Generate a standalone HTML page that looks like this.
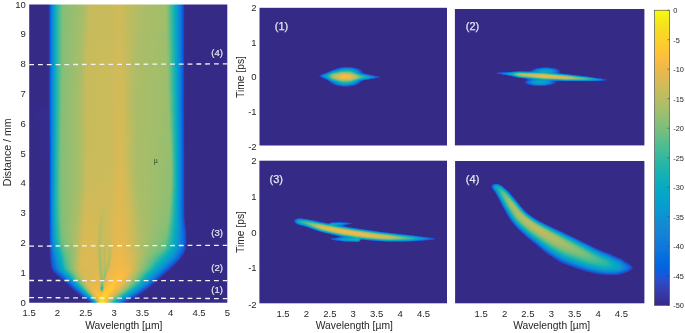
<!DOCTYPE html>
<html><head><meta charset="utf-8"><title>Spectral evolution</title>
<style>html,body{margin:0;padding:0;background:#fff}svg{display:block}text{font-family:"Liberation Sans",sans-serif}</style></head>
<body>
<svg width="685" height="333" viewBox="0 0 685 333">
<defs>
<filter id="pf" x="0" y="0" width="685" height="333" filterUnits="userSpaceOnUse" color-interpolation-filters="sRGB"><feComponentTransfer><feFuncR type="table" tableValues="0.2081 0.2116 0.2123 0.2081 0.1959 0.1707 0.1253 0.0591 0.0117 0.006 0.0165 0.0329 0.0498 0.0629 0.0723 0.0779 0.0793 0.0749 0.0641 0.0488 0.0343 0.0265 0.0239 0.0231 0.0228 0.0267 0.0384 0.059 0.0843 0.1133 0.1453 0.1801 0.2178 0.2586 0.3022 0.3482 0.3953 0.442 0.4871 0.53 0.5709 0.6099 0.6473 0.6834 0.7184 0.7525 0.7858 0.8185 0.8507 0.8824 0.9139 0.945 0.9739 0.9938 0.999 0.9955 0.988 0.9789 0.9697 0.9626 0.9589 0.9598 0.9661 0.9763"/><feFuncG type="table" tableValues="0.1663 0.1898 0.2138 0.2386 0.2645 0.2919 0.3242 0.3598 0.3875 0.4086 0.4266 0.443 0.4586 0.4737 0.4887 0.504 0.52 0.5375 0.557 0.5772 0.5966 0.6137 0.6287 0.6418 0.6535 0.6642 0.6743 0.6838 0.6928 0.7015 0.7098 0.7177 0.725 0.7317 0.7376 0.7424 0.7459 0.7481 0.7491 0.7491 0.7485 0.7473 0.7456 0.7435 0.7411 0.7384 0.7356 0.7327 0.7299 0.7274 0.7258 0.7261 0.7314 0.7455 0.7653 0.7861 0.8066 0.8271 0.8481 0.8705 0.8949 0.9218 0.9514 0.9831"/><feFuncB type="table" tableValues="0.5292 0.5777 0.627 0.6771 0.7279 0.7792 0.8303 0.8683 0.882 0.8828 0.8786 0.872 0.8641 0.8554 0.8467 0.8384 0.8312 0.8263 0.824 0.8228 0.8199 0.8135 0.8038 0.7913 0.7768 0.7607 0.7436 0.7254 0.7062 0.6859 0.6646 0.6424 0.6193 0.5954 0.5712 0.5473 0.5244 0.5033 0.484 0.4661 0.4494 0.4337 0.4188 0.4044 0.3905 0.3768 0.3633 0.3498 0.336 0.3217 0.3063 0.2886 0.2666 0.2403 0.2164 0.1967 0.1794 0.1633 0.1475 0.1309 0.1132 0.0948 0.0755 0.0538"/></feComponentTransfer></filter>
<linearGradient id="a0" gradientUnits="userSpaceOnUse" x1="29" x2="228"><stop offset=".003" stop-color="#000"/><stop offset=".093" stop-color="#000"/><stop offset=".098" stop-color="#020202"/><stop offset=".103" stop-color="#0c0c0c"/><stop offset=".108" stop-color="#232323"/><stop offset=".113" stop-color="#353535"/><stop offset=".133" stop-color="#6d6d6d"/><stop offset=".138" stop-color="#777"/><stop offset=".143" stop-color="#7e7e7e"/><stop offset=".163" stop-color="#959595"/><stop offset=".173" stop-color="#9e9e9e"/><stop offset=".279" stop-color="#acacac"/><stop offset=".309" stop-color="#bababa"/><stop offset=".415" stop-color="#bababa"/><stop offset=".45" stop-color="#bebebe"/><stop offset=".56" stop-color="#aeaeae"/><stop offset=".686" stop-color="#a8a8a8"/><stop offset=".696" stop-color="#9f9f9f"/><stop offset=".731" stop-color="#707070"/><stop offset=".766" stop-color="#2b2b2b"/><stop offset=".771" stop-color="#1f1f1f"/><stop offset=".776" stop-color="#0f0f0f"/><stop offset=".781" stop-color="#030303"/><stop offset=".786" stop-color="#000"/><stop offset=".997" stop-color="#000"/></linearGradient>
<linearGradient id="a1" gradientUnits="userSpaceOnUse" x1="29" x2="228"><stop offset=".003" stop-color="#000"/><stop offset=".093" stop-color="#000"/><stop offset=".098" stop-color="#020202"/><stop offset=".103" stop-color="#0c0c0c"/><stop offset=".108" stop-color="#232323"/><stop offset=".113" stop-color="#353535"/><stop offset=".133" stop-color="#6d6d6d"/><stop offset=".138" stop-color="#777"/><stop offset=".143" stop-color="#7e7e7e"/><stop offset=".163" stop-color="#969696"/><stop offset=".173" stop-color="#9e9e9e"/><stop offset=".274" stop-color="#ababab"/><stop offset=".304" stop-color="#bababa"/><stop offset=".415" stop-color="#bababa"/><stop offset=".45" stop-color="#bebebe"/><stop offset=".56" stop-color="#adadad"/><stop offset=".686" stop-color="#a8a8a8"/><stop offset=".696" stop-color="#9f9f9f"/><stop offset=".731" stop-color="#707070"/><stop offset=".766" stop-color="#2b2b2b"/><stop offset=".771" stop-color="#1f1f1f"/><stop offset=".776" stop-color="#0f0f0f"/><stop offset=".781" stop-color="#030303"/><stop offset=".786" stop-color="#000"/><stop offset=".997" stop-color="#000"/></linearGradient>
<linearGradient id="a2" gradientUnits="userSpaceOnUse" x1="29" x2="228"><stop offset=".003" stop-color="#000"/><stop offset=".093" stop-color="#000"/><stop offset=".098" stop-color="#020202"/><stop offset=".103" stop-color="#0c0c0c"/><stop offset=".108" stop-color="#232323"/><stop offset=".113" stop-color="#353535"/><stop offset=".133" stop-color="#6d6d6d"/><stop offset=".138" stop-color="#777"/><stop offset=".143" stop-color="#7e7e7e"/><stop offset=".163" stop-color="#969696"/><stop offset=".173" stop-color="#9e9e9e"/><stop offset=".274" stop-color="#acacac"/><stop offset=".304" stop-color="#bababa"/><stop offset=".415" stop-color="#bababa"/><stop offset=".45" stop-color="#bebebe"/><stop offset=".555" stop-color="#aeaeae"/><stop offset=".681" stop-color="#a9a9a9"/><stop offset=".691" stop-color="#a5a5a5"/><stop offset=".731" stop-color="#707070"/><stop offset=".766" stop-color="#2c2c2c"/><stop offset=".771" stop-color="#1f1f1f"/><stop offset=".776" stop-color="#0f0f0f"/><stop offset=".781" stop-color="#030303"/><stop offset=".786" stop-color="#000"/><stop offset=".997" stop-color="#000"/></linearGradient>
<linearGradient id="a3" gradientUnits="userSpaceOnUse" x1="29" x2="228"><stop offset=".003" stop-color="#000"/><stop offset=".093" stop-color="#000"/><stop offset=".098" stop-color="#020202"/><stop offset=".103" stop-color="#0c0c0c"/><stop offset=".108" stop-color="#232323"/><stop offset=".113" stop-color="#353535"/><stop offset=".133" stop-color="#6d6d6d"/><stop offset=".138" stop-color="#777"/><stop offset=".143" stop-color="#7e7e7e"/><stop offset=".163" stop-color="#969696"/><stop offset=".173" stop-color="#9e9e9e"/><stop offset=".269" stop-color="#ababab"/><stop offset=".304" stop-color="#bababa"/><stop offset=".415" stop-color="#bababa"/><stop offset=".45" stop-color="#bebebe"/><stop offset=".55" stop-color="#aeaeae"/><stop offset=".681" stop-color="#a9a9a9"/><stop offset=".691" stop-color="#a6a6a6"/><stop offset=".731" stop-color="#717171"/><stop offset=".766" stop-color="#2c2c2c"/><stop offset=".771" stop-color="#1f1f1f"/><stop offset=".776" stop-color="#0f0f0f"/><stop offset=".781" stop-color="#030303"/><stop offset=".786" stop-color="#000"/><stop offset=".997" stop-color="#000"/></linearGradient>
<linearGradient id="a4" gradientUnits="userSpaceOnUse" x1="29" x2="228"><stop offset=".003" stop-color="#000"/><stop offset=".093" stop-color="#000"/><stop offset=".098" stop-color="#020202"/><stop offset=".103" stop-color="#0c0c0c"/><stop offset=".108" stop-color="#232323"/><stop offset=".113" stop-color="#353535"/><stop offset=".133" stop-color="#6d6d6d"/><stop offset=".143" stop-color="#7e7e7e"/><stop offset=".163" stop-color="#979797"/><stop offset=".173" stop-color="#9e9e9e"/><stop offset=".264" stop-color="#ababab"/><stop offset=".299" stop-color="#bababa"/><stop offset=".415" stop-color="#bababa"/><stop offset=".45" stop-color="#bebebe"/><stop offset=".485" stop-color="#bababa"/><stop offset=".55" stop-color="#adadad"/><stop offset=".691" stop-color="#a6a6a6"/><stop offset=".731" stop-color="#717171"/><stop offset=".766" stop-color="#2c2c2c"/><stop offset=".771" stop-color="#1f1f1f"/><stop offset=".776" stop-color="#0f0f0f"/><stop offset=".781" stop-color="#030303"/><stop offset=".786" stop-color="#000"/><stop offset=".997" stop-color="#000"/></linearGradient>
<linearGradient id="a5" gradientUnits="userSpaceOnUse" x1="29" x2="228"><stop offset=".003" stop-color="#000"/><stop offset=".093" stop-color="#000"/><stop offset=".098" stop-color="#020202"/><stop offset=".103" stop-color="#0c0c0c"/><stop offset=".108" stop-color="#232323"/><stop offset=".113" stop-color="#353535"/><stop offset=".133" stop-color="#6d6d6d"/><stop offset=".138" stop-color="#777"/><stop offset=".148" stop-color="#858585"/><stop offset=".163" stop-color="#979797"/><stop offset=".173" stop-color="#9e9e9e"/><stop offset=".264" stop-color="#ababab"/><stop offset=".299" stop-color="#bababa"/><stop offset=".415" stop-color="#bbb"/><stop offset=".45" stop-color="#bebebe"/><stop offset=".485" stop-color="#bababa"/><stop offset=".545" stop-color="#aeaeae"/><stop offset=".691" stop-color="#a7a7a7"/><stop offset=".701" stop-color="#9b9b9b"/><stop offset=".731" stop-color="#727272"/><stop offset=".766" stop-color="#2c2c2c"/><stop offset=".771" stop-color="#202020"/><stop offset=".776" stop-color="#0f0f0f"/><stop offset=".781" stop-color="#030303"/><stop offset=".786" stop-color="#000"/><stop offset=".997" stop-color="#000"/></linearGradient>
<linearGradient id="a6" gradientUnits="userSpaceOnUse" x1="29" x2="228"><stop offset=".003" stop-color="#000"/><stop offset=".093" stop-color="#000"/><stop offset=".098" stop-color="#020202"/><stop offset=".103" stop-color="#0c0c0c"/><stop offset=".108" stop-color="#232323"/><stop offset=".113" stop-color="#353535"/><stop offset=".133" stop-color="#6d6d6d"/><stop offset=".143" stop-color="#7f7f7f"/><stop offset=".168" stop-color="#9d9d9d"/><stop offset=".259" stop-color="#ababab"/><stop offset=".294" stop-color="#bababa"/><stop offset=".415" stop-color="#bbb"/><stop offset=".45" stop-color="#bfbfbf"/><stop offset=".485" stop-color="#bababa"/><stop offset=".545" stop-color="#adadad"/><stop offset=".691" stop-color="#a7a7a7"/><stop offset=".701" stop-color="#9c9c9c"/><stop offset=".726" stop-color="#7a7a7a"/><stop offset=".736" stop-color="#6a6a6a"/><stop offset=".766" stop-color="#2c2c2c"/><stop offset=".771" stop-color="#202020"/><stop offset=".776" stop-color="#0f0f0f"/><stop offset=".781" stop-color="#030303"/><stop offset=".786" stop-color="#000"/><stop offset=".997" stop-color="#000"/></linearGradient>
<linearGradient id="a7" gradientUnits="userSpaceOnUse" x1="29" x2="228"><stop offset=".003" stop-color="#000"/><stop offset=".093" stop-color="#000"/><stop offset=".098" stop-color="#020202"/><stop offset=".103" stop-color="#0c0c0c"/><stop offset=".108" stop-color="#232323"/><stop offset=".113" stop-color="#353535"/><stop offset=".133" stop-color="#6d6d6d"/><stop offset=".143" stop-color="#7f7f7f"/><stop offset=".168" stop-color="#9d9d9d"/><stop offset=".259" stop-color="#ababab"/><stop offset=".294" stop-color="#bababa"/><stop offset=".415" stop-color="#bbb"/><stop offset=".45" stop-color="#bfbfbf"/><stop offset=".485" stop-color="#bababa"/><stop offset=".54" stop-color="#adadad"/><stop offset=".691" stop-color="#a7a7a7"/><stop offset=".701" stop-color="#9e9e9e"/><stop offset=".736" stop-color="#6b6b6b"/><stop offset=".766" stop-color="#2c2c2c"/><stop offset=".771" stop-color="#202020"/><stop offset=".776" stop-color="#0f0f0f"/><stop offset=".781" stop-color="#030303"/><stop offset=".786" stop-color="#000"/><stop offset=".997" stop-color="#000"/></linearGradient>
<linearGradient id="a8" gradientUnits="userSpaceOnUse" x1="29" x2="228"><stop offset=".003" stop-color="#000"/><stop offset=".093" stop-color="#000"/><stop offset=".098" stop-color="#020202"/><stop offset=".103" stop-color="#0c0c0c"/><stop offset=".108" stop-color="#232323"/><stop offset=".113" stop-color="#353535"/><stop offset=".133" stop-color="#6d6d6d"/><stop offset=".143" stop-color="#7f7f7f"/><stop offset=".168" stop-color="#9d9d9d"/><stop offset=".259" stop-color="#ababab"/><stop offset=".289" stop-color="#bababa"/><stop offset=".415" stop-color="#bbb"/><stop offset=".45" stop-color="#bfbfbf"/><stop offset=".485" stop-color="#bababa"/><stop offset=".535" stop-color="#aeaeae"/><stop offset=".686" stop-color="#a8a8a8"/><stop offset=".696" stop-color="#a5a5a5"/><stop offset=".726" stop-color="#7c7c7c"/><stop offset=".736" stop-color="#6c6c6c"/><stop offset=".766" stop-color="#2c2c2c"/><stop offset=".771" stop-color="#202020"/><stop offset=".776" stop-color="#0f0f0f"/><stop offset=".781" stop-color="#030303"/><stop offset=".786" stop-color="#000"/><stop offset=".997" stop-color="#000"/></linearGradient>
<linearGradient id="a9" gradientUnits="userSpaceOnUse" x1="29" x2="228"><stop offset=".003" stop-color="#000"/><stop offset=".093" stop-color="#000"/><stop offset=".098" stop-color="#020202"/><stop offset=".103" stop-color="#0c0c0c"/><stop offset=".108" stop-color="#232323"/><stop offset=".113" stop-color="#353535"/><stop offset=".133" stop-color="#6d6d6d"/><stop offset=".143" stop-color="#7f7f7f"/><stop offset=".163" stop-color="#999"/><stop offset=".168" stop-color="#9d9d9d"/><stop offset=".254" stop-color="#aaa"/><stop offset=".289" stop-color="#bababa"/><stop offset=".415" stop-color="#bbb"/><stop offset=".45" stop-color="#c0c0c0"/><stop offset=".485" stop-color="#bbb"/><stop offset=".535" stop-color="#aeaeae"/><stop offset=".696" stop-color="#a6a6a6"/><stop offset=".706" stop-color="#999"/><stop offset=".736" stop-color="#6d6d6d"/><stop offset=".766" stop-color="#2d2d2d"/><stop offset=".771" stop-color="#202020"/><stop offset=".776" stop-color="#0f0f0f"/><stop offset=".781" stop-color="#030303"/><stop offset=".786" stop-color="#000"/><stop offset=".997" stop-color="#000"/></linearGradient>
<linearGradient id="a10" gradientUnits="userSpaceOnUse" x1="29" x2="228"><stop offset=".003" stop-color="#000"/><stop offset=".093" stop-color="#000"/><stop offset=".098" stop-color="#020202"/><stop offset=".103" stop-color="#0c0c0c"/><stop offset=".108" stop-color="#232323"/><stop offset=".113" stop-color="#353535"/><stop offset=".133" stop-color="#6d6d6d"/><stop offset=".143" stop-color="#7f7f7f"/><stop offset=".163" stop-color="#999"/><stop offset=".168" stop-color="#9e9e9e"/><stop offset=".254" stop-color="#ababab"/><stop offset=".289" stop-color="#bababa"/><stop offset=".415" stop-color="#bbb"/><stop offset=".45" stop-color="#c0c0c0"/><stop offset=".485" stop-color="#bbb"/><stop offset=".535" stop-color="#adadad"/><stop offset=".696" stop-color="#a6a6a6"/><stop offset=".706" stop-color="#9a9a9a"/><stop offset=".736" stop-color="#6e6e6e"/><stop offset=".766" stop-color="#2d2d2d"/><stop offset=".771" stop-color="#202020"/><stop offset=".776" stop-color="#0f0f0f"/><stop offset=".781" stop-color="#030303"/><stop offset=".786" stop-color="#000"/><stop offset=".997" stop-color="#000"/></linearGradient>
<linearGradient id="a11" gradientUnits="userSpaceOnUse" x1="29" x2="228"><stop offset=".003" stop-color="#000"/><stop offset=".093" stop-color="#000"/><stop offset=".098" stop-color="#020202"/><stop offset=".103" stop-color="#0c0c0c"/><stop offset=".108" stop-color="#232323"/><stop offset=".113" stop-color="#353535"/><stop offset=".133" stop-color="#6d6d6d"/><stop offset=".143" stop-color="#7f7f7f"/><stop offset=".163" stop-color="#9a9a9a"/><stop offset=".168" stop-color="#9e9e9e"/><stop offset=".254" stop-color="#ababab"/><stop offset=".289" stop-color="#bababa"/><stop offset=".415" stop-color="#bbb"/><stop offset=".45" stop-color="#c0c0c0"/><stop offset=".485" stop-color="#bbb"/><stop offset=".535" stop-color="#adadad"/><stop offset=".696" stop-color="#a6a6a6"/><stop offset=".706" stop-color="#9c9c9c"/><stop offset=".736" stop-color="#6f6f6f"/><stop offset=".766" stop-color="#2d2d2d"/><stop offset=".771" stop-color="#202020"/><stop offset=".776" stop-color="#0f0f0f"/><stop offset=".781" stop-color="#030303"/><stop offset=".786" stop-color="#000"/><stop offset=".997" stop-color="#000"/></linearGradient>
<linearGradient id="a12" gradientUnits="userSpaceOnUse" x1="29" x2="228"><stop offset=".003" stop-color="#000"/><stop offset=".093" stop-color="#000"/><stop offset=".098" stop-color="#020202"/><stop offset=".103" stop-color="#0c0c0c"/><stop offset=".108" stop-color="#232323"/><stop offset=".113" stop-color="#353535"/><stop offset=".133" stop-color="#6d6d6d"/><stop offset=".143" stop-color="#808080"/><stop offset=".163" stop-color="#9a9a9a"/><stop offset=".168" stop-color="#9e9e9e"/><stop offset=".254" stop-color="#ababab"/><stop offset=".289" stop-color="#bababa"/><stop offset=".415" stop-color="#bbb"/><stop offset=".455" stop-color="#c0c0c0"/><stop offset=".485" stop-color="#bbb"/><stop offset=".535" stop-color="#adadad"/><stop offset=".696" stop-color="#a6a6a6"/><stop offset=".701" stop-color="#a3a3a3"/><stop offset=".706" stop-color="#9d9d9d"/><stop offset=".736" stop-color="#707070"/><stop offset=".766" stop-color="#2d2d2d"/><stop offset=".771" stop-color="#202020"/><stop offset=".776" stop-color="#0f0f0f"/><stop offset=".781" stop-color="#030303"/><stop offset=".786" stop-color="#000"/><stop offset=".997" stop-color="#000"/></linearGradient>
<linearGradient id="a13" gradientUnits="userSpaceOnUse" x1="29" x2="228"><stop offset=".003" stop-color="#000"/><stop offset=".098" stop-color="#020202"/><stop offset=".103" stop-color="#0c0c0c"/><stop offset=".108" stop-color="#232323"/><stop offset=".113" stop-color="#353535"/><stop offset=".133" stop-color="#6d6d6d"/><stop offset=".138" stop-color="#787878"/><stop offset=".153" stop-color="#8e8e8e"/><stop offset=".163" stop-color="#9b9b9b"/><stop offset=".168" stop-color="#9e9e9e"/><stop offset=".254" stop-color="#ababab"/><stop offset=".289" stop-color="#bababa"/><stop offset=".415" stop-color="#bbb"/><stop offset=".455" stop-color="#c1c1c1"/><stop offset=".485" stop-color="#bbb"/><stop offset=".535" stop-color="#adadad"/><stop offset=".691" stop-color="#a7a7a7"/><stop offset=".701" stop-color="#a4a4a4"/><stop offset=".736" stop-color="#707070"/><stop offset=".766" stop-color="#2e2e2e"/><stop offset=".771" stop-color="#202020"/><stop offset=".776" stop-color="#0f0f0f"/><stop offset=".781" stop-color="#030303"/><stop offset=".786" stop-color="#000"/><stop offset=".997" stop-color="#000"/></linearGradient>
<linearGradient id="a14" gradientUnits="userSpaceOnUse" x1="29" x2="228"><stop offset=".003" stop-color="#000"/><stop offset=".098" stop-color="#020202"/><stop offset=".103" stop-color="#0c0c0c"/><stop offset=".108" stop-color="#232323"/><stop offset=".113" stop-color="#353535"/><stop offset=".133" stop-color="#6e6e6e"/><stop offset=".138" stop-color="#787878"/><stop offset=".158" stop-color="#959595"/><stop offset=".168" stop-color="#9e9e9e"/><stop offset=".254" stop-color="#ababab"/><stop offset=".289" stop-color="#bababa"/><stop offset=".415" stop-color="#bbb"/><stop offset=".455" stop-color="#c1c1c1"/><stop offset=".485" stop-color="#bbb"/><stop offset=".535" stop-color="#adadad"/><stop offset=".701" stop-color="#a5a5a5"/><stop offset=".706" stop-color="#9f9f9f"/><stop offset=".736" stop-color="#717171"/><stop offset=".766" stop-color="#2e2e2e"/><stop offset=".771" stop-color="#212121"/><stop offset=".776" stop-color="#101010"/><stop offset=".781" stop-color="#030303"/><stop offset=".786" stop-color="#000"/><stop offset=".997" stop-color="#000"/></linearGradient>
<linearGradient id="a15" gradientUnits="userSpaceOnUse" x1="29" x2="228"><stop offset=".003" stop-color="#000"/><stop offset=".098" stop-color="#020202"/><stop offset=".103" stop-color="#0c0c0c"/><stop offset=".108" stop-color="#222"/><stop offset=".113" stop-color="#343434"/><stop offset=".133" stop-color="#6e6e6e"/><stop offset=".138" stop-color="#787878"/><stop offset=".158" stop-color="#969696"/><stop offset=".168" stop-color="#9e9e9e"/><stop offset=".254" stop-color="#ababab"/><stop offset=".289" stop-color="#bababa"/><stop offset=".415" stop-color="#bcbcbc"/><stop offset=".455" stop-color="#c1c1c1"/><stop offset=".485" stop-color="#bcbcbc"/><stop offset=".535" stop-color="#adadad"/><stop offset=".701" stop-color="#a5a5a5"/><stop offset=".711" stop-color="#999"/><stop offset=".736" stop-color="#717171"/><stop offset=".766" stop-color="#2e2e2e"/><stop offset=".781" stop-color="#030303"/><stop offset=".786" stop-color="#000"/><stop offset=".997" stop-color="#000"/></linearGradient>
<linearGradient id="a16" gradientUnits="userSpaceOnUse" x1="29" x2="228"><stop offset=".003" stop-color="#000"/><stop offset=".098" stop-color="#010101"/><stop offset=".103" stop-color="#0b0b0b"/><stop offset=".108" stop-color="#222"/><stop offset=".113" stop-color="#343434"/><stop offset=".133" stop-color="#6e6e6e"/><stop offset=".138" stop-color="#797979"/><stop offset=".158" stop-color="#969696"/><stop offset=".163" stop-color="#9c9c9c"/><stop offset=".168" stop-color="#9e9e9e"/><stop offset=".254" stop-color="#ababab"/><stop offset=".289" stop-color="#bababa"/><stop offset=".415" stop-color="#bcbcbc"/><stop offset=".455" stop-color="#c2c2c2"/><stop offset=".485" stop-color="#bcbcbc"/><stop offset=".535" stop-color="#adadad"/><stop offset=".701" stop-color="#a5a5a5"/><stop offset=".706" stop-color="#a1a1a1"/><stop offset=".711" stop-color="#9a9a9a"/><stop offset=".741" stop-color="#686868"/><stop offset=".766" stop-color="#2f2f2f"/><stop offset=".781" stop-color="#040404"/><stop offset=".786" stop-color="#000"/><stop offset=".997" stop-color="#000"/></linearGradient>
<linearGradient id="a17" gradientUnits="userSpaceOnUse" x1="29" x2="228"><stop offset=".003" stop-color="#000"/><stop offset=".098" stop-color="#010101"/><stop offset=".103" stop-color="#0b0b0b"/><stop offset=".108" stop-color="#222"/><stop offset=".113" stop-color="#343434"/><stop offset=".133" stop-color="#6e6e6e"/><stop offset=".138" stop-color="#797979"/><stop offset=".158" stop-color="#969696"/><stop offset=".163" stop-color="#9c9c9c"/><stop offset=".168" stop-color="#9f9f9f"/><stop offset=".254" stop-color="#ababab"/><stop offset=".289" stop-color="#bababa"/><stop offset=".415" stop-color="#bcbcbc"/><stop offset=".455" stop-color="#c2c2c2"/><stop offset=".485" stop-color="#bcbcbc"/><stop offset=".535" stop-color="#adadad"/><stop offset=".696" stop-color="#a6a6a6"/><stop offset=".706" stop-color="#a3a3a3"/><stop offset=".741" stop-color="#686868"/><stop offset=".766" stop-color="#2f2f2f"/><stop offset=".781" stop-color="#040404"/><stop offset=".786" stop-color="#000"/><stop offset=".997" stop-color="#000"/></linearGradient>
<linearGradient id="a18" gradientUnits="userSpaceOnUse" x1="29" x2="228"><stop offset=".003" stop-color="#000"/><stop offset=".098" stop-color="#010101"/><stop offset=".103" stop-color="#0b0b0b"/><stop offset=".108" stop-color="#222"/><stop offset=".113" stop-color="#343434"/><stop offset=".133" stop-color="#6f6f6f"/><stop offset=".143" stop-color="#818181"/><stop offset=".163" stop-color="#9d9d9d"/><stop offset=".254" stop-color="#ababab"/><stop offset=".289" stop-color="#bababa"/><stop offset=".415" stop-color="#bcbcbc"/><stop offset=".455" stop-color="#c2c2c2"/><stop offset=".485" stop-color="#bcbcbc"/><stop offset=".535" stop-color="#adadad"/><stop offset=".696" stop-color="#a6a6a6"/><stop offset=".706" stop-color="#a4a4a4"/><stop offset=".716" stop-color="#959595"/><stop offset=".741" stop-color="#696969"/><stop offset=".766" stop-color="#303030"/><stop offset=".781" stop-color="#040404"/><stop offset=".786" stop-color="#000"/><stop offset=".997" stop-color="#000"/></linearGradient>
<linearGradient id="a19" gradientUnits="userSpaceOnUse" x1="29" x2="228"><stop offset=".003" stop-color="#000"/><stop offset=".098" stop-color="#010101"/><stop offset=".103" stop-color="#0a0a0a"/><stop offset=".108" stop-color="#212121"/><stop offset=".113" stop-color="#343434"/><stop offset=".133" stop-color="#6f6f6f"/><stop offset=".143" stop-color="#818181"/><stop offset=".163" stop-color="#9d9d9d"/><stop offset=".254" stop-color="#ababab"/><stop offset=".289" stop-color="#bababa"/><stop offset=".415" stop-color="#bcbcbc"/><stop offset=".455" stop-color="#c2c2c2"/><stop offset=".485" stop-color="#bcbcbc"/><stop offset=".535" stop-color="#adadad"/><stop offset=".706" stop-color="#a4a4a4"/><stop offset=".716" stop-color="#969696"/><stop offset=".741" stop-color="#696969"/><stop offset=".766" stop-color="#303030"/><stop offset=".771" stop-color="#232323"/><stop offset=".781" stop-color="#040404"/><stop offset=".786" stop-color="#000"/><stop offset=".997" stop-color="#000"/></linearGradient>
<linearGradient id="a20" gradientUnits="userSpaceOnUse" x1="29" x2="228"><stop offset=".003" stop-color="#000"/><stop offset=".098" stop-color="#010101"/><stop offset=".103" stop-color="#0a0a0a"/><stop offset=".108" stop-color="#212121"/><stop offset=".113" stop-color="#343434"/><stop offset=".133" stop-color="#6f6f6f"/><stop offset=".143" stop-color="#828282"/><stop offset=".163" stop-color="#9d9d9d"/><stop offset=".254" stop-color="#ababab"/><stop offset=".289" stop-color="#bababa"/><stop offset=".415" stop-color="#bcbcbc"/><stop offset=".455" stop-color="#c2c2c2"/><stop offset=".485" stop-color="#bdbdbd"/><stop offset=".535" stop-color="#adadad"/><stop offset=".706" stop-color="#a4a4a4"/><stop offset=".711" stop-color="#9f9f9f"/><stop offset=".716" stop-color="#979797"/><stop offset=".741" stop-color="#6a6a6a"/><stop offset=".766" stop-color="#303030"/><stop offset=".771" stop-color="#232323"/><stop offset=".781" stop-color="#040404"/><stop offset=".786" stop-color="#000"/><stop offset=".997" stop-color="#000"/></linearGradient>
<linearGradient id="a21" gradientUnits="userSpaceOnUse" x1="29" x2="228"><stop offset=".003" stop-color="#000"/><stop offset=".098" stop-color="#010101"/><stop offset=".103" stop-color="#090909"/><stop offset=".108" stop-color="#212121"/><stop offset=".113" stop-color="#343434"/><stop offset=".133" stop-color="#707070"/><stop offset=".143" stop-color="#828282"/><stop offset=".158" stop-color="#989898"/><stop offset=".163" stop-color="#9d9d9d"/><stop offset=".254" stop-color="#ababab"/><stop offset=".289" stop-color="#bababa"/><stop offset=".415" stop-color="#bcbcbc"/><stop offset=".455" stop-color="#c3c3c3"/><stop offset=".485" stop-color="#bdbdbd"/><stop offset=".535" stop-color="#adadad"/><stop offset=".706" stop-color="#a4a4a4"/><stop offset=".711" stop-color="#a0a0a0"/><stop offset=".716" stop-color="#999"/><stop offset=".741" stop-color="#6a6a6a"/><stop offset=".766" stop-color="#313131"/><stop offset=".771" stop-color="#242424"/><stop offset=".781" stop-color="#040404"/><stop offset=".786" stop-color="#000"/><stop offset=".997" stop-color="#000"/></linearGradient>
<linearGradient id="a22" gradientUnits="userSpaceOnUse" x1="29" x2="228"><stop offset=".003" stop-color="#000"/><stop offset=".098" stop-color="#010101"/><stop offset=".103" stop-color="#090909"/><stop offset=".108" stop-color="#202020"/><stop offset=".113" stop-color="#343434"/><stop offset=".133" stop-color="#707070"/><stop offset=".143" stop-color="#828282"/><stop offset=".158" stop-color="#989898"/><stop offset=".163" stop-color="#9d9d9d"/><stop offset=".254" stop-color="#ababab"/><stop offset=".289" stop-color="#bababa"/><stop offset=".415" stop-color="#bcbcbc"/><stop offset=".46" stop-color="#c3c3c3"/><stop offset=".535" stop-color="#adadad"/><stop offset=".701" stop-color="#a5a5a5"/><stop offset=".711" stop-color="#a2a2a2"/><stop offset=".741" stop-color="#6a6a6a"/><stop offset=".766" stop-color="#313131"/><stop offset=".771" stop-color="#242424"/><stop offset=".781" stop-color="#050505"/><stop offset=".786" stop-color="#000"/><stop offset=".997" stop-color="#000"/></linearGradient>
<linearGradient id="a23" gradientUnits="userSpaceOnUse" x1="29" x2="228"><stop offset=".003" stop-color="#000"/><stop offset=".098" stop-color="#010101"/><stop offset=".103" stop-color="#090909"/><stop offset=".108" stop-color="#202020"/><stop offset=".113" stop-color="#343434"/><stop offset=".133" stop-color="#717171"/><stop offset=".138" stop-color="#7b7b7b"/><stop offset=".153" stop-color="#929292"/><stop offset=".163" stop-color="#9d9d9d"/><stop offset=".254" stop-color="#ababab"/><stop offset=".289" stop-color="#bababa"/><stop offset=".415" stop-color="#bcbcbc"/><stop offset=".46" stop-color="#c3c3c3"/><stop offset=".535" stop-color="#adadad"/><stop offset=".701" stop-color="#a5a5a5"/><stop offset=".711" stop-color="#a2a2a2"/><stop offset=".716" stop-color="#9b9b9b"/><stop offset=".741" stop-color="#6a6a6a"/><stop offset=".771" stop-color="#252525"/><stop offset=".781" stop-color="#050505"/><stop offset=".786" stop-color="#000"/><stop offset=".997" stop-color="#000"/></linearGradient>
<linearGradient id="a24" gradientUnits="userSpaceOnUse" x1="29" x2="228"><stop offset=".003" stop-color="#000"/><stop offset=".098" stop-color="#000"/><stop offset=".103" stop-color="#080808"/><stop offset=".108" stop-color="#202020"/><stop offset=".113" stop-color="#343434"/><stop offset=".133" stop-color="#727272"/><stop offset=".138" stop-color="#7c7c7c"/><stop offset=".153" stop-color="#929292"/><stop offset=".163" stop-color="#9e9e9e"/><stop offset=".254" stop-color="#ababab"/><stop offset=".289" stop-color="#bbb"/><stop offset=".415" stop-color="#bcbcbc"/><stop offset=".46" stop-color="#c4c4c4"/><stop offset=".535" stop-color="#adadad"/><stop offset=".711" stop-color="#a3a3a3"/><stop offset=".716" stop-color="#9c9c9c"/><stop offset=".721" stop-color="#939393"/><stop offset=".741" stop-color="#6b6b6b"/><stop offset=".771" stop-color="#252525"/><stop offset=".781" stop-color="#050505"/><stop offset=".786" stop-color="#000"/><stop offset=".997" stop-color="#000"/></linearGradient>
<linearGradient id="a25" gradientUnits="userSpaceOnUse" x1="29" x2="228"><stop offset=".003" stop-color="#000"/><stop offset=".098" stop-color="#000"/><stop offset=".103" stop-color="#080808"/><stop offset=".108" stop-color="#202020"/><stop offset=".113" stop-color="#343434"/><stop offset=".133" stop-color="#737373"/><stop offset=".153" stop-color="#939393"/><stop offset=".163" stop-color="#9e9e9e"/><stop offset=".254" stop-color="#ababab"/><stop offset=".289" stop-color="#bbb"/><stop offset=".415" stop-color="#bdbdbd"/><stop offset=".46" stop-color="#c5c5c5"/><stop offset=".49" stop-color="#bdbdbd"/><stop offset=".535" stop-color="#adadad"/><stop offset=".711" stop-color="#a2a2a2"/><stop offset=".716" stop-color="#9d9d9d"/><stop offset=".721" stop-color="#949494"/><stop offset=".741" stop-color="#6b6b6b"/><stop offset=".771" stop-color="#262626"/><stop offset=".781" stop-color="#050505"/><stop offset=".786" stop-color="#000"/><stop offset=".997" stop-color="#000"/></linearGradient>
<linearGradient id="a26" gradientUnits="userSpaceOnUse" x1="29" x2="228"><stop offset=".003" stop-color="#000"/><stop offset=".098" stop-color="#000"/><stop offset=".103" stop-color="#080808"/><stop offset=".108" stop-color="#202020"/><stop offset=".113" stop-color="#343434"/><stop offset=".128" stop-color="#656565"/><stop offset=".133" stop-color="#747474"/><stop offset=".153" stop-color="#939393"/><stop offset=".163" stop-color="#9e9e9e"/><stop offset=".254" stop-color="#ababab"/><stop offset=".289" stop-color="#bbb"/><stop offset=".415" stop-color="#bdbdbd"/><stop offset=".46" stop-color="#c5c5c5"/><stop offset=".495" stop-color="#bcbcbc"/><stop offset=".535" stop-color="#aeaeae"/><stop offset=".711" stop-color="#a2a2a2"/><stop offset=".716" stop-color="#9c9c9c"/><stop offset=".721" stop-color="#939393"/><stop offset=".741" stop-color="#6b6b6b"/><stop offset=".771" stop-color="#262626"/><stop offset=".781" stop-color="#050505"/><stop offset=".786" stop-color="#000"/><stop offset=".997" stop-color="#000"/></linearGradient>
<linearGradient id="a27" gradientUnits="userSpaceOnUse" x1="29" x2="228"><stop offset=".003" stop-color="#000"/><stop offset=".098" stop-color="#000"/><stop offset=".103" stop-color="#080808"/><stop offset=".108" stop-color="#202020"/><stop offset=".113" stop-color="#343434"/><stop offset=".128" stop-color="#666"/><stop offset=".133" stop-color="#747474"/><stop offset=".153" stop-color="#939393"/><stop offset=".163" stop-color="#9d9d9d"/><stop offset=".254" stop-color="#ababab"/><stop offset=".289" stop-color="#bcbcbc"/><stop offset=".41" stop-color="#bdbdbd"/><stop offset=".46" stop-color="#c5c5c5"/><stop offset=".495" stop-color="#bdbdbd"/><stop offset=".54" stop-color="#adadad"/><stop offset=".711" stop-color="#a1a1a1"/><stop offset=".721" stop-color="#929292"/><stop offset=".746" stop-color="#606060"/><stop offset=".771" stop-color="#262626"/><stop offset=".781" stop-color="#050505"/><stop offset=".786" stop-color="#000"/><stop offset=".997" stop-color="#000"/></linearGradient>
<linearGradient id="a28" gradientUnits="userSpaceOnUse" x1="29" x2="228"><stop offset=".003" stop-color="#000"/><stop offset=".098" stop-color="#000"/><stop offset=".103" stop-color="#080808"/><stop offset=".108" stop-color="#202020"/><stop offset=".113" stop-color="#343434"/><stop offset=".128" stop-color="#666"/><stop offset=".133" stop-color="#747474"/><stop offset=".153" stop-color="#939393"/><stop offset=".163" stop-color="#9d9d9d"/><stop offset=".254" stop-color="#acacac"/><stop offset=".289" stop-color="#bcbcbc"/><stop offset=".41" stop-color="#bebebe"/><stop offset=".46" stop-color="#c6c6c6"/><stop offset=".495" stop-color="#bebebe"/><stop offset=".54" stop-color="#adadad"/><stop offset=".701" stop-color="#a3a3a3"/><stop offset=".711" stop-color="#a1a1a1"/><stop offset=".721" stop-color="#909090"/><stop offset=".746" stop-color="#5f5f5f"/><stop offset=".771" stop-color="#262626"/><stop offset=".781" stop-color="#050505"/><stop offset=".786" stop-color="#000"/><stop offset=".997" stop-color="#000"/></linearGradient>
<linearGradient id="a29" gradientUnits="userSpaceOnUse" x1="29" x2="228"><stop offset=".003" stop-color="#000"/><stop offset=".098" stop-color="#000"/><stop offset=".103" stop-color="#080808"/><stop offset=".108" stop-color="#202020"/><stop offset=".113" stop-color="#343434"/><stop offset=".128" stop-color="#676767"/><stop offset=".133" stop-color="#747474"/><stop offset=".153" stop-color="#929292"/><stop offset=".163" stop-color="#9d9d9d"/><stop offset=".249" stop-color="#ababab"/><stop offset=".289" stop-color="#bdbdbd"/><stop offset=".405" stop-color="#bebebe"/><stop offset=".46" stop-color="#c6c6c6"/><stop offset=".495" stop-color="#bebebe"/><stop offset=".54" stop-color="#aeaeae"/><stop offset=".701" stop-color="#a3a3a3"/><stop offset=".711" stop-color="#a0a0a0"/><stop offset=".721" stop-color="#8f8f8f"/><stop offset=".746" stop-color="#5f5f5f"/><stop offset=".771" stop-color="#262626"/><stop offset=".781" stop-color="#050505"/><stop offset=".786" stop-color="#000"/><stop offset=".997" stop-color="#000"/></linearGradient>
<linearGradient id="a30" gradientUnits="userSpaceOnUse" x1="29" x2="228"><stop offset=".003" stop-color="#000"/><stop offset=".098" stop-color="#000"/><stop offset=".103" stop-color="#080808"/><stop offset=".108" stop-color="#202020"/><stop offset=".113" stop-color="#343434"/><stop offset=".128" stop-color="#676767"/><stop offset=".133" stop-color="#747474"/><stop offset=".153" stop-color="#929292"/><stop offset=".163" stop-color="#9d9d9d"/><stop offset=".249" stop-color="#acacac"/><stop offset=".289" stop-color="#bdbdbd"/><stop offset=".405" stop-color="#bebebe"/><stop offset=".46" stop-color="#c6c6c6"/><stop offset=".5" stop-color="#bdbdbd"/><stop offset=".545" stop-color="#adadad"/><stop offset=".706" stop-color="#a2a2a2"/><stop offset=".711" stop-color="#9e9e9e"/><stop offset=".716" stop-color="#979797"/><stop offset=".741" stop-color="#696969"/><stop offset=".771" stop-color="#262626"/><stop offset=".781" stop-color="#050505"/><stop offset=".786" stop-color="#000"/><stop offset=".997" stop-color="#000"/></linearGradient>
<linearGradient id="a31" gradientUnits="userSpaceOnUse" x1="29" x2="228"><stop offset=".003" stop-color="#000"/><stop offset=".098" stop-color="#000"/><stop offset=".103" stop-color="#080808"/><stop offset=".108" stop-color="#202020"/><stop offset=".113" stop-color="#353535"/><stop offset=".128" stop-color="#676767"/><stop offset=".133" stop-color="#747474"/><stop offset=".153" stop-color="#929292"/><stop offset=".163" stop-color="#9c9c9c"/><stop offset=".249" stop-color="#acacac"/><stop offset=".284" stop-color="#bdbdbd"/><stop offset=".399" stop-color="#bebebe"/><stop offset=".46" stop-color="#c6c6c6"/><stop offset=".5" stop-color="#bebebe"/><stop offset=".545" stop-color="#aeaeae"/><stop offset=".706" stop-color="#a1a1a1"/><stop offset=".711" stop-color="#9d9d9d"/><stop offset=".716" stop-color="#959595"/><stop offset=".741" stop-color="#686868"/><stop offset=".771" stop-color="#252525"/><stop offset=".781" stop-color="#050505"/><stop offset=".786" stop-color="#000"/><stop offset=".997" stop-color="#000"/></linearGradient>
<linearGradient id="a32" gradientUnits="userSpaceOnUse" x1="29" x2="228"><stop offset=".003" stop-color="#000"/><stop offset=".098" stop-color="#000"/><stop offset=".103" stop-color="#080808"/><stop offset=".108" stop-color="#202020"/><stop offset=".113" stop-color="#353535"/><stop offset=".128" stop-color="#676767"/><stop offset=".133" stop-color="#747474"/><stop offset=".153" stop-color="#929292"/><stop offset=".163" stop-color="#9c9c9c"/><stop offset=".249" stop-color="#adadad"/><stop offset=".284" stop-color="#bebebe"/><stop offset=".394" stop-color="#bdbdbd"/><stop offset=".455" stop-color="#c6c6c6"/><stop offset=".5" stop-color="#bebebe"/><stop offset=".55" stop-color="#adadad"/><stop offset=".706" stop-color="#a0a0a0"/><stop offset=".716" stop-color="#939393"/><stop offset=".741" stop-color="#676767"/><stop offset=".771" stop-color="#252525"/><stop offset=".781" stop-color="#050505"/><stop offset=".786" stop-color="#000"/><stop offset=".997" stop-color="#000"/></linearGradient>
<linearGradient id="a33" gradientUnits="userSpaceOnUse" x1="29" x2="228"><stop offset=".003" stop-color="#000"/><stop offset=".098" stop-color="#000"/><stop offset=".103" stop-color="#080808"/><stop offset=".108" stop-color="#202020"/><stop offset=".113" stop-color="#353535"/><stop offset=".128" stop-color="#676767"/><stop offset=".133" stop-color="#747474"/><stop offset=".153" stop-color="#919191"/><stop offset=".163" stop-color="#9c9c9c"/><stop offset=".249" stop-color="#adadad"/><stop offset=".284" stop-color="#bfbfbf"/><stop offset=".389" stop-color="#bdbdbd"/><stop offset=".455" stop-color="#c7c7c7"/><stop offset=".5" stop-color="#bfbfbf"/><stop offset=".55" stop-color="#adadad"/><stop offset=".706" stop-color="#a0a0a0"/><stop offset=".711" stop-color="#9a9a9a"/><stop offset=".741" stop-color="#676767"/><stop offset=".771" stop-color="#252525"/><stop offset=".781" stop-color="#050505"/><stop offset=".786" stop-color="#000"/><stop offset=".997" stop-color="#000"/></linearGradient>
<linearGradient id="a34" gradientUnits="userSpaceOnUse" x1="29" x2="228"><stop offset=".003" stop-color="#000"/><stop offset=".098" stop-color="#000"/><stop offset=".103" stop-color="#080808"/><stop offset=".108" stop-color="#202020"/><stop offset=".113" stop-color="#353535"/><stop offset=".128" stop-color="#676767"/><stop offset=".133" stop-color="#737373"/><stop offset=".153" stop-color="#919191"/><stop offset=".163" stop-color="#9c9c9c"/><stop offset=".244" stop-color="#acacac"/><stop offset=".284" stop-color="#bfbfbf"/><stop offset=".389" stop-color="#bdbdbd"/><stop offset=".455" stop-color="#c7c7c7"/><stop offset=".5" stop-color="#bfbfbf"/><stop offset=".55" stop-color="#aeaeae"/><stop offset=".696" stop-color="#a2a2a2"/><stop offset=".706" stop-color="#9f9f9f"/><stop offset=".741" stop-color="#666"/><stop offset=".771" stop-color="#252525"/><stop offset=".781" stop-color="#050505"/><stop offset=".786" stop-color="#000"/><stop offset=".997" stop-color="#000"/></linearGradient>
<linearGradient id="a35" gradientUnits="userSpaceOnUse" x1="29" x2="228"><stop offset=".003" stop-color="#000"/><stop offset=".098" stop-color="#000"/><stop offset=".103" stop-color="#080808"/><stop offset=".108" stop-color="#202020"/><stop offset=".113" stop-color="#353535"/><stop offset=".128" stop-color="#676767"/><stop offset=".133" stop-color="#737373"/><stop offset=".153" stop-color="#919191"/><stop offset=".163" stop-color="#9c9c9c"/><stop offset=".244" stop-color="#adadad"/><stop offset=".284" stop-color="#bfbfbf"/><stop offset=".344" stop-color="#bfbfbf"/><stop offset=".364" stop-color="#bcbcbc"/><stop offset=".389" stop-color="#bcbcbc"/><stop offset=".455" stop-color="#c7c7c7"/><stop offset=".5" stop-color="#bfbfbf"/><stop offset=".555" stop-color="#adadad"/><stop offset=".701" stop-color="#a1a1a1"/><stop offset=".706" stop-color="#9e9e9e"/><stop offset=".711" stop-color="#979797"/><stop offset=".741" stop-color="#666"/><stop offset=".771" stop-color="#252525"/><stop offset=".781" stop-color="#050505"/><stop offset=".786" stop-color="#000"/><stop offset=".997" stop-color="#000"/></linearGradient>
<linearGradient id="a36" gradientUnits="userSpaceOnUse" x1="29" x2="228"><stop offset=".003" stop-color="#000"/><stop offset=".098" stop-color="#000"/><stop offset=".103" stop-color="#080808"/><stop offset=".108" stop-color="#202020"/><stop offset=".113" stop-color="#353535"/><stop offset=".128" stop-color="#676767"/><stop offset=".133" stop-color="#737373"/><stop offset=".153" stop-color="#919191"/><stop offset=".163" stop-color="#9b9b9b"/><stop offset=".244" stop-color="#adadad"/><stop offset=".284" stop-color="#c0c0c0"/><stop offset=".349" stop-color="#bfbfbf"/><stop offset=".364" stop-color="#bababa"/><stop offset=".394" stop-color="#bdbdbd"/><stop offset=".455" stop-color="#c7c7c7"/><stop offset=".5" stop-color="#c0c0c0"/><stop offset=".555" stop-color="#adadad"/><stop offset=".701" stop-color="#a0a0a0"/><stop offset=".711" stop-color="#969696"/><stop offset=".741" stop-color="#666"/><stop offset=".771" stop-color="#252525"/><stop offset=".781" stop-color="#050505"/><stop offset=".786" stop-color="#000"/><stop offset=".997" stop-color="#000"/></linearGradient>
<linearGradient id="a37" gradientUnits="userSpaceOnUse" x1="29" x2="228"><stop offset=".003" stop-color="#000"/><stop offset=".098" stop-color="#000"/><stop offset=".103" stop-color="#080808"/><stop offset=".108" stop-color="#202020"/><stop offset=".113" stop-color="#343434"/><stop offset=".128" stop-color="#666"/><stop offset=".133" stop-color="#727272"/><stop offset=".153" stop-color="#919191"/><stop offset=".163" stop-color="#9b9b9b"/><stop offset=".244" stop-color="#adadad"/><stop offset=".284" stop-color="#c0c0c0"/><stop offset=".349" stop-color="#bfbfbf"/><stop offset=".364" stop-color="#b9b9b9"/><stop offset=".455" stop-color="#c7c7c7"/><stop offset=".5" stop-color="#c0c0c0"/><stop offset=".555" stop-color="#adadad"/><stop offset=".701" stop-color="#a0a0a0"/><stop offset=".711" stop-color="#949494"/><stop offset=".741" stop-color="#656565"/><stop offset=".771" stop-color="#252525"/><stop offset=".781" stop-color="#050505"/><stop offset=".786" stop-color="#000"/><stop offset=".997" stop-color="#000"/></linearGradient>
<linearGradient id="a38" gradientUnits="userSpaceOnUse" x1="29" x2="228"><stop offset=".003" stop-color="#000"/><stop offset=".098" stop-color="#000"/><stop offset=".103" stop-color="#080808"/><stop offset=".108" stop-color="#202020"/><stop offset=".113" stop-color="#343434"/><stop offset=".128" stop-color="#666"/><stop offset=".133" stop-color="#727272"/><stop offset=".153" stop-color="#909090"/><stop offset=".163" stop-color="#9b9b9b"/><stop offset=".244" stop-color="#aeaeae"/><stop offset=".284" stop-color="#c0c0c0"/><stop offset=".349" stop-color="#bfbfbf"/><stop offset=".364" stop-color="#b8b8b8"/><stop offset=".374" stop-color="#bcbcbc"/><stop offset=".394" stop-color="#bdbdbd"/><stop offset=".455" stop-color="#c8c8c8"/><stop offset=".5" stop-color="#c0c0c0"/><stop offset=".555" stop-color="#aeaeae"/><stop offset=".701" stop-color="#9f9f9f"/><stop offset=".711" stop-color="#939393"/><stop offset=".741" stop-color="#656565"/><stop offset=".771" stop-color="#262626"/><stop offset=".781" stop-color="#060606"/><stop offset=".786" stop-color="#000"/><stop offset=".997" stop-color="#000"/></linearGradient>
<linearGradient id="a39" gradientUnits="userSpaceOnUse" x1="29" x2="228"><stop offset=".003" stop-color="#000"/><stop offset=".098" stop-color="#000"/><stop offset=".103" stop-color="#080808"/><stop offset=".108" stop-color="#202020"/><stop offset=".113" stop-color="#343434"/><stop offset=".128" stop-color="#666"/><stop offset=".133" stop-color="#727272"/><stop offset=".153" stop-color="#909090"/><stop offset=".163" stop-color="#9b9b9b"/><stop offset=".244" stop-color="#aeaeae"/><stop offset=".284" stop-color="#c1c1c1"/><stop offset=".344" stop-color="#c0c0c0"/><stop offset=".349" stop-color="#bfbfbf"/><stop offset=".364" stop-color="#b7b7b7"/><stop offset=".374" stop-color="#bbb"/><stop offset=".389" stop-color="#bcbcbc"/><stop offset=".455" stop-color="#c8c8c8"/><stop offset=".5" stop-color="#c0c0c0"/><stop offset=".555" stop-color="#aeaeae"/><stop offset=".701" stop-color="#9f9f9f"/><stop offset=".711" stop-color="#929292"/><stop offset=".741" stop-color="#656565"/><stop offset=".771" stop-color="#272727"/><stop offset=".781" stop-color="#070707"/><stop offset=".786" stop-color="#010101"/><stop offset=".997" stop-color="#000"/></linearGradient>
<linearGradient id="a40" gradientUnits="userSpaceOnUse" x1="29" x2="228"><stop offset=".003" stop-color="#000"/><stop offset=".098" stop-color="#000"/><stop offset=".103" stop-color="#080808"/><stop offset=".108" stop-color="#202020"/><stop offset=".113" stop-color="#343434"/><stop offset=".128" stop-color="#656565"/><stop offset=".133" stop-color="#727272"/><stop offset=".153" stop-color="#909090"/><stop offset=".163" stop-color="#9b9b9b"/><stop offset=".244" stop-color="#aeaeae"/><stop offset=".284" stop-color="#c1c1c1"/><stop offset=".344" stop-color="#c0c0c0"/><stop offset=".349" stop-color="#bfbfbf"/><stop offset=".359" stop-color="#b8b8b8"/><stop offset=".364" stop-color="#b6b6b6"/><stop offset=".374" stop-color="#bbb"/><stop offset=".389" stop-color="#bcbcbc"/><stop offset=".455" stop-color="#c8c8c8"/><stop offset=".5" stop-color="#c0c0c0"/><stop offset=".555" stop-color="#aeaeae"/><stop offset=".701" stop-color="#9e9e9e"/><stop offset=".741" stop-color="#646464"/><stop offset=".771" stop-color="#282828"/><stop offset=".776" stop-color="#1a1a1a"/><stop offset=".781" stop-color="#080808"/><stop offset=".786" stop-color="#010101"/><stop offset=".997" stop-color="#000"/></linearGradient>
<linearGradient id="a41" gradientUnits="userSpaceOnUse" x1="29" x2="228"><stop offset=".003" stop-color="#000"/><stop offset=".098" stop-color="#000"/><stop offset=".103" stop-color="#080808"/><stop offset=".108" stop-color="#202020"/><stop offset=".113" stop-color="#343434"/><stop offset=".128" stop-color="#656565"/><stop offset=".133" stop-color="#717171"/><stop offset=".153" stop-color="#909090"/><stop offset=".163" stop-color="#9b9b9b"/><stop offset=".244" stop-color="#aeaeae"/><stop offset=".274" stop-color="#bebebe"/><stop offset=".284" stop-color="#c1c1c1"/><stop offset=".344" stop-color="#c0c0c0"/><stop offset=".349" stop-color="#bfbfbf"/><stop offset=".359" stop-color="#b7b7b7"/><stop offset=".364" stop-color="#b6b6b6"/><stop offset=".374" stop-color="#bbb"/><stop offset=".389" stop-color="#bcbcbc"/><stop offset=".42" stop-color="#c3c3c3"/><stop offset=".455" stop-color="#c8c8c8"/><stop offset=".5" stop-color="#c0c0c0"/><stop offset=".555" stop-color="#aeaeae"/><stop offset=".691" stop-color="#a0a0a0"/><stop offset=".701" stop-color="#9d9d9d"/><stop offset=".741" stop-color="#646464"/><stop offset=".771" stop-color="#282828"/><stop offset=".776" stop-color="#1b1b1b"/><stop offset=".781" stop-color="#0a0a0a"/><stop offset=".786" stop-color="#010101"/><stop offset=".997" stop-color="#000"/></linearGradient>
<linearGradient id="a42" gradientUnits="userSpaceOnUse" x1="29" x2="228"><stop offset=".003" stop-color="#000"/><stop offset=".098" stop-color="#000"/><stop offset=".103" stop-color="#080808"/><stop offset=".108" stop-color="#202020"/><stop offset=".113" stop-color="#343434"/><stop offset=".128" stop-color="#656565"/><stop offset=".133" stop-color="#717171"/><stop offset=".153" stop-color="#8f8f8f"/><stop offset=".163" stop-color="#9b9b9b"/><stop offset=".244" stop-color="#aeaeae"/><stop offset=".279" stop-color="#c0c0c0"/><stop offset=".344" stop-color="#c0c0c0"/><stop offset=".349" stop-color="#bfbfbf"/><stop offset=".359" stop-color="#b6b6b6"/><stop offset=".364" stop-color="#b6b6b6"/><stop offset=".374" stop-color="#bbb"/><stop offset=".389" stop-color="#bcbcbc"/><stop offset=".415" stop-color="#c2c2c2"/><stop offset=".455" stop-color="#c8c8c8"/><stop offset=".5" stop-color="#c0c0c0"/><stop offset=".56" stop-color="#adadad"/><stop offset=".691" stop-color="#a0a0a0"/><stop offset=".701" stop-color="#9d9d9d"/><stop offset=".741" stop-color="#646464"/><stop offset=".771" stop-color="#292929"/><stop offset=".776" stop-color="#1c1c1c"/><stop offset=".781" stop-color="#0b0b0b"/><stop offset=".786" stop-color="#020202"/><stop offset=".796" stop-color="#000"/><stop offset=".997" stop-color="#000"/></linearGradient>
<linearGradient id="a43" gradientUnits="userSpaceOnUse" x1="29" x2="228"><stop offset=".003" stop-color="#000"/><stop offset=".098" stop-color="#000"/><stop offset=".103" stop-color="#080808"/><stop offset=".108" stop-color="#1f1f1f"/><stop offset=".113" stop-color="#343434"/><stop offset=".128" stop-color="#656565"/><stop offset=".133" stop-color="#717171"/><stop offset=".153" stop-color="#8f8f8f"/><stop offset=".163" stop-color="#9a9a9a"/><stop offset=".244" stop-color="#aeaeae"/><stop offset=".279" stop-color="#c1c1c1"/><stop offset=".344" stop-color="#c0c0c0"/><stop offset=".349" stop-color="#bfbfbf"/><stop offset=".359" stop-color="#b5b5b5"/><stop offset=".364" stop-color="#b5b5b5"/><stop offset=".374" stop-color="#bbb"/><stop offset=".389" stop-color="#bcbcbc"/><stop offset=".415" stop-color="#c2c2c2"/><stop offset=".455" stop-color="#c8c8c8"/><stop offset=".5" stop-color="#c0c0c0"/><stop offset=".56" stop-color="#aeaeae"/><stop offset=".696" stop-color="#9f9f9f"/><stop offset=".706" stop-color="#969696"/><stop offset=".741" stop-color="#646464"/><stop offset=".771" stop-color="#2a2a2a"/><stop offset=".776" stop-color="#1d1d1d"/><stop offset=".781" stop-color="#0d0d0d"/><stop offset=".786" stop-color="#020202"/><stop offset=".791" stop-color="#000"/><stop offset=".997" stop-color="#000"/></linearGradient>
<linearGradient id="a44" gradientUnits="userSpaceOnUse" x1="29" x2="228"><stop offset=".003" stop-color="#000"/><stop offset=".098" stop-color="#000"/><stop offset=".103" stop-color="#080808"/><stop offset=".108" stop-color="#1f1f1f"/><stop offset=".113" stop-color="#343434"/><stop offset=".128" stop-color="#646464"/><stop offset=".133" stop-color="#717171"/><stop offset=".153" stop-color="#8f8f8f"/><stop offset=".163" stop-color="#9a9a9a"/><stop offset=".244" stop-color="#afafaf"/><stop offset=".279" stop-color="#c1c1c1"/><stop offset=".344" stop-color="#c0c0c0"/><stop offset=".349" stop-color="#bfbfbf"/><stop offset=".359" stop-color="#b4b4b4"/><stop offset=".374" stop-color="#bbb"/><stop offset=".389" stop-color="#bcbcbc"/><stop offset=".415" stop-color="#c2c2c2"/><stop offset=".455" stop-color="#c8c8c8"/><stop offset=".5" stop-color="#c1c1c1"/><stop offset=".56" stop-color="#aeaeae"/><stop offset=".696" stop-color="#9e9e9e"/><stop offset=".706" stop-color="#959595"/><stop offset=".741" stop-color="#636363"/><stop offset=".771" stop-color="#2a2a2a"/><stop offset=".776" stop-color="#1f1f1f"/><stop offset=".781" stop-color="#0e0e0e"/><stop offset=".786" stop-color="#030303"/><stop offset=".791" stop-color="#000"/><stop offset=".997" stop-color="#000"/></linearGradient>
<linearGradient id="a45" gradientUnits="userSpaceOnUse" x1="29" x2="228"><stop offset=".003" stop-color="#000"/><stop offset=".098" stop-color="#000"/><stop offset=".103" stop-color="#080808"/><stop offset=".108" stop-color="#1f1f1f"/><stop offset=".113" stop-color="#343434"/><stop offset=".128" stop-color="#646464"/><stop offset=".133" stop-color="#707070"/><stop offset=".153" stop-color="#8e8e8e"/><stop offset=".163" stop-color="#9a9a9a"/><stop offset=".244" stop-color="#afafaf"/><stop offset=".279" stop-color="#c1c1c1"/><stop offset=".344" stop-color="#c1c1c1"/><stop offset=".349" stop-color="#bfbfbf"/><stop offset=".359" stop-color="#b4b4b4"/><stop offset=".374" stop-color="#bbb"/><stop offset=".389" stop-color="#bcbcbc"/><stop offset=".415" stop-color="#c2c2c2"/><stop offset=".455" stop-color="#c8c8c8"/><stop offset=".5" stop-color="#c1c1c1"/><stop offset=".56" stop-color="#aeaeae"/><stop offset=".696" stop-color="#9e9e9e"/><stop offset=".706" stop-color="#949494"/><stop offset=".741" stop-color="#636363"/><stop offset=".771" stop-color="#2b2b2b"/><stop offset=".776" stop-color="#202020"/><stop offset=".781" stop-color="#101010"/><stop offset=".786" stop-color="#030303"/><stop offset=".791" stop-color="#000"/><stop offset=".997" stop-color="#000"/></linearGradient>
<linearGradient id="a46" gradientUnits="userSpaceOnUse" x1="29" x2="228"><stop offset=".003" stop-color="#000"/><stop offset=".098" stop-color="#000"/><stop offset=".103" stop-color="#080808"/><stop offset=".108" stop-color="#1f1f1f"/><stop offset=".113" stop-color="#333"/><stop offset=".128" stop-color="#646464"/><stop offset=".133" stop-color="#707070"/><stop offset=".153" stop-color="#8e8e8e"/><stop offset=".163" stop-color="#9a9a9a"/><stop offset=".244" stop-color="#afafaf"/><stop offset=".279" stop-color="#c1c1c1"/><stop offset=".344" stop-color="#c1c1c1"/><stop offset=".349" stop-color="#bebebe"/><stop offset=".359" stop-color="#b3b3b3"/><stop offset=".374" stop-color="#bbb"/><stop offset=".389" stop-color="#bcbcbc"/><stop offset=".415" stop-color="#c3c3c3"/><stop offset=".455" stop-color="#c8c8c8"/><stop offset=".5" stop-color="#c1c1c1"/><stop offset=".56" stop-color="#aeaeae"/><stop offset=".696" stop-color="#9d9d9d"/><stop offset=".706" stop-color="#939393"/><stop offset=".741" stop-color="#636363"/><stop offset=".771" stop-color="#2c2c2c"/><stop offset=".776" stop-color="#212121"/><stop offset=".786" stop-color="#040404"/><stop offset=".791" stop-color="#000"/><stop offset=".997" stop-color="#000"/></linearGradient>
<linearGradient id="a47" gradientUnits="userSpaceOnUse" x1="29" x2="228"><stop offset=".003" stop-color="#000"/><stop offset=".098" stop-color="#000"/><stop offset=".103" stop-color="#080808"/><stop offset=".108" stop-color="#1f1f1f"/><stop offset=".113" stop-color="#333"/><stop offset=".128" stop-color="#636363"/><stop offset=".133" stop-color="#707070"/><stop offset=".158" stop-color="#959595"/><stop offset=".168" stop-color="#9c9c9c"/><stop offset=".244" stop-color="#afafaf"/><stop offset=".279" stop-color="#c1c1c1"/><stop offset=".344" stop-color="#c1c1c1"/><stop offset=".349" stop-color="#bebebe"/><stop offset=".359" stop-color="#b2b2b2"/><stop offset=".374" stop-color="#bbb"/><stop offset=".389" stop-color="#bcbcbc"/><stop offset=".415" stop-color="#c3c3c3"/><stop offset=".455" stop-color="#c8c8c8"/><stop offset=".5" stop-color="#c1c1c1"/><stop offset=".56" stop-color="#aeaeae"/><stop offset=".696" stop-color="#9d9d9d"/><stop offset=".706" stop-color="#929292"/><stop offset=".741" stop-color="#626262"/><stop offset=".771" stop-color="#2d2d2d"/><stop offset=".776" stop-color="#222"/><stop offset=".786" stop-color="#040404"/><stop offset=".791" stop-color="#000"/><stop offset=".997" stop-color="#000"/></linearGradient>
<linearGradient id="a48" gradientUnits="userSpaceOnUse" x1="29" x2="228"><stop offset=".003" stop-color="#000"/><stop offset=".098" stop-color="#000"/><stop offset=".103" stop-color="#080808"/><stop offset=".108" stop-color="#1f1f1f"/><stop offset=".113" stop-color="#333"/><stop offset=".128" stop-color="#636363"/><stop offset=".133" stop-color="#6f6f6f"/><stop offset=".158" stop-color="#949494"/><stop offset=".168" stop-color="#9c9c9c"/><stop offset=".244" stop-color="#afafaf"/><stop offset=".279" stop-color="#c1c1c1"/><stop offset=".344" stop-color="#c1c1c1"/><stop offset=".349" stop-color="#bebebe"/><stop offset=".359" stop-color="#b2b2b2"/><stop offset=".369" stop-color="#bababa"/><stop offset=".389" stop-color="#bcbcbc"/><stop offset=".415" stop-color="#c3c3c3"/><stop offset=".455" stop-color="#c9c9c9"/><stop offset=".5" stop-color="#c1c1c1"/><stop offset=".56" stop-color="#aeaeae"/><stop offset=".696" stop-color="#9c9c9c"/><stop offset=".741" stop-color="#626262"/><stop offset=".771" stop-color="#2d2d2d"/><stop offset=".776" stop-color="#232323"/><stop offset=".786" stop-color="#050505"/><stop offset=".791" stop-color="#000"/><stop offset=".997" stop-color="#000"/></linearGradient>
<linearGradient id="a49" gradientUnits="userSpaceOnUse" x1="29" x2="228"><stop offset=".003" stop-color="#000"/><stop offset=".098" stop-color="#000"/><stop offset=".103" stop-color="#080808"/><stop offset=".108" stop-color="#1f1f1f"/><stop offset=".113" stop-color="#333"/><stop offset=".128" stop-color="#636363"/><stop offset=".133" stop-color="#6f6f6f"/><stop offset=".158" stop-color="#949494"/><stop offset=".168" stop-color="#9c9c9c"/><stop offset=".244" stop-color="#afafaf"/><stop offset=".279" stop-color="#c1c1c1"/><stop offset=".344" stop-color="#c1c1c1"/><stop offset=".349" stop-color="#bebebe"/><stop offset=".359" stop-color="#b2b2b2"/><stop offset=".369" stop-color="#bababa"/><stop offset=".389" stop-color="#bcbcbc"/><stop offset=".415" stop-color="#c3c3c3"/><stop offset=".455" stop-color="#c9c9c9"/><stop offset=".5" stop-color="#c1c1c1"/><stop offset=".56" stop-color="#aeaeae"/><stop offset=".696" stop-color="#9c9c9c"/><stop offset=".741" stop-color="#626262"/><stop offset=".776" stop-color="#242424"/><stop offset=".786" stop-color="#060606"/><stop offset=".791" stop-color="#010101"/><stop offset=".997" stop-color="#000"/></linearGradient>
<linearGradient id="a50" gradientUnits="userSpaceOnUse" x1="29" x2="228"><stop offset=".003" stop-color="#000"/><stop offset=".098" stop-color="#000"/><stop offset=".103" stop-color="#080808"/><stop offset=".108" stop-color="#1f1f1f"/><stop offset=".113" stop-color="#333"/><stop offset=".128" stop-color="#626262"/><stop offset=".133" stop-color="#6f6f6f"/><stop offset=".158" stop-color="#949494"/><stop offset=".168" stop-color="#9c9c9c"/><stop offset=".244" stop-color="#b0b0b0"/><stop offset=".279" stop-color="#c2c2c2"/><stop offset=".344" stop-color="#c1c1c1"/><stop offset=".359" stop-color="#b1b1b1"/><stop offset=".369" stop-color="#bbb"/><stop offset=".389" stop-color="#bcbcbc"/><stop offset=".415" stop-color="#c3c3c3"/><stop offset=".455" stop-color="#c9c9c9"/><stop offset=".5" stop-color="#c1c1c1"/><stop offset=".56" stop-color="#afafaf"/><stop offset=".686" stop-color="#9e9e9e"/><stop offset=".696" stop-color="#9b9b9b"/><stop offset=".741" stop-color="#616161"/><stop offset=".776" stop-color="#252525"/><stop offset=".781" stop-color="#181818"/><stop offset=".786" stop-color="#080808"/><stop offset=".791" stop-color="#010101"/><stop offset=".997" stop-color="#000"/></linearGradient>
<linearGradient id="a51" gradientUnits="userSpaceOnUse" x1="29" x2="228"><stop offset=".003" stop-color="#000"/><stop offset=".098" stop-color="#000"/><stop offset=".103" stop-color="#080808"/><stop offset=".113" stop-color="#333"/><stop offset=".128" stop-color="#626262"/><stop offset=".133" stop-color="#6e6e6e"/><stop offset=".158" stop-color="#939393"/><stop offset=".163" stop-color="#999"/><stop offset=".168" stop-color="#9c9c9c"/><stop offset=".244" stop-color="#b0b0b0"/><stop offset=".279" stop-color="#c2c2c2"/><stop offset=".344" stop-color="#c1c1c1"/><stop offset=".359" stop-color="#b1b1b1"/><stop offset=".369" stop-color="#bbb"/><stop offset=".389" stop-color="#bcbcbc"/><stop offset=".415" stop-color="#c3c3c3"/><stop offset=".455" stop-color="#c9c9c9"/><stop offset=".5" stop-color="#c1c1c1"/><stop offset=".56" stop-color="#afafaf"/><stop offset=".686" stop-color="#9e9e9e"/><stop offset=".696" stop-color="#9a9a9a"/><stop offset=".741" stop-color="#616161"/><stop offset=".776" stop-color="#262626"/><stop offset=".781" stop-color="#1a1a1a"/><stop offset=".786" stop-color="#0a0a0a"/><stop offset=".791" stop-color="#010101"/><stop offset=".997" stop-color="#000"/></linearGradient>
<linearGradient id="a52" gradientUnits="userSpaceOnUse" x1="29" x2="228"><stop offset=".003" stop-color="#000"/><stop offset=".098" stop-color="#000"/><stop offset=".103" stop-color="#070707"/><stop offset=".113" stop-color="#323232"/><stop offset=".128" stop-color="#616161"/><stop offset=".133" stop-color="#6e6e6e"/><stop offset=".158" stop-color="#939393"/><stop offset=".163" stop-color="#999"/><stop offset=".168" stop-color="#9b9b9b"/><stop offset=".239" stop-color="#aeaeae"/><stop offset=".279" stop-color="#c2c2c2"/><stop offset=".344" stop-color="#c1c1c1"/><stop offset=".349" stop-color="#bcbcbc"/><stop offset=".354" stop-color="#b4b4b4"/><stop offset=".359" stop-color="#b1b1b1"/><stop offset=".369" stop-color="#bbb"/><stop offset=".384" stop-color="#bbb"/><stop offset=".415" stop-color="#c3c3c3"/><stop offset=".455" stop-color="#c9c9c9"/><stop offset=".5" stop-color="#c1c1c1"/><stop offset=".565" stop-color="#aeaeae"/><stop offset=".691" stop-color="#9c9c9c"/><stop offset=".701" stop-color="#939393"/><stop offset=".741" stop-color="#616161"/><stop offset=".776" stop-color="#272727"/><stop offset=".781" stop-color="#1c1c1c"/><stop offset=".786" stop-color="#0b0b0b"/><stop offset=".791" stop-color="#020202"/><stop offset=".802" stop-color="#000"/><stop offset=".997" stop-color="#000"/></linearGradient>
<linearGradient id="a53" gradientUnits="userSpaceOnUse" x1="29" x2="228"><stop offset=".003" stop-color="#000"/><stop offset=".098" stop-color="#000"/><stop offset=".103" stop-color="#070707"/><stop offset=".113" stop-color="#323232"/><stop offset=".128" stop-color="#616161"/><stop offset=".133" stop-color="#6d6d6d"/><stop offset=".158" stop-color="#929292"/><stop offset=".168" stop-color="#9b9b9b"/><stop offset=".239" stop-color="#aeaeae"/><stop offset=".279" stop-color="#c2c2c2"/><stop offset=".339" stop-color="#c2c2c2"/><stop offset=".344" stop-color="#c1c1c1"/><stop offset=".349" stop-color="#bcbcbc"/><stop offset=".354" stop-color="#b3b3b3"/><stop offset=".359" stop-color="#b1b1b1"/><stop offset=".369" stop-color="#bbb"/><stop offset=".384" stop-color="#bbb"/><stop offset=".415" stop-color="#c3c3c3"/><stop offset=".455" stop-color="#c9c9c9"/><stop offset=".5" stop-color="#c1c1c1"/><stop offset=".565" stop-color="#aeaeae"/><stop offset=".691" stop-color="#9b9b9b"/><stop offset=".701" stop-color="#929292"/><stop offset=".741" stop-color="#606060"/><stop offset=".776" stop-color="#282828"/><stop offset=".781" stop-color="#1d1d1d"/><stop offset=".786" stop-color="#0d0d0d"/><stop offset=".791" stop-color="#020202"/><stop offset=".796" stop-color="#000"/><stop offset=".997" stop-color="#000"/></linearGradient>
<linearGradient id="a54" gradientUnits="userSpaceOnUse" x1="29" x2="228"><stop offset=".003" stop-color="#000"/><stop offset=".098" stop-color="#000"/><stop offset=".103" stop-color="#070707"/><stop offset=".113" stop-color="#323232"/><stop offset=".128" stop-color="#606060"/><stop offset=".133" stop-color="#6d6d6d"/><stop offset=".158" stop-color="#929292"/><stop offset=".168" stop-color="#9b9b9b"/><stop offset=".239" stop-color="#afafaf"/><stop offset=".274" stop-color="#c1c1c1"/><stop offset=".339" stop-color="#c2c2c2"/><stop offset=".344" stop-color="#c0c0c0"/><stop offset=".354" stop-color="#b2b2b2"/><stop offset=".359" stop-color="#b1b1b1"/><stop offset=".369" stop-color="#bbb"/><stop offset=".384" stop-color="#bbb"/><stop offset=".415" stop-color="#c4c4c4"/><stop offset=".455" stop-color="#c9c9c9"/><stop offset=".5" stop-color="#c2c2c2"/><stop offset=".565" stop-color="#aeaeae"/><stop offset=".691" stop-color="#9b9b9b"/><stop offset=".701" stop-color="#919191"/><stop offset=".741" stop-color="#606060"/><stop offset=".776" stop-color="#282828"/><stop offset=".781" stop-color="#1e1e1e"/><stop offset=".786" stop-color="#0f0f0f"/><stop offset=".791" stop-color="#030303"/><stop offset=".796" stop-color="#000"/><stop offset=".997" stop-color="#000"/></linearGradient>
<linearGradient id="a55" gradientUnits="userSpaceOnUse" x1="29" x2="228"><stop offset=".003" stop-color="#000"/><stop offset=".098" stop-color="#000"/><stop offset=".103" stop-color="#070707"/><stop offset=".113" stop-color="#313131"/><stop offset=".128" stop-color="#5f5f5f"/><stop offset=".133" stop-color="#6c6c6c"/><stop offset=".158" stop-color="#919191"/><stop offset=".168" stop-color="#9a9a9a"/><stop offset=".239" stop-color="#afafaf"/><stop offset=".274" stop-color="#c2c2c2"/><stop offset=".339" stop-color="#c2c2c2"/><stop offset=".344" stop-color="#c0c0c0"/><stop offset=".354" stop-color="#b1b1b1"/><stop offset=".359" stop-color="#b1b1b1"/><stop offset=".364" stop-color="#b8b8b8"/><stop offset=".369" stop-color="#bcbcbc"/><stop offset=".384" stop-color="#bbb"/><stop offset=".42" stop-color="#c5c5c5"/><stop offset=".455" stop-color="#c9c9c9"/><stop offset=".5" stop-color="#c2c2c2"/><stop offset=".565" stop-color="#aeaeae"/><stop offset=".691" stop-color="#999"/><stop offset=".741" stop-color="#5f5f5f"/><stop offset=".776" stop-color="#292929"/><stop offset=".781" stop-color="#1f1f1f"/><stop offset=".791" stop-color="#040404"/><stop offset=".796" stop-color="#000"/><stop offset=".997" stop-color="#000"/></linearGradient>
<linearGradient id="a56" gradientUnits="userSpaceOnUse" x1="29" x2="228"><stop offset=".003" stop-color="#000"/><stop offset=".098" stop-color="#000"/><stop offset=".103" stop-color="#070707"/><stop offset=".113" stop-color="#313131"/><stop offset=".133" stop-color="#6b6b6b"/><stop offset=".158" stop-color="#909090"/><stop offset=".168" stop-color="#9a9a9a"/><stop offset=".239" stop-color="#afafaf"/><stop offset=".274" stop-color="#c2c2c2"/><stop offset=".339" stop-color="#c2c2c2"/><stop offset=".344" stop-color="#c0c0c0"/><stop offset=".354" stop-color="#b0b0b0"/><stop offset=".359" stop-color="#b1b1b1"/><stop offset=".364" stop-color="#b9b9b9"/><stop offset=".369" stop-color="#bcbcbc"/><stop offset=".405" stop-color="#bebebe"/><stop offset=".42" stop-color="#c5c5c5"/><stop offset=".455" stop-color="#cacaca"/><stop offset=".5" stop-color="#c2c2c2"/><stop offset=".565" stop-color="#afafaf"/><stop offset=".681" stop-color="#9b9b9b"/><stop offset=".691" stop-color="#989898"/><stop offset=".741" stop-color="#5e5e5e"/><stop offset=".776" stop-color="#2a2a2a"/><stop offset=".781" stop-color="#202020"/><stop offset=".791" stop-color="#040404"/><stop offset=".796" stop-color="#000"/><stop offset=".997" stop-color="#000"/></linearGradient>
<linearGradient id="a57" gradientUnits="userSpaceOnUse" x1="29" x2="228"><stop offset=".003" stop-color="#000"/><stop offset=".098" stop-color="#000"/><stop offset=".103" stop-color="#070707"/><stop offset=".113" stop-color="#303030"/><stop offset=".133" stop-color="#696969"/><stop offset=".158" stop-color="#8e8e8e"/><stop offset=".168" stop-color="#999"/><stop offset=".239" stop-color="#afafaf"/><stop offset=".274" stop-color="#c2c2c2"/><stop offset=".339" stop-color="#c2c2c2"/><stop offset=".344" stop-color="#c0c0c0"/><stop offset=".354" stop-color="#afafaf"/><stop offset=".359" stop-color="#b1b1b1"/><stop offset=".364" stop-color="#b9b9b9"/><stop offset=".369" stop-color="#bcbcbc"/><stop offset=".394" stop-color="#bebebe"/><stop offset=".405" stop-color="#bcbcbc"/><stop offset=".42" stop-color="#c5c5c5"/><stop offset=".455" stop-color="#cacaca"/><stop offset=".5" stop-color="#c2c2c2"/><stop offset=".565" stop-color="#afafaf"/><stop offset=".686" stop-color="#999"/><stop offset=".696" stop-color="#919191"/><stop offset=".741" stop-color="#5d5d5d"/><stop offset=".776" stop-color="#2a2a2a"/><stop offset=".781" stop-color="#202020"/><stop offset=".791" stop-color="#040404"/><stop offset=".796" stop-color="#000"/><stop offset=".997" stop-color="#000"/></linearGradient>
<linearGradient id="a58" gradientUnits="userSpaceOnUse" x1="29" x2="228"><stop offset=".003" stop-color="#000"/><stop offset=".098" stop-color="#000"/><stop offset=".103" stop-color="#070707"/><stop offset=".113" stop-color="#2f2f2f"/><stop offset=".133" stop-color="#686868"/><stop offset=".138" stop-color="#717171"/><stop offset=".163" stop-color="#949494"/><stop offset=".173" stop-color="#9b9b9b"/><stop offset=".239" stop-color="#afafaf"/><stop offset=".274" stop-color="#c3c3c3"/><stop offset=".339" stop-color="#c2c2c2"/><stop offset=".344" stop-color="#c0c0c0"/><stop offset=".354" stop-color="#aeaeae"/><stop offset=".359" stop-color="#b1b1b1"/><stop offset=".364" stop-color="#b9b9b9"/><stop offset=".369" stop-color="#bcbcbc"/><stop offset=".379" stop-color="#bbb"/><stop offset=".394" stop-color="#bebebe"/><stop offset=".405" stop-color="#bbb"/><stop offset=".42" stop-color="#c5c5c5"/><stop offset=".455" stop-color="#cacaca"/><stop offset=".5" stop-color="#c2c2c2"/><stop offset=".565" stop-color="#aeaeae"/><stop offset=".686" stop-color="#989898"/><stop offset=".696" stop-color="#8f8f8f"/><stop offset=".741" stop-color="#5c5c5c"/><stop offset=".776" stop-color="#292929"/><stop offset=".781" stop-color="#202020"/><stop offset=".791" stop-color="#040404"/><stop offset=".796" stop-color="#000"/><stop offset=".997" stop-color="#000"/></linearGradient>
<linearGradient id="a59" gradientUnits="userSpaceOnUse" x1="29" x2="228"><stop offset=".003" stop-color="#000"/><stop offset=".098" stop-color="#000"/><stop offset=".103" stop-color="#070707"/><stop offset=".113" stop-color="#2f2f2f"/><stop offset=".133" stop-color="#666"/><stop offset=".138" stop-color="#6f6f6f"/><stop offset=".163" stop-color="#939393"/><stop offset=".173" stop-color="#9a9a9a"/><stop offset=".239" stop-color="#afafaf"/><stop offset=".264" stop-color="#bfbfbf"/><stop offset=".274" stop-color="#c3c3c3"/><stop offset=".339" stop-color="#c3c3c3"/><stop offset=".344" stop-color="#bfbfbf"/><stop offset=".354" stop-color="#aeaeae"/><stop offset=".359" stop-color="#b1b1b1"/><stop offset=".364" stop-color="#b9b9b9"/><stop offset=".369" stop-color="#bcbcbc"/><stop offset=".379" stop-color="#bbb"/><stop offset=".394" stop-color="#bebebe"/><stop offset=".405" stop-color="#bababa"/><stop offset=".41" stop-color="#bcbcbc"/><stop offset=".42" stop-color="#c6c6c6"/><stop offset=".455" stop-color="#cacaca"/><stop offset=".5" stop-color="#c2c2c2"/><stop offset=".565" stop-color="#aeaeae"/><stop offset=".686" stop-color="#979797"/><stop offset=".696" stop-color="#8e8e8e"/><stop offset=".741" stop-color="#5b5b5b"/><stop offset=".776" stop-color="#292929"/><stop offset=".781" stop-color="#202020"/><stop offset=".791" stop-color="#040404"/><stop offset=".796" stop-color="#000"/><stop offset=".997" stop-color="#000"/></linearGradient>
<linearGradient id="a60" gradientUnits="userSpaceOnUse" x1="29" x2="228"><stop offset=".003" stop-color="#000"/><stop offset=".098" stop-color="#000"/><stop offset=".103" stop-color="#060606"/><stop offset=".113" stop-color="#2e2e2e"/><stop offset=".133" stop-color="#656565"/><stop offset=".143" stop-color="#767676"/><stop offset=".163" stop-color="#929292"/><stop offset=".173" stop-color="#999"/><stop offset=".239" stop-color="#afafaf"/><stop offset=".264" stop-color="#bfbfbf"/><stop offset=".274" stop-color="#c3c3c3"/><stop offset=".339" stop-color="#c3c3c3"/><stop offset=".344" stop-color="#bfbfbf"/><stop offset=".354" stop-color="#adadad"/><stop offset=".359" stop-color="#b1b1b1"/><stop offset=".364" stop-color="#b9b9b9"/><stop offset=".369" stop-color="#bcbcbc"/><stop offset=".379" stop-color="#bababa"/><stop offset=".394" stop-color="#bfbfbf"/><stop offset=".405" stop-color="#b9b9b9"/><stop offset=".41" stop-color="#bbb"/><stop offset=".42" stop-color="#c6c6c6"/><stop offset=".455" stop-color="#cbcbcb"/><stop offset=".5" stop-color="#c2c2c2"/><stop offset=".565" stop-color="#aeaeae"/><stop offset=".686" stop-color="#979797"/><stop offset=".741" stop-color="#5a5a5a"/><stop offset=".776" stop-color="#292929"/><stop offset=".781" stop-color="#202020"/><stop offset=".791" stop-color="#040404"/><stop offset=".796" stop-color="#000"/><stop offset=".997" stop-color="#000"/></linearGradient>
<linearGradient id="a61" gradientUnits="userSpaceOnUse" x1="29" x2="228"><stop offset=".003" stop-color="#000"/><stop offset=".098" stop-color="#000"/><stop offset=".103" stop-color="#060606"/><stop offset=".113" stop-color="#2d2d2d"/><stop offset=".133" stop-color="#636363"/><stop offset=".143" stop-color="#747474"/><stop offset=".163" stop-color="#909090"/><stop offset=".173" stop-color="#999"/><stop offset=".239" stop-color="#afafaf"/><stop offset=".269" stop-color="#c2c2c2"/><stop offset=".339" stop-color="#c3c3c3"/><stop offset=".344" stop-color="#bfbfbf"/><stop offset=".354" stop-color="#adadad"/><stop offset=".359" stop-color="#b1b1b1"/><stop offset=".364" stop-color="#bababa"/><stop offset=".369" stop-color="#bcbcbc"/><stop offset=".379" stop-color="#b9b9b9"/><stop offset=".394" stop-color="#bfbfbf"/><stop offset=".405" stop-color="#b9b9b9"/><stop offset=".41" stop-color="#bbb"/><stop offset=".42" stop-color="#c6c6c6"/><stop offset=".455" stop-color="#cbcbcb"/><stop offset=".5" stop-color="#c2c2c2"/><stop offset=".565" stop-color="#aeaeae"/><stop offset=".686" stop-color="#969696"/><stop offset=".741" stop-color="#595959"/><stop offset=".776" stop-color="#282828"/><stop offset=".781" stop-color="#1f1f1f"/><stop offset=".791" stop-color="#040404"/><stop offset=".796" stop-color="#000"/><stop offset=".997" stop-color="#000"/></linearGradient>
<linearGradient id="a62" gradientUnits="userSpaceOnUse" x1="29" x2="228"><stop offset=".003" stop-color="#000"/><stop offset=".098" stop-color="#000"/><stop offset=".103" stop-color="#060606"/><stop offset=".113" stop-color="#2c2c2c"/><stop offset=".133" stop-color="#616161"/><stop offset=".143" stop-color="#737373"/><stop offset=".168" stop-color="#959595"/><stop offset=".239" stop-color="#afafaf"/><stop offset=".269" stop-color="#c2c2c2"/><stop offset=".339" stop-color="#c3c3c3"/><stop offset=".344" stop-color="#bfbfbf"/><stop offset=".354" stop-color="#adadad"/><stop offset=".359" stop-color="#b1b1b1"/><stop offset=".364" stop-color="#bababa"/><stop offset=".369" stop-color="#bcbcbc"/><stop offset=".379" stop-color="#b8b8b8"/><stop offset=".394" stop-color="#bfbfbf"/><stop offset=".405" stop-color="#b8b8b8"/><stop offset=".41" stop-color="#bababa"/><stop offset=".42" stop-color="#c6c6c6"/><stop offset=".46" stop-color="#cbcbcb"/><stop offset=".5" stop-color="#c2c2c2"/><stop offset=".565" stop-color="#aeaeae"/><stop offset=".686" stop-color="#959595"/><stop offset=".741" stop-color="#585858"/><stop offset=".776" stop-color="#282828"/><stop offset=".781" stop-color="#1f1f1f"/><stop offset=".791" stop-color="#040404"/><stop offset=".796" stop-color="#000"/><stop offset=".997" stop-color="#000"/></linearGradient>
<linearGradient id="a63" gradientUnits="userSpaceOnUse" x1="29" x2="228"><stop offset=".003" stop-color="#000"/><stop offset=".098" stop-color="#000"/><stop offset=".103" stop-color="#060606"/><stop offset=".113" stop-color="#2b2b2b"/><stop offset=".133" stop-color="#5f5f5f"/><stop offset=".143" stop-color="#717171"/><stop offset=".168" stop-color="#939393"/><stop offset=".234" stop-color="#adadad"/><stop offset=".269" stop-color="#c3c3c3"/><stop offset=".339" stop-color="#c3c3c3"/><stop offset=".344" stop-color="#bfbfbf"/><stop offset=".354" stop-color="#acacac"/><stop offset=".359" stop-color="#b1b1b1"/><stop offset=".364" stop-color="#bababa"/><stop offset=".369" stop-color="#bcbcbc"/><stop offset=".379" stop-color="#b8b8b8"/><stop offset=".394" stop-color="#bfbfbf"/><stop offset=".405" stop-color="#b8b8b8"/><stop offset=".41" stop-color="#b9b9b9"/><stop offset=".415" stop-color="#c1c1c1"/><stop offset=".42" stop-color="#c6c6c6"/><stop offset=".46" stop-color="#cbcbcb"/><stop offset=".5" stop-color="#c3c3c3"/><stop offset=".565" stop-color="#adadad"/><stop offset=".686" stop-color="#949494"/><stop offset=".741" stop-color="#575757"/><stop offset=".776" stop-color="#272727"/><stop offset=".781" stop-color="#1e1e1e"/><stop offset=".791" stop-color="#030303"/><stop offset=".796" stop-color="#000"/><stop offset=".997" stop-color="#000"/></linearGradient>
<linearGradient id="a64" gradientUnits="userSpaceOnUse" x1="29" x2="228"><stop offset=".003" stop-color="#000"/><stop offset=".098" stop-color="#000"/><stop offset=".103" stop-color="#050505"/><stop offset=".113" stop-color="#2a2a2a"/><stop offset=".118" stop-color="#383838"/><stop offset=".138" stop-color="#686868"/><stop offset=".168" stop-color="#929292"/><stop offset=".178" stop-color="#989898"/><stop offset=".234" stop-color="#adadad"/><stop offset=".264" stop-color="#c1c1c1"/><stop offset=".274" stop-color="#c3c3c3"/><stop offset=".339" stop-color="#c3c3c3"/><stop offset=".344" stop-color="#bfbfbf"/><stop offset=".354" stop-color="#acacac"/><stop offset=".364" stop-color="#bababa"/><stop offset=".369" stop-color="#bcbcbc"/><stop offset=".379" stop-color="#b7b7b7"/><stop offset=".394" stop-color="#bfbfbf"/><stop offset=".399" stop-color="#bdbdbd"/><stop offset=".405" stop-color="#b7b7b7"/><stop offset=".41" stop-color="#b8b8b8"/><stop offset=".415" stop-color="#c1c1c1"/><stop offset=".42" stop-color="#c6c6c6"/><stop offset=".46" stop-color="#ccc"/><stop offset=".5" stop-color="#c3c3c3"/><stop offset=".565" stop-color="#adadad"/><stop offset=".676" stop-color="#979797"/><stop offset=".686" stop-color="#939393"/><stop offset=".741" stop-color="#565656"/><stop offset=".776" stop-color="#272727"/><stop offset=".781" stop-color="#1d1d1d"/><stop offset=".786" stop-color="#0e0e0e"/><stop offset=".791" stop-color="#030303"/><stop offset=".796" stop-color="#000"/><stop offset=".997" stop-color="#000"/></linearGradient>
<linearGradient id="a65" gradientUnits="userSpaceOnUse" x1="29" x2="228"><stop offset=".003" stop-color="#000"/><stop offset=".098" stop-color="#000"/><stop offset=".103" stop-color="#050505"/><stop offset=".113" stop-color="#292929"/><stop offset=".118" stop-color="#373737"/><stop offset=".138" stop-color="#666"/><stop offset=".168" stop-color="#909090"/><stop offset=".178" stop-color="#979797"/><stop offset=".234" stop-color="#adadad"/><stop offset=".264" stop-color="#c1c1c1"/><stop offset=".274" stop-color="#c3c3c3"/><stop offset=".339" stop-color="#c3c3c3"/><stop offset=".344" stop-color="#bfbfbf"/><stop offset=".354" stop-color="#acacac"/><stop offset=".364" stop-color="#bababa"/><stop offset=".369" stop-color="#bcbcbc"/><stop offset=".379" stop-color="#b6b6b6"/><stop offset=".389" stop-color="#bebebe"/><stop offset=".394" stop-color="#c0c0c0"/><stop offset=".399" stop-color="#bdbdbd"/><stop offset=".405" stop-color="#b6b6b6"/><stop offset=".41" stop-color="#b8b8b8"/><stop offset=".415" stop-color="#c1c1c1"/><stop offset=".42" stop-color="#c6c6c6"/><stop offset=".46" stop-color="#ccc"/><stop offset=".5" stop-color="#c3c3c3"/><stop offset=".565" stop-color="#adadad"/><stop offset=".681" stop-color="#949494"/><stop offset=".691" stop-color="#8c8c8c"/><stop offset=".741" stop-color="#555"/><stop offset=".776" stop-color="#262626"/><stop offset=".781" stop-color="#1c1c1c"/><stop offset=".786" stop-color="#0d0d0d"/><stop offset=".791" stop-color="#030303"/><stop offset=".796" stop-color="#000"/><stop offset=".997" stop-color="#000"/></linearGradient>
<linearGradient id="a66" gradientUnits="userSpaceOnUse" x1="29" x2="228"><stop offset=".003" stop-color="#000"/><stop offset=".098" stop-color="#000"/><stop offset=".103" stop-color="#050505"/><stop offset=".113" stop-color="#282828"/><stop offset=".118" stop-color="#363636"/><stop offset=".138" stop-color="#646464"/><stop offset=".168" stop-color="#8f8f8f"/><stop offset=".178" stop-color="#969696"/><stop offset=".234" stop-color="#acacac"/><stop offset=".264" stop-color="#c1c1c1"/><stop offset=".274" stop-color="#c3c3c3"/><stop offset=".339" stop-color="#c3c3c3"/><stop offset=".344" stop-color="#bfbfbf"/><stop offset=".354" stop-color="#ababab"/><stop offset=".364" stop-color="#bababa"/><stop offset=".369" stop-color="#bcbcbc"/><stop offset=".379" stop-color="#b5b5b5"/><stop offset=".389" stop-color="#bebebe"/><stop offset=".394" stop-color="#c0c0c0"/><stop offset=".399" stop-color="#bdbdbd"/><stop offset=".405" stop-color="#b6b6b6"/><stop offset=".41" stop-color="#b7b7b7"/><stop offset=".415" stop-color="#c1c1c1"/><stop offset=".42" stop-color="#c7c7c7"/><stop offset=".46" stop-color="#ccc"/><stop offset=".5" stop-color="#c3c3c3"/><stop offset=".565" stop-color="#adadad"/><stop offset=".681" stop-color="#939393"/><stop offset=".691" stop-color="#8a8a8a"/><stop offset=".736" stop-color="#5a5a5a"/><stop offset=".776" stop-color="#252525"/><stop offset=".781" stop-color="#1b1b1b"/><stop offset=".786" stop-color="#0b0b0b"/><stop offset=".791" stop-color="#020202"/><stop offset=".796" stop-color="#000"/><stop offset=".997" stop-color="#000"/></linearGradient>
<linearGradient id="a67" gradientUnits="userSpaceOnUse" x1="29" x2="228"><stop offset=".003" stop-color="#000"/><stop offset=".098" stop-color="#000"/><stop offset=".103" stop-color="#040404"/><stop offset=".113" stop-color="#272727"/><stop offset=".118" stop-color="#353535"/><stop offset=".138" stop-color="#616161"/><stop offset=".168" stop-color="#8d8d8d"/><stop offset=".178" stop-color="#959595"/><stop offset=".234" stop-color="#acacac"/><stop offset=".264" stop-color="#c1c1c1"/><stop offset=".274" stop-color="#c3c3c3"/><stop offset=".339" stop-color="#c3c3c3"/><stop offset=".344" stop-color="#bfbfbf"/><stop offset=".354" stop-color="#ababab"/><stop offset=".364" stop-color="#bababa"/><stop offset=".369" stop-color="#bcbcbc"/><stop offset=".379" stop-color="#b4b4b4"/><stop offset=".389" stop-color="#bebebe"/><stop offset=".394" stop-color="#c0c0c0"/><stop offset=".399" stop-color="#bdbdbd"/><stop offset=".405" stop-color="#b6b6b6"/><stop offset=".41" stop-color="#b7b7b7"/><stop offset=".415" stop-color="#c1c1c1"/><stop offset=".42" stop-color="#c7c7c7"/><stop offset=".46" stop-color="#ccc"/><stop offset=".5" stop-color="#c3c3c3"/><stop offset=".565" stop-color="#adadad"/><stop offset=".671" stop-color="#959595"/><stop offset=".681" stop-color="#909090"/><stop offset=".726" stop-color="#646464"/><stop offset=".741" stop-color="#525252"/><stop offset=".776" stop-color="#232323"/><stop offset=".781" stop-color="#181818"/><stop offset=".786" stop-color="#090909"/><stop offset=".791" stop-color="#010101"/><stop offset=".997" stop-color="#000"/></linearGradient>
<linearGradient id="a68" gradientUnits="userSpaceOnUse" x1="29" x2="228"><stop offset=".003" stop-color="#000"/><stop offset=".098" stop-color="#000"/><stop offset=".103" stop-color="#040404"/><stop offset=".108" stop-color="#131313"/><stop offset=".113" stop-color="#262626"/><stop offset=".118" stop-color="#333"/><stop offset=".138" stop-color="#5f5f5f"/><stop offset=".168" stop-color="#8b8b8b"/><stop offset=".178" stop-color="#949494"/><stop offset=".234" stop-color="#acacac"/><stop offset=".264" stop-color="#c2c2c2"/><stop offset=".339" stop-color="#c4c4c4"/><stop offset=".344" stop-color="#bfbfbf"/><stop offset=".354" stop-color="#ababab"/><stop offset=".359" stop-color="#b1b1b1"/><stop offset=".364" stop-color="#bababa"/><stop offset=".369" stop-color="#bcbcbc"/><stop offset=".379" stop-color="#b4b4b4"/><stop offset=".389" stop-color="#bfbfbf"/><stop offset=".394" stop-color="#c0c0c0"/><stop offset=".399" stop-color="#bdbdbd"/><stop offset=".405" stop-color="#b6b6b6"/><stop offset=".41" stop-color="#b7b7b7"/><stop offset=".415" stop-color="#c1c1c1"/><stop offset=".42" stop-color="#c7c7c7"/><stop offset=".46" stop-color="#cdcdcd"/><stop offset=".5" stop-color="#c3c3c3"/><stop offset=".565" stop-color="#adadad"/><stop offset=".676" stop-color="#919191"/><stop offset=".691" stop-color="#848484"/><stop offset=".736" stop-color="#565656"/><stop offset=".771" stop-color="#282828"/><stop offset=".776" stop-color="#202020"/><stop offset=".786" stop-color="#060606"/><stop offset=".791" stop-color="#010101"/><stop offset=".997" stop-color="#000"/></linearGradient>
<linearGradient id="a69" gradientUnits="userSpaceOnUse" x1="29" x2="228"><stop offset=".003" stop-color="#000"/><stop offset=".098" stop-color="#000"/><stop offset=".103" stop-color="#040404"/><stop offset=".108" stop-color="#121212"/><stop offset=".113" stop-color="#252525"/><stop offset=".118" stop-color="#323232"/><stop offset=".138" stop-color="#5c5c5c"/><stop offset=".148" stop-color="#6d6d6d"/><stop offset=".173" stop-color="#8f8f8f"/><stop offset=".183" stop-color="#969696"/><stop offset=".234" stop-color="#ababab"/><stop offset=".264" stop-color="#c2c2c2"/><stop offset=".339" stop-color="#c4c4c4"/><stop offset=".344" stop-color="#bfbfbf"/><stop offset=".354" stop-color="#ababab"/><stop offset=".359" stop-color="#b0b0b0"/><stop offset=".364" stop-color="#bababa"/><stop offset=".369" stop-color="#bcbcbc"/><stop offset=".379" stop-color="#b3b3b3"/><stop offset=".389" stop-color="#bfbfbf"/><stop offset=".394" stop-color="#c0c0c0"/><stop offset=".399" stop-color="#bdbdbd"/><stop offset=".405" stop-color="#b5b5b5"/><stop offset=".41" stop-color="#b7b7b7"/><stop offset=".415" stop-color="#c1c1c1"/><stop offset=".42" stop-color="#c7c7c7"/><stop offset=".46" stop-color="#cdcdcd"/><stop offset=".5" stop-color="#c4c4c4"/><stop offset=".56" stop-color="#afafaf"/><stop offset=".671" stop-color="#909090"/><stop offset=".686" stop-color="#848484"/><stop offset=".731" stop-color="#595959"/><stop offset=".771" stop-color="#252525"/><stop offset=".786" stop-color="#030303"/><stop offset=".791" stop-color="#000"/><stop offset=".997" stop-color="#000"/></linearGradient>
<linearGradient id="a70" gradientUnits="userSpaceOnUse" x1="29" x2="228"><stop offset=".003" stop-color="#000"/><stop offset=".098" stop-color="#000"/><stop offset=".103" stop-color="#040404"/><stop offset=".108" stop-color="#111"/><stop offset=".113" stop-color="#242424"/><stop offset=".118" stop-color="#313131"/><stop offset=".138" stop-color="#595959"/><stop offset=".148" stop-color="#6a6a6a"/><stop offset=".173" stop-color="#8d8d8d"/><stop offset=".183" stop-color="#959595"/><stop offset=".234" stop-color="#ababab"/><stop offset=".264" stop-color="#c2c2c2"/><stop offset=".339" stop-color="#c4c4c4"/><stop offset=".344" stop-color="#c0c0c0"/><stop offset=".354" stop-color="#ababab"/><stop offset=".359" stop-color="#b0b0b0"/><stop offset=".364" stop-color="#b9b9b9"/><stop offset=".369" stop-color="#bcbcbc"/><stop offset=".379" stop-color="#b2b2b2"/><stop offset=".389" stop-color="#bfbfbf"/><stop offset=".394" stop-color="#c0c0c0"/><stop offset=".399" stop-color="#bcbcbc"/><stop offset=".405" stop-color="#b5b5b5"/><stop offset=".41" stop-color="#b7b7b7"/><stop offset=".415" stop-color="#c2c2c2"/><stop offset=".42" stop-color="#c8c8c8"/><stop offset=".46" stop-color="#cdcdcd"/><stop offset=".505" stop-color="#c3c3c3"/><stop offset=".56" stop-color="#afafaf"/><stop offset=".656" stop-color="#949494"/><stop offset=".671" stop-color="#8c8c8c"/><stop offset=".716" stop-color="#656565"/><stop offset=".731" stop-color="#555"/><stop offset=".766" stop-color="#292929"/><stop offset=".771" stop-color="#212121"/><stop offset=".781" stop-color="#090909"/><stop offset=".786" stop-color="#020202"/><stop offset=".997" stop-color="#000"/></linearGradient>
<linearGradient id="a71" gradientUnits="userSpaceOnUse" x1="29" x2="228"><stop offset=".003" stop-color="#000"/><stop offset=".098" stop-color="#000"/><stop offset=".103" stop-color="#030303"/><stop offset=".108" stop-color="#101010"/><stop offset=".113" stop-color="#222"/><stop offset=".118" stop-color="#2f2f2f"/><stop offset=".138" stop-color="#575757"/><stop offset=".148" stop-color="#686868"/><stop offset=".173" stop-color="#8b8b8b"/><stop offset=".183" stop-color="#949494"/><stop offset=".234" stop-color="#ababab"/><stop offset=".264" stop-color="#c2c2c2"/><stop offset=".339" stop-color="#c4c4c4"/><stop offset=".344" stop-color="#c0c0c0"/><stop offset=".354" stop-color="#aaa"/><stop offset=".359" stop-color="#afafaf"/><stop offset=".364" stop-color="#b9b9b9"/><stop offset=".369" stop-color="#bcbcbc"/><stop offset=".379" stop-color="#b1b1b1"/><stop offset=".389" stop-color="#bfbfbf"/><stop offset=".394" stop-color="#c1c1c1"/><stop offset=".399" stop-color="#bcbcbc"/><stop offset=".405" stop-color="#b4b4b4"/><stop offset=".41" stop-color="#b7b7b7"/><stop offset=".415" stop-color="#c2c2c2"/><stop offset=".42" stop-color="#c8c8c8"/><stop offset=".46" stop-color="#cdcdcd"/><stop offset=".505" stop-color="#c3c3c3"/><stop offset=".56" stop-color="#afafaf"/><stop offset=".651" stop-color="#939393"/><stop offset=".666" stop-color="#8c8c8c"/><stop offset=".726" stop-color="#575757"/><stop offset=".766" stop-color="#252525"/><stop offset=".781" stop-color="#050505"/><stop offset=".786" stop-color="#010101"/><stop offset=".997" stop-color="#000"/></linearGradient>
<linearGradient id="a72" gradientUnits="userSpaceOnUse" x1="29" x2="228"><stop offset=".003" stop-color="#000"/><stop offset=".098" stop-color="#000"/><stop offset=".103" stop-color="#030303"/><stop offset=".108" stop-color="#0f0f0f"/><stop offset=".113" stop-color="#212121"/><stop offset=".118" stop-color="#2e2e2e"/><stop offset=".138" stop-color="#545454"/><stop offset=".148" stop-color="#656565"/><stop offset=".173" stop-color="#898989"/><stop offset=".183" stop-color="#929292"/><stop offset=".234" stop-color="#ababab"/><stop offset=".264" stop-color="#c2c2c2"/><stop offset=".339" stop-color="#c4c4c4"/><stop offset=".344" stop-color="#c0c0c0"/><stop offset=".354" stop-color="#aaa"/><stop offset=".359" stop-color="#afafaf"/><stop offset=".364" stop-color="#b9b9b9"/><stop offset=".369" stop-color="#bcbcbc"/><stop offset=".374" stop-color="#b8b8b8"/><stop offset=".379" stop-color="#b1b1b1"/><stop offset=".389" stop-color="#bfbfbf"/><stop offset=".394" stop-color="#c1c1c1"/><stop offset=".399" stop-color="#bcbcbc"/><stop offset=".405" stop-color="#b4b4b4"/><stop offset=".41" stop-color="#b7b7b7"/><stop offset=".415" stop-color="#c2c2c2"/><stop offset=".42" stop-color="#c8c8c8"/><stop offset=".46" stop-color="#cecece"/><stop offset=".505" stop-color="#c4c4c4"/><stop offset=".646" stop-color="#939393"/><stop offset=".661" stop-color="#8b8b8b"/><stop offset=".711" stop-color="#626262"/><stop offset=".726" stop-color="#525252"/><stop offset=".761" stop-color="#282828"/><stop offset=".766" stop-color="#202020"/><stop offset=".776" stop-color="#090909"/><stop offset=".781" stop-color="#020202"/><stop offset=".791" stop-color="#000"/><stop offset=".997" stop-color="#000"/></linearGradient>
<linearGradient id="a73" gradientUnits="userSpaceOnUse" x1="29" x2="228"><stop offset=".003" stop-color="#000"/><stop offset=".098" stop-color="#000"/><stop offset=".103" stop-color="#030303"/><stop offset=".108" stop-color="#0e0e0e"/><stop offset=".113" stop-color="#202020"/><stop offset=".118" stop-color="#2c2c2c"/><stop offset=".138" stop-color="#525252"/><stop offset=".148" stop-color="#636363"/><stop offset=".178" stop-color="#8d8d8d"/><stop offset=".229" stop-color="#a7a7a7"/><stop offset=".264" stop-color="#c2c2c2"/><stop offset=".339" stop-color="#c4c4c4"/><stop offset=".344" stop-color="#c1c1c1"/><stop offset=".354" stop-color="#aaa"/><stop offset=".359" stop-color="#aeaeae"/><stop offset=".364" stop-color="#b8b8b8"/><stop offset=".369" stop-color="#bcbcbc"/><stop offset=".374" stop-color="#b8b8b8"/><stop offset=".379" stop-color="#b0b0b0"/><stop offset=".389" stop-color="#c0c0c0"/><stop offset=".394" stop-color="#c1c1c1"/><stop offset=".405" stop-color="#b4b4b4"/><stop offset=".41" stop-color="#b7b7b7"/><stop offset=".415" stop-color="#c3c3c3"/><stop offset=".42" stop-color="#c8c8c8"/><stop offset=".46" stop-color="#cecece"/><stop offset=".51" stop-color="#c3c3c3"/><stop offset=".641" stop-color="#929292"/><stop offset=".656" stop-color="#8b8b8b"/><stop offset=".706" stop-color="#636363"/><stop offset=".721" stop-color="#545454"/><stop offset=".761" stop-color="#242424"/><stop offset=".776" stop-color="#040404"/><stop offset=".781" stop-color="#010101"/><stop offset=".997" stop-color="#000"/></linearGradient>
<linearGradient id="a74" gradientUnits="userSpaceOnUse" x1="29" x2="228"><stop offset=".003" stop-color="#000"/><stop offset=".098" stop-color="#000"/><stop offset=".103" stop-color="#020202"/><stop offset=".108" stop-color="#0d0d0d"/><stop offset=".113" stop-color="#1f1f1f"/><stop offset=".123" stop-color="#343434"/><stop offset=".148" stop-color="#606060"/><stop offset=".178" stop-color="#8b8b8b"/><stop offset=".188" stop-color="#939393"/><stop offset=".229" stop-color="#a7a7a7"/><stop offset=".264" stop-color="#c2c2c2"/><stop offset=".339" stop-color="#c4c4c4"/><stop offset=".344" stop-color="#c1c1c1"/><stop offset=".354" stop-color="#aaa"/><stop offset=".359" stop-color="#adadad"/><stop offset=".364" stop-color="#b8b8b8"/><stop offset=".369" stop-color="#bcbcbc"/><stop offset=".374" stop-color="#b8b8b8"/><stop offset=".379" stop-color="#b0b0b0"/><stop offset=".389" stop-color="#c0c0c0"/><stop offset=".394" stop-color="#c1c1c1"/><stop offset=".405" stop-color="#b3b3b3"/><stop offset=".41" stop-color="#b7b7b7"/><stop offset=".415" stop-color="#c3c3c3"/><stop offset=".42" stop-color="#c9c9c9"/><stop offset=".46" stop-color="#cecece"/><stop offset=".51" stop-color="#c3c3c3"/><stop offset=".636" stop-color="#939393"/><stop offset=".651" stop-color="#8b8b8b"/><stop offset=".701" stop-color="#636363"/><stop offset=".716" stop-color="#555"/><stop offset=".756" stop-color="#262626"/><stop offset=".761" stop-color="#1e1e1e"/><stop offset=".771" stop-color="#070707"/><stop offset=".776" stop-color="#020202"/><stop offset=".997" stop-color="#000"/></linearGradient>
<linearGradient id="a75" gradientUnits="userSpaceOnUse" x1="29" x2="228"><stop offset=".003" stop-color="#000"/><stop offset=".098" stop-color="#000"/><stop offset=".103" stop-color="#020202"/><stop offset=".108" stop-color="#0c0c0c"/><stop offset=".113" stop-color="#1d1d1d"/><stop offset=".123" stop-color="#333"/><stop offset=".148" stop-color="#5e5e5e"/><stop offset=".178" stop-color="#8a8a8a"/><stop offset=".188" stop-color="#929292"/><stop offset=".229" stop-color="#a7a7a7"/><stop offset=".259" stop-color="#c0c0c0"/><stop offset=".269" stop-color="#c3c3c3"/><stop offset=".339" stop-color="#c5c5c5"/><stop offset=".344" stop-color="#c1c1c1"/><stop offset=".354" stop-color="#aaa"/><stop offset=".359" stop-color="#adadad"/><stop offset=".364" stop-color="#b8b8b8"/><stop offset=".369" stop-color="#bcbcbc"/><stop offset=".374" stop-color="#b8b8b8"/><stop offset=".379" stop-color="#b0b0b0"/><stop offset=".389" stop-color="#c0c0c0"/><stop offset=".394" stop-color="#c1c1c1"/><stop offset=".405" stop-color="#b3b3b3"/><stop offset=".41" stop-color="#b7b7b7"/><stop offset=".415" stop-color="#c3c3c3"/><stop offset=".42" stop-color="#c9c9c9"/><stop offset=".46" stop-color="#cecece"/><stop offset=".51" stop-color="#c3c3c3"/><stop offset=".646" stop-color="#8b8b8b"/><stop offset=".711" stop-color="#565656"/><stop offset=".751" stop-color="#282828"/><stop offset=".756" stop-color="#212121"/><stop offset=".766" stop-color="#0b0b0b"/><stop offset=".771" stop-color="#030303"/><stop offset=".776" stop-color="#000"/><stop offset=".997" stop-color="#000"/></linearGradient>
<linearGradient id="a76" gradientUnits="userSpaceOnUse" x1="29" x2="228"><stop offset=".003" stop-color="#000"/><stop offset=".103" stop-color="#020202"/><stop offset=".108" stop-color="#0a0a0a"/><stop offset=".113" stop-color="#1c1c1c"/><stop offset=".118" stop-color="#282828"/><stop offset=".148" stop-color="#5c5c5c"/><stop offset=".178" stop-color="#898989"/><stop offset=".188" stop-color="#919191"/><stop offset=".229" stop-color="#a8a8a8"/><stop offset=".259" stop-color="#c1c1c1"/><stop offset=".269" stop-color="#c3c3c3"/><stop offset=".339" stop-color="#c5c5c5"/><stop offset=".344" stop-color="#c2c2c2"/><stop offset=".354" stop-color="#aaa"/><stop offset=".359" stop-color="#acacac"/><stop offset=".364" stop-color="#b7b7b7"/><stop offset=".369" stop-color="#bcbcbc"/><stop offset=".374" stop-color="#b8b8b8"/><stop offset=".379" stop-color="#b0b0b0"/><stop offset=".389" stop-color="#c0c0c0"/><stop offset=".394" stop-color="#c1c1c1"/><stop offset=".405" stop-color="#b2b2b2"/><stop offset=".41" stop-color="#b8b8b8"/><stop offset=".415" stop-color="#c4c4c4"/><stop offset=".42" stop-color="#c9c9c9"/><stop offset=".46" stop-color="#cecece"/><stop offset=".51" stop-color="#c4c4c4"/><stop offset=".641" stop-color="#8c8c8c"/><stop offset=".706" stop-color="#575757"/><stop offset=".746" stop-color="#2a2a2a"/><stop offset=".751" stop-color="#232323"/><stop offset=".766" stop-color="#050505"/><stop offset=".771" stop-color="#010101"/><stop offset=".997" stop-color="#000"/></linearGradient>
<linearGradient id="a77" gradientUnits="userSpaceOnUse" x1="29" x2="228"><stop offset=".003" stop-color="#000"/><stop offset=".103" stop-color="#010101"/><stop offset=".108" stop-color="#090909"/><stop offset=".113" stop-color="#1b1b1b"/><stop offset=".118" stop-color="#272727"/><stop offset=".148" stop-color="#5a5a5a"/><stop offset=".178" stop-color="#878787"/><stop offset=".188" stop-color="#919191"/><stop offset=".229" stop-color="#a8a8a8"/><stop offset=".259" stop-color="#c1c1c1"/><stop offset=".269" stop-color="#c3c3c3"/><stop offset=".339" stop-color="#c5c5c5"/><stop offset=".344" stop-color="#c2c2c2"/><stop offset=".354" stop-color="#ababab"/><stop offset=".359" stop-color="#ababab"/><stop offset=".364" stop-color="#b6b6b6"/><stop offset=".369" stop-color="#bcbcbc"/><stop offset=".374" stop-color="#b9b9b9"/><stop offset=".379" stop-color="#b0b0b0"/><stop offset=".389" stop-color="#c0c0c0"/><stop offset=".394" stop-color="#c0c0c0"/><stop offset=".405" stop-color="#b1b1b1"/><stop offset=".41" stop-color="#b9b9b9"/><stop offset=".415" stop-color="#c5c5c5"/><stop offset=".42" stop-color="#cacaca"/><stop offset=".46" stop-color="#cfcfcf"/><stop offset=".51" stop-color="#c4c4c4"/><stop offset=".636" stop-color="#8c8c8c"/><stop offset=".691" stop-color="#616161"/><stop offset=".706" stop-color="#535353"/><stop offset=".741" stop-color="#2b2b2b"/><stop offset=".751" stop-color="#1c1c1c"/><stop offset=".761" stop-color="#070707"/><stop offset=".766" stop-color="#020202"/><stop offset=".776" stop-color="#000"/><stop offset=".997" stop-color="#000"/></linearGradient>
<linearGradient id="a78" gradientUnits="userSpaceOnUse" x1="29" x2="228"><stop offset=".003" stop-color="#000"/><stop offset=".103" stop-color="#010101"/><stop offset=".108" stop-color="#080808"/><stop offset=".113" stop-color="#191919"/><stop offset=".118" stop-color="#262626"/><stop offset=".148" stop-color="#595959"/><stop offset=".178" stop-color="#868686"/><stop offset=".188" stop-color="#909090"/><stop offset=".229" stop-color="#a8a8a8"/><stop offset=".259" stop-color="#c1c1c1"/><stop offset=".339" stop-color="#c5c5c5"/><stop offset=".344" stop-color="#c2c2c2"/><stop offset=".349" stop-color="#b9b9b9"/><stop offset=".354" stop-color="#ababab"/><stop offset=".359" stop-color="#ababab"/><stop offset=".364" stop-color="#b6b6b6"/><stop offset=".369" stop-color="#bcbcbc"/><stop offset=".374" stop-color="#b9b9b9"/><stop offset=".379" stop-color="#b0b0b0"/><stop offset=".389" stop-color="#c0c0c0"/><stop offset=".394" stop-color="#bfbfbf"/><stop offset=".399" stop-color="#b6b6b6"/><stop offset=".405" stop-color="#b1b1b1"/><stop offset=".415" stop-color="#c6c6c6"/><stop offset=".42" stop-color="#cacaca"/><stop offset=".46" stop-color="#cfcfcf"/><stop offset=".51" stop-color="#c4c4c4"/><stop offset=".631" stop-color="#8d8d8d"/><stop offset=".696" stop-color="#595959"/><stop offset=".736" stop-color="#2c2c2c"/><stop offset=".746" stop-color="#1c1c1c"/><stop offset=".756" stop-color="#090909"/><stop offset=".761" stop-color="#030303"/><stop offset=".766" stop-color="#000"/><stop offset=".997" stop-color="#000"/></linearGradient>
<linearGradient id="a79" gradientUnits="userSpaceOnUse" x1="29" x2="228"><stop offset=".003" stop-color="#000"/><stop offset=".103" stop-color="#000"/><stop offset=".108" stop-color="#060606"/><stop offset=".113" stop-color="#181818"/><stop offset=".118" stop-color="#242424"/><stop offset=".123" stop-color="#2d2d2d"/><stop offset=".148" stop-color="#575757"/><stop offset=".183" stop-color="#8b8b8b"/><stop offset=".229" stop-color="#a9a9a9"/><stop offset=".259" stop-color="#c1c1c1"/><stop offset=".339" stop-color="#c5c5c5"/><stop offset=".344" stop-color="#c3c3c3"/><stop offset=".349" stop-color="#b9b9b9"/><stop offset=".354" stop-color="#ababab"/><stop offset=".359" stop-color="#aaa"/><stop offset=".364" stop-color="#b5b5b5"/><stop offset=".369" stop-color="#bcbcbc"/><stop offset=".374" stop-color="#b9b9b9"/><stop offset=".379" stop-color="#b1b1b1"/><stop offset=".389" stop-color="#c0c0c0"/><stop offset=".394" stop-color="#bebebe"/><stop offset=".399" stop-color="#b4b4b4"/><stop offset=".405" stop-color="#b1b1b1"/><stop offset=".415" stop-color="#c7c7c7"/><stop offset=".42" stop-color="#cacaca"/><stop offset=".46" stop-color="#cfcfcf"/><stop offset=".51" stop-color="#c4c4c4"/><stop offset=".626" stop-color="#8e8e8e"/><stop offset=".681" stop-color="#626262"/><stop offset=".696" stop-color="#545454"/><stop offset=".731" stop-color="#2c2c2c"/><stop offset=".741" stop-color="#1d1d1d"/><stop offset=".751" stop-color="#090909"/><stop offset=".756" stop-color="#030303"/><stop offset=".761" stop-color="#010101"/><stop offset=".997" stop-color="#000"/></linearGradient>
<linearGradient id="a80" gradientUnits="userSpaceOnUse" x1="29" x2="228"><stop offset=".003" stop-color="#000"/><stop offset=".103" stop-color="#000"/><stop offset=".108" stop-color="#050505"/><stop offset=".118" stop-color="#232323"/><stop offset=".123" stop-color="#2c2c2c"/><stop offset=".148" stop-color="#555"/><stop offset=".183" stop-color="#8a8a8a"/><stop offset=".229" stop-color="#a9a9a9"/><stop offset=".259" stop-color="#c2c2c2"/><stop offset=".339" stop-color="#c5c5c5"/><stop offset=".344" stop-color="#c3c3c3"/><stop offset=".349" stop-color="#bababa"/><stop offset=".354" stop-color="#acacac"/><stop offset=".359" stop-color="#a9a9a9"/><stop offset=".364" stop-color="#b4b4b4"/><stop offset=".369" stop-color="#bcbcbc"/><stop offset=".374" stop-color="#b9b9b9"/><stop offset=".379" stop-color="#b1b1b1"/><stop offset=".389" stop-color="#c0c0c0"/><stop offset=".394" stop-color="#bcbcbc"/><stop offset=".399" stop-color="#b1b1b1"/><stop offset=".405" stop-color="#b2b2b2"/><stop offset=".41" stop-color="#c0c0c0"/><stop offset=".415" stop-color="#c8c8c8"/><stop offset=".46" stop-color="#cfcfcf"/><stop offset=".51" stop-color="#c5c5c5"/><stop offset=".626" stop-color="#8b8b8b"/><stop offset=".676" stop-color="#626262"/><stop offset=".691" stop-color="#545454"/><stop offset=".726" stop-color="#2c2c2c"/><stop offset=".736" stop-color="#1c1c1c"/><stop offset=".746" stop-color="#0a0a0a"/><stop offset=".751" stop-color="#030303"/><stop offset=".756" stop-color="#010101"/><stop offset=".997" stop-color="#000"/></linearGradient>
<linearGradient id="a81" gradientUnits="userSpaceOnUse" x1="29" x2="228"><stop offset=".003" stop-color="#000"/><stop offset=".103" stop-color="#000"/><stop offset=".108" stop-color="#050505"/><stop offset=".118" stop-color="#212121"/><stop offset=".123" stop-color="#2a2a2a"/><stop offset=".183" stop-color="#898989"/><stop offset=".229" stop-color="#a9a9a9"/><stop offset=".259" stop-color="#c2c2c2"/><stop offset=".339" stop-color="#c5c5c5"/><stop offset=".344" stop-color="#c4c4c4"/><stop offset=".349" stop-color="#bbb"/><stop offset=".354" stop-color="#adadad"/><stop offset=".359" stop-color="#a8a8a8"/><stop offset=".369" stop-color="#bbb"/><stop offset=".374" stop-color="#b9b9b9"/><stop offset=".379" stop-color="#b1b1b1"/><stop offset=".389" stop-color="#bfbfbf"/><stop offset=".394" stop-color="#b9b9b9"/><stop offset=".399" stop-color="#afafaf"/><stop offset=".405" stop-color="#b4b4b4"/><stop offset=".41" stop-color="#c2c2c2"/><stop offset=".415" stop-color="#c9c9c9"/><stop offset=".46" stop-color="#cfcfcf"/><stop offset=".51" stop-color="#c5c5c5"/><stop offset=".621" stop-color="#8c8c8c"/><stop offset=".671" stop-color="#626262"/><stop offset=".686" stop-color="#545454"/><stop offset=".721" stop-color="#2b2b2b"/><stop offset=".731" stop-color="#1c1c1c"/><stop offset=".741" stop-color="#090909"/><stop offset=".746" stop-color="#030303"/><stop offset=".751" stop-color="#010101"/><stop offset=".997" stop-color="#000"/></linearGradient>
<linearGradient id="a82" gradientUnits="userSpaceOnUse" x1="29" x2="228"><stop offset=".003" stop-color="#000"/><stop offset=".103" stop-color="#000"/><stop offset=".108" stop-color="#040404"/><stop offset=".118" stop-color="#1f1f1f"/><stop offset=".123" stop-color="#292929"/><stop offset=".183" stop-color="#888"/><stop offset=".259" stop-color="#c2c2c2"/><stop offset=".339" stop-color="#c6c6c6"/><stop offset=".344" stop-color="#c4c4c4"/><stop offset=".349" stop-color="#bcbcbc"/><stop offset=".354" stop-color="#adadad"/><stop offset=".359" stop-color="#a8a8a8"/><stop offset=".369" stop-color="#bbb"/><stop offset=".374" stop-color="#b9b9b9"/><stop offset=".379" stop-color="#b1b1b1"/><stop offset=".389" stop-color="#bebebe"/><stop offset=".399" stop-color="#aeaeae"/><stop offset=".405" stop-color="#b7b7b7"/><stop offset=".41" stop-color="#c4c4c4"/><stop offset=".415" stop-color="#cacaca"/><stop offset=".46" stop-color="#d0d0d0"/><stop offset=".51" stop-color="#c5c5c5"/><stop offset=".616" stop-color="#8d8d8d"/><stop offset=".666" stop-color="#626262"/><stop offset=".681" stop-color="#535353"/><stop offset=".716" stop-color="#2b2b2b"/><stop offset=".736" stop-color="#090909"/><stop offset=".746" stop-color="#010101"/><stop offset=".997" stop-color="#000"/></linearGradient>
<linearGradient id="a83" gradientUnits="userSpaceOnUse" x1="29" x2="228"><stop offset=".003" stop-color="#000"/><stop offset=".103" stop-color="#000"/><stop offset=".108" stop-color="#030303"/><stop offset=".113" stop-color="#0e0e0e"/><stop offset=".118" stop-color="#1d1d1d"/><stop offset=".123" stop-color="#272727"/><stop offset=".183" stop-color="#868686"/><stop offset=".259" stop-color="#c2c2c2"/><stop offset=".339" stop-color="#c6c6c6"/><stop offset=".344" stop-color="#c4c4c4"/><stop offset=".349" stop-color="#bdbdbd"/><stop offset=".354" stop-color="#aeaeae"/><stop offset=".359" stop-color="#a7a7a7"/><stop offset=".369" stop-color="#bbb"/><stop offset=".374" stop-color="#bababa"/><stop offset=".379" stop-color="#b1b1b1"/><stop offset=".389" stop-color="#bcbcbc"/><stop offset=".394" stop-color="#b3b3b3"/><stop offset=".399" stop-color="#aeaeae"/><stop offset=".41" stop-color="#c6c6c6"/><stop offset=".415" stop-color="#cbcbcb"/><stop offset=".455" stop-color="#d0d0d0"/><stop offset=".51" stop-color="#c6c6c6"/><stop offset=".611" stop-color="#8e8e8e"/><stop offset=".676" stop-color="#535353"/><stop offset=".711" stop-color="#2a2a2a"/><stop offset=".731" stop-color="#080808"/><stop offset=".741" stop-color="#010101"/><stop offset=".997" stop-color="#000"/></linearGradient>
<linearGradient id="a84" gradientUnits="userSpaceOnUse" x1="29" x2="228"><stop offset=".003" stop-color="#000"/><stop offset=".103" stop-color="#000"/><stop offset=".108" stop-color="#020202"/><stop offset=".113" stop-color="#0b0b0b"/><stop offset=".118" stop-color="#1a1a1a"/><stop offset=".123" stop-color="#252525"/><stop offset=".183" stop-color="#858585"/><stop offset=".249" stop-color="#bbb"/><stop offset=".259" stop-color="#c2c2c2"/><stop offset=".329" stop-color="#c6c6c6"/><stop offset=".344" stop-color="#c5c5c5"/><stop offset=".349" stop-color="#bebebe"/><stop offset=".354" stop-color="#afafaf"/><stop offset=".359" stop-color="#a7a7a7"/><stop offset=".369" stop-color="#bababa"/><stop offset=".374" stop-color="#bababa"/><stop offset=".379" stop-color="#b1b1b1"/><stop offset=".389" stop-color="#bababa"/><stop offset=".394" stop-color="#b0b0b0"/><stop offset=".399" stop-color="#afafaf"/><stop offset=".405" stop-color="#bdbdbd"/><stop offset=".41" stop-color="#c8c8c8"/><stop offset=".415" stop-color="#cbcbcb"/><stop offset=".455" stop-color="#d0d0d0"/><stop offset=".51" stop-color="#c7c7c7"/><stop offset=".606" stop-color="#8f8f8f"/><stop offset=".651" stop-color="#676767"/><stop offset=".671" stop-color="#535353"/><stop offset=".706" stop-color="#2a2a2a"/><stop offset=".726" stop-color="#080808"/><stop offset=".736" stop-color="#010101"/><stop offset=".997" stop-color="#000"/></linearGradient>
<linearGradient id="a85" gradientUnits="userSpaceOnUse" x1="29" x2="228"><stop offset=".003" stop-color="#000"/><stop offset=".108" stop-color="#010101"/><stop offset=".113" stop-color="#080808"/><stop offset=".118" stop-color="#171717"/><stop offset=".123" stop-color="#232323"/><stop offset=".183" stop-color="#838383"/><stop offset=".249" stop-color="#bbb"/><stop offset=".259" stop-color="#c2c2c2"/><stop offset=".344" stop-color="#c5c5c5"/><stop offset=".349" stop-color="#bfbfbf"/><stop offset=".354" stop-color="#b0b0b0"/><stop offset=".359" stop-color="#a6a6a6"/><stop offset=".369" stop-color="#bababa"/><stop offset=".374" stop-color="#bababa"/><stop offset=".379" stop-color="#b1b1b1"/><stop offset=".384" stop-color="#b6b6b6"/><stop offset=".389" stop-color="#b6b6b6"/><stop offset=".394" stop-color="#adadad"/><stop offset=".399" stop-color="#b2b2b2"/><stop offset=".405" stop-color="#c1c1c1"/><stop offset=".41" stop-color="#c9c9c9"/><stop offset=".455" stop-color="#d0d0d0"/><stop offset=".51" stop-color="#c8c8c8"/><stop offset=".601" stop-color="#909090"/><stop offset=".646" stop-color="#676767"/><stop offset=".666" stop-color="#535353"/><stop offset=".701" stop-color="#292929"/><stop offset=".721" stop-color="#070707"/><stop offset=".726" stop-color="#030303"/><stop offset=".741" stop-color="#000"/><stop offset=".997" stop-color="#000"/></linearGradient>
<linearGradient id="a86" gradientUnits="userSpaceOnUse" x1="29" x2="228"><stop offset=".003" stop-color="#000"/><stop offset=".108" stop-color="#010101"/><stop offset=".113" stop-color="#060606"/><stop offset=".123" stop-color="#202020"/><stop offset=".128" stop-color="#292929"/><stop offset=".183" stop-color="#818181"/><stop offset=".193" stop-color="#8c8c8c"/><stop offset=".229" stop-color="#aaa"/><stop offset=".259" stop-color="#c1c1c1"/><stop offset=".344" stop-color="#c5c5c5"/><stop offset=".349" stop-color="#bfbfbf"/><stop offset=".354" stop-color="#b1b1b1"/><stop offset=".359" stop-color="#a6a6a6"/><stop offset=".364" stop-color="#aeaeae"/><stop offset=".369" stop-color="#b9b9b9"/><stop offset=".374" stop-color="#bababa"/><stop offset=".379" stop-color="#b1b1b1"/><stop offset=".384" stop-color="#b4b4b4"/><stop offset=".389" stop-color="#b2b2b2"/><stop offset=".394" stop-color="#acacac"/><stop offset=".399" stop-color="#b6b6b6"/><stop offset=".405" stop-color="#c4c4c4"/><stop offset=".41" stop-color="#cbcbcb"/><stop offset=".455" stop-color="#d1d1d1"/><stop offset=".51" stop-color="#c9c9c9"/><stop offset=".601" stop-color="#8d8d8d"/><stop offset=".661" stop-color="#535353"/><stop offset=".696" stop-color="#292929"/><stop offset=".711" stop-color="#0e0e0e"/><stop offset=".716" stop-color="#070707"/><stop offset=".721" stop-color="#020202"/><stop offset=".736" stop-color="#000"/><stop offset=".997" stop-color="#000"/></linearGradient>
<linearGradient id="a87" gradientUnits="userSpaceOnUse" x1="29" x2="228"><stop offset=".003" stop-color="#000"/><stop offset=".103" stop-color="#000"/><stop offset=".113" stop-color="#040404"/><stop offset=".128" stop-color="#252525"/><stop offset=".188" stop-color="#858585"/><stop offset=".234" stop-color="#aeaeae"/><stop offset=".259" stop-color="#c1c1c1"/><stop offset=".344" stop-color="#c5c5c5"/><stop offset=".349" stop-color="#c0c0c0"/><stop offset=".359" stop-color="#a6a6a6"/><stop offset=".364" stop-color="#acacac"/><stop offset=".369" stop-color="#b9b9b9"/><stop offset=".374" stop-color="#bababa"/><stop offset=".379" stop-color="#b0b0b0"/><stop offset=".384" stop-color="#b2b2b2"/><stop offset=".394" stop-color="#adadad"/><stop offset=".405" stop-color="#c7c7c7"/><stop offset=".41" stop-color="#cbcbcb"/><stop offset=".455" stop-color="#d1d1d1"/><stop offset=".51" stop-color="#cacaca"/><stop offset=".595" stop-color="#8e8e8e"/><stop offset=".656" stop-color="#535353"/><stop offset=".686" stop-color="#2f2f2f"/><stop offset=".696" stop-color="#202020"/><stop offset=".706" stop-color="#0e0e0e"/><stop offset=".711" stop-color="#060606"/><stop offset=".716" stop-color="#020202"/><stop offset=".731" stop-color="#000"/><stop offset=".997" stop-color="#000"/></linearGradient>
<linearGradient id="a88" gradientUnits="userSpaceOnUse" x1="29" x2="228"><stop offset=".003" stop-color="#000"/><stop offset=".103" stop-color="#000"/><stop offset=".113" stop-color="#020202"/><stop offset=".118" stop-color="#090909"/><stop offset=".128" stop-color="#202020"/><stop offset=".133" stop-color="#292929"/><stop offset=".188" stop-color="#818181"/><stop offset=".229" stop-color="#a8a8a8"/><stop offset=".259" stop-color="#c1c1c1"/><stop offset=".344" stop-color="#c6c6c6"/><stop offset=".349" stop-color="#c1c1c1"/><stop offset=".359" stop-color="#a5a5a5"/><stop offset=".364" stop-color="#ababab"/><stop offset=".369" stop-color="#b8b8b8"/><stop offset=".374" stop-color="#bababa"/><stop offset=".379" stop-color="#b0b0b0"/><stop offset=".389" stop-color="#ababab"/><stop offset=".394" stop-color="#afafaf"/><stop offset=".399" stop-color="#bfbfbf"/><stop offset=".405" stop-color="#c9c9c9"/><stop offset=".41" stop-color="#ccc"/><stop offset=".45" stop-color="#d1d1d1"/><stop offset=".505" stop-color="#ccc"/><stop offset=".59" stop-color="#8f8f8f"/><stop offset=".636" stop-color="#626262"/><stop offset=".656" stop-color="#4c4c4c"/><stop offset=".681" stop-color="#2e2e2e"/><stop offset=".691" stop-color="#1f1f1f"/><stop offset=".701" stop-color="#0d0d0d"/><stop offset=".711" stop-color="#020202"/><stop offset=".726" stop-color="#000"/><stop offset=".997" stop-color="#000"/></linearGradient>
<linearGradient id="a89" gradientUnits="userSpaceOnUse" x1="29" x2="228"><stop offset=".003" stop-color="#000"/><stop offset=".113" stop-color="#010101"/><stop offset=".118" stop-color="#050505"/><stop offset=".138" stop-color="#2b2b2b"/><stop offset=".193" stop-color="#838383"/><stop offset=".229" stop-color="#a7a7a7"/><stop offset=".259" stop-color="#c0c0c0"/><stop offset=".344" stop-color="#c6c6c6"/><stop offset=".349" stop-color="#c1c1c1"/><stop offset=".359" stop-color="#a6a6a6"/><stop offset=".364" stop-color="#aaa"/><stop offset=".369" stop-color="#b8b8b8"/><stop offset=".374" stop-color="#bababa"/><stop offset=".379" stop-color="#afafaf"/><stop offset=".389" stop-color="#aaa"/><stop offset=".394" stop-color="#b4b4b4"/><stop offset=".399" stop-color="#c4c4c4"/><stop offset=".405" stop-color="#cbcbcb"/><stop offset=".45" stop-color="#d2d2d2"/><stop offset=".49" stop-color="#d0d0d0"/><stop offset=".505" stop-color="#ccc"/><stop offset=".585" stop-color="#909090"/><stop offset=".651" stop-color="#4c4c4c"/><stop offset=".676" stop-color="#2d2d2d"/><stop offset=".696" stop-color="#0c0c0c"/><stop offset=".706" stop-color="#020202"/><stop offset=".721" stop-color="#000"/><stop offset=".997" stop-color="#000"/></linearGradient>
<linearGradient id="a90" gradientUnits="userSpaceOnUse" x1="29" x2="228"><stop offset=".003" stop-color="#000"/><stop offset=".118" stop-color="#020202"/><stop offset=".123" stop-color="#070707"/><stop offset=".143" stop-color="#2b2b2b"/><stop offset=".193" stop-color="#7d7d7d"/><stop offset=".229" stop-color="#a4a4a4"/><stop offset=".259" stop-color="#bfbfbf"/><stop offset=".344" stop-color="#c6c6c6"/><stop offset=".349" stop-color="#c2c2c2"/><stop offset=".359" stop-color="#a6a6a6"/><stop offset=".364" stop-color="#aaa"/><stop offset=".369" stop-color="#b8b8b8"/><stop offset=".374" stop-color="#bababa"/><stop offset=".379" stop-color="#adadad"/><stop offset=".384" stop-color="#a9a9a9"/><stop offset=".389" stop-color="#ababab"/><stop offset=".399" stop-color="#c7c7c7"/><stop offset=".405" stop-color="#ccc"/><stop offset=".45" stop-color="#d2d2d2"/><stop offset=".485" stop-color="#d1d1d1"/><stop offset=".5" stop-color="#cdcdcd"/><stop offset=".58" stop-color="#909090"/><stop offset=".626" stop-color="#616161"/><stop offset=".651" stop-color="#454545"/><stop offset=".676" stop-color="#252525"/><stop offset=".691" stop-color="#0b0b0b"/><stop offset=".701" stop-color="#010101"/><stop offset=".997" stop-color="#000"/></linearGradient>
<linearGradient id="a91" gradientUnits="userSpaceOnUse" x1="29" x2="228"><stop offset=".003" stop-color="#000"/><stop offset=".113" stop-color="#000"/><stop offset=".123" stop-color="#020202"/><stop offset=".128" stop-color="#070707"/><stop offset=".148" stop-color="#2b2b2b"/><stop offset=".198" stop-color="#7e7e7e"/><stop offset=".234" stop-color="#a6a6a6"/><stop offset=".254" stop-color="#bababa"/><stop offset=".264" stop-color="#c0c0c0"/><stop offset=".344" stop-color="#c7c7c7"/><stop offset=".349" stop-color="#c3c3c3"/><stop offset=".359" stop-color="#a7a7a7"/><stop offset=".364" stop-color="#a9a9a9"/><stop offset=".369" stop-color="#b8b8b8"/><stop offset=".374" stop-color="#b9b9b9"/><stop offset=".379" stop-color="#aaa"/><stop offset=".384" stop-color="#a6a6a6"/><stop offset=".389" stop-color="#aeaeae"/><stop offset=".394" stop-color="#bebebe"/><stop offset=".399" stop-color="#cacaca"/><stop offset=".405" stop-color="#cdcdcd"/><stop offset=".44" stop-color="#d2d2d2"/><stop offset=".475" stop-color="#d3d3d3"/><stop offset=".49" stop-color="#d1d1d1"/><stop offset=".5" stop-color="#ccc"/><stop offset=".58" stop-color="#8c8c8c"/><stop offset=".626" stop-color="#5b5b5b"/><stop offset=".661" stop-color="#323232"/><stop offset=".671" stop-color="#242424"/><stop offset=".686" stop-color="#090909"/><stop offset=".696" stop-color="#010101"/><stop offset=".997" stop-color="#000"/></linearGradient>
<linearGradient id="a92" gradientUnits="userSpaceOnUse" x1="29" x2="228"><stop offset=".003" stop-color="#000"/><stop offset=".118" stop-color="#000"/><stop offset=".128" stop-color="#030303"/><stop offset=".138" stop-color="#0f0f0f"/><stop offset=".204" stop-color="#7e7e7e"/><stop offset=".234" stop-color="#a3a3a3"/><stop offset=".254" stop-color="#b7b7b7"/><stop offset=".264" stop-color="#bfbfbf"/><stop offset=".344" stop-color="#c7c7c7"/><stop offset=".349" stop-color="#c4c4c4"/><stop offset=".354" stop-color="#b8b8b8"/><stop offset=".359" stop-color="#a8a8a8"/><stop offset=".364" stop-color="#a9a9a9"/><stop offset=".369" stop-color="#b8b8b8"/><stop offset=".374" stop-color="#b8b8b8"/><stop offset=".379" stop-color="#a7a7a7"/><stop offset=".384" stop-color="#a5a5a5"/><stop offset=".389" stop-color="#b2b2b2"/><stop offset=".394" stop-color="#c3c3c3"/><stop offset=".399" stop-color="#ccc"/><stop offset=".435" stop-color="#d2d2d2"/><stop offset=".47" stop-color="#d4d4d4"/><stop offset=".485" stop-color="#d2d2d2"/><stop offset=".5" stop-color="#cacaca"/><stop offset=".575" stop-color="#8c8c8c"/><stop offset=".656" stop-color="#313131"/><stop offset=".666" stop-color="#232323"/><stop offset=".681" stop-color="#080808"/><stop offset=".691" stop-color="#010101"/><stop offset=".997" stop-color="#000"/></linearGradient>
<linearGradient id="a93" gradientUnits="userSpaceOnUse" x1="29" x2="228"><stop offset=".003" stop-color="#000"/><stop offset=".123" stop-color="#000"/><stop offset=".133" stop-color="#030303"/><stop offset=".143" stop-color="#0f0f0f"/><stop offset=".178" stop-color="#494949"/><stop offset=".209" stop-color="#7f7f7f"/><stop offset=".234" stop-color="#9f9f9f"/><stop offset=".264" stop-color="#bebebe"/><stop offset=".344" stop-color="#c8c8c8"/><stop offset=".349" stop-color="#c5c5c5"/><stop offset=".354" stop-color="#b9b9b9"/><stop offset=".359" stop-color="#a9a9a9"/><stop offset=".364" stop-color="#a8a8a8"/><stop offset=".369" stop-color="#b7b7b7"/><stop offset=".374" stop-color="#b5b5b5"/><stop offset=".379" stop-color="#a3a3a3"/><stop offset=".384" stop-color="#a6a6a6"/><stop offset=".394" stop-color="#c7c7c7"/><stop offset=".399" stop-color="#cdcdcd"/><stop offset=".465" stop-color="#d5d5d5"/><stop offset=".48" stop-color="#d3d3d3"/><stop offset=".495" stop-color="#ccc"/><stop offset=".57" stop-color="#8d8d8d"/><stop offset=".651" stop-color="#303030"/><stop offset=".661" stop-color="#222"/><stop offset=".676" stop-color="#080808"/><stop offset=".686" stop-color="#010101"/><stop offset=".997" stop-color="#000"/></linearGradient>
<linearGradient id="a94" gradientUnits="userSpaceOnUse" x1="29" x2="228"><stop offset=".003" stop-color="#000"/><stop offset=".128" stop-color="#000"/><stop offset=".138" stop-color="#020202"/><stop offset=".148" stop-color="#0e0e0e"/><stop offset=".183" stop-color="#494949"/><stop offset=".209" stop-color="#787878"/><stop offset=".219" stop-color="#878787"/><stop offset=".244" stop-color="#a8a8a8"/><stop offset=".259" stop-color="#b8b8b8"/><stop offset=".269" stop-color="#bfbfbf"/><stop offset=".344" stop-color="#c8c8c8"/><stop offset=".349" stop-color="#c5c5c5"/><stop offset=".354" stop-color="#bababa"/><stop offset=".359" stop-color="#a9a9a9"/><stop offset=".364" stop-color="#a8a8a8"/><stop offset=".369" stop-color="#b6b6b6"/><stop offset=".374" stop-color="#b2b2b2"/><stop offset=".379" stop-color="#a1a1a1"/><stop offset=".384" stop-color="#a9a9a9"/><stop offset=".389" stop-color="#bdbdbd"/><stop offset=".394" stop-color="#cacaca"/><stop offset=".399" stop-color="#cecece"/><stop offset=".46" stop-color="#d7d7d7"/><stop offset=".475" stop-color="#d4d4d4"/><stop offset=".495" stop-color="#cacaca"/><stop offset=".565" stop-color="#8e8e8e"/><stop offset=".646" stop-color="#303030"/><stop offset=".656" stop-color="#212121"/><stop offset=".671" stop-color="#070707"/><stop offset=".676" stop-color="#020202"/><stop offset=".691" stop-color="#000"/><stop offset=".997" stop-color="#000"/></linearGradient>
<linearGradient id="a95" gradientUnits="userSpaceOnUse" x1="29" x2="228"><stop offset=".003" stop-color="#000"/><stop offset=".133" stop-color="#000"/><stop offset=".143" stop-color="#020202"/><stop offset=".148" stop-color="#060606"/><stop offset=".158" stop-color="#151515"/><stop offset=".188" stop-color="#484848"/><stop offset=".209" stop-color="#707070"/><stop offset=".224" stop-color="#898989"/><stop offset=".249" stop-color="#ababab"/><stop offset=".269" stop-color="#bfbfbf"/><stop offset=".344" stop-color="#c8c8c8"/><stop offset=".349" stop-color="#c6c6c6"/><stop offset=".354" stop-color="#bcbcbc"/><stop offset=".359" stop-color="#aaa"/><stop offset=".364" stop-color="#a8a8a8"/><stop offset=".369" stop-color="#b4b4b4"/><stop offset=".374" stop-color="#aeaeae"/><stop offset=".379" stop-color="#a0a0a0"/><stop offset=".384" stop-color="#aeaeae"/><stop offset=".389" stop-color="#c2c2c2"/><stop offset=".394" stop-color="#ccc"/><stop offset=".405" stop-color="#d0d0d0"/><stop offset=".455" stop-color="#d8d8d8"/><stop offset=".47" stop-color="#d5d5d5"/><stop offset=".49" stop-color="#cbcbcb"/><stop offset=".53" stop-color="#aaa"/><stop offset=".565" stop-color="#8a8a8a"/><stop offset=".641" stop-color="#2f2f2f"/><stop offset=".651" stop-color="#202020"/><stop offset=".661" stop-color="#0e0e0e"/><stop offset=".671" stop-color="#020202"/><stop offset=".686" stop-color="#000"/><stop offset=".997" stop-color="#000"/></linearGradient>
<linearGradient id="a96" gradientUnits="userSpaceOnUse" x1="29" x2="228"><stop offset=".003" stop-color="#000"/><stop offset=".138" stop-color="#000"/><stop offset=".148" stop-color="#020202"/><stop offset=".158" stop-color="#0b0b0b"/><stop offset=".163" stop-color="#131313"/><stop offset=".188" stop-color="#3f3f3f"/><stop offset=".219" stop-color="#7b7b7b"/><stop offset=".229" stop-color="#8b8b8b"/><stop offset=".249" stop-color="#a7a7a7"/><stop offset=".269" stop-color="#bebebe"/><stop offset=".279" stop-color="#c1c1c1"/><stop offset=".344" stop-color="#c9c9c9"/><stop offset=".349" stop-color="#c7c7c7"/><stop offset=".354" stop-color="#bdbdbd"/><stop offset=".359" stop-color="#acacac"/><stop offset=".364" stop-color="#a7a7a7"/><stop offset=".369" stop-color="#b1b1b1"/><stop offset=".379" stop-color="#a2a2a2"/><stop offset=".389" stop-color="#c6c6c6"/><stop offset=".394" stop-color="#cdcdcd"/><stop offset=".45" stop-color="#d9d9d9"/><stop offset=".465" stop-color="#d6d6d6"/><stop offset=".49" stop-color="#c9c9c9"/><stop offset=".525" stop-color="#acacac"/><stop offset=".56" stop-color="#8b8b8b"/><stop offset=".636" stop-color="#2f2f2f"/><stop offset=".646" stop-color="#202020"/><stop offset=".656" stop-color="#0d0d0d"/><stop offset=".661" stop-color="#060606"/><stop offset=".666" stop-color="#020202"/><stop offset=".681" stop-color="#000"/><stop offset=".997" stop-color="#000"/></linearGradient>
<linearGradient id="a97" gradientUnits="userSpaceOnUse" x1="29" x2="228"><stop offset=".003" stop-color="#000"/><stop offset=".153" stop-color="#010101"/><stop offset=".163" stop-color="#090909"/><stop offset=".173" stop-color="#1a1a1a"/><stop offset=".198" stop-color="#484848"/><stop offset=".224" stop-color="#7c7c7c"/><stop offset=".234" stop-color="#8d8d8d"/><stop offset=".259" stop-color="#b0b0b0"/><stop offset=".274" stop-color="#c0c0c0"/><stop offset=".284" stop-color="#c3c3c3"/><stop offset=".344" stop-color="#c9c9c9"/><stop offset=".349" stop-color="#c8c8c8"/><stop offset=".354" stop-color="#bfbfbf"/><stop offset=".359" stop-color="#adadad"/><stop offset=".364" stop-color="#a6a6a6"/><stop offset=".369" stop-color="#adadad"/><stop offset=".374" stop-color="#a6a6a6"/><stop offset=".379" stop-color="#a6a6a6"/><stop offset=".384" stop-color="#bababa"/><stop offset=".389" stop-color="#c9c9c9"/><stop offset=".394" stop-color="#cecece"/><stop offset=".445" stop-color="#dadada"/><stop offset=".46" stop-color="#d7d7d7"/><stop offset=".49" stop-color="#c7c7c7"/><stop offset=".52" stop-color="#aeaeae"/><stop offset=".555" stop-color="#8c8c8c"/><stop offset=".631" stop-color="#2f2f2f"/><stop offset=".641" stop-color="#1f1f1f"/><stop offset=".651" stop-color="#0c0c0c"/><stop offset=".656" stop-color="#050505"/><stop offset=".661" stop-color="#020202"/><stop offset=".676" stop-color="#000"/><stop offset=".997" stop-color="#000"/></linearGradient>
<linearGradient id="a98" gradientUnits="userSpaceOnUse" x1="29" x2="228"><stop offset=".003" stop-color="#000"/><stop offset=".148" stop-color="#000"/><stop offset=".163" stop-color="#030303"/><stop offset=".168" stop-color="#080808"/><stop offset=".178" stop-color="#171717"/><stop offset=".234" stop-color="#868686"/><stop offset=".259" stop-color="#ababab"/><stop offset=".274" stop-color="#bebebe"/><stop offset=".284" stop-color="#c3c3c3"/><stop offset=".339" stop-color="#c9c9c9"/><stop offset=".349" stop-color="#c8c8c8"/><stop offset=".354" stop-color="#c0c0c0"/><stop offset=".359" stop-color="#aeaeae"/><stop offset=".364" stop-color="#a5a5a5"/><stop offset=".369" stop-color="#a8a8a8"/><stop offset=".374" stop-color="#a4a4a4"/><stop offset=".379" stop-color="#ababab"/><stop offset=".384" stop-color="#c0c0c0"/><stop offset=".389" stop-color="#ccc"/><stop offset=".394" stop-color="#cfcfcf"/><stop offset=".44" stop-color="#dadada"/><stop offset=".455" stop-color="#d7d7d7"/><stop offset=".485" stop-color="#c9c9c9"/><stop offset=".52" stop-color="#ababab"/><stop offset=".55" stop-color="#8d8d8d"/><stop offset=".565" stop-color="#7c7c7c"/><stop offset=".621" stop-color="#363636"/><stop offset=".631" stop-color="#272727"/><stop offset=".646" stop-color="#0c0c0c"/><stop offset=".656" stop-color="#020202"/><stop offset=".997" stop-color="#000"/></linearGradient>
<linearGradient id="a99" gradientUnits="userSpaceOnUse" x1="29" x2="228"><stop offset=".003" stop-color="#000"/><stop offset=".153" stop-color="#000"/><stop offset=".168" stop-color="#020202"/><stop offset=".178" stop-color="#0c0c0c"/><stop offset=".183" stop-color="#151515"/><stop offset=".239" stop-color="#868686"/><stop offset=".264" stop-color="#adadad"/><stop offset=".279" stop-color="#c0c0c0"/><stop offset=".289" stop-color="#c4c4c4"/><stop offset=".349" stop-color="#c9c9c9"/><stop offset=".354" stop-color="#c1c1c1"/><stop offset=".359" stop-color="#b0b0b0"/><stop offset=".364" stop-color="#a3a3a3"/><stop offset=".374" stop-color="#a4a4a4"/><stop offset=".379" stop-color="#b1b1b1"/><stop offset=".384" stop-color="#c5c5c5"/><stop offset=".389" stop-color="#cdcdcd"/><stop offset=".435" stop-color="#dbdbdb"/><stop offset=".45" stop-color="#d8d8d8"/><stop offset=".485" stop-color="#c7c7c7"/><stop offset=".525" stop-color="#a3a3a3"/><stop offset=".55" stop-color="#898989"/><stop offset=".565" stop-color="#777"/><stop offset=".621" stop-color="#2e2e2e"/><stop offset=".641" stop-color="#0b0b0b"/><stop offset=".651" stop-color="#010101"/><stop offset=".997" stop-color="#000"/></linearGradient>
<linearGradient id="a100" gradientUnits="userSpaceOnUse" x1="29" x2="228"><stop offset=".003" stop-color="#000"/><stop offset=".173" stop-color="#020202"/><stop offset=".183" stop-color="#0a0a0a"/><stop offset=".188" stop-color="#141414"/><stop offset=".244" stop-color="#878787"/><stop offset=".274" stop-color="#b6b6b6"/><stop offset=".284" stop-color="#c2c2c2"/><stop offset=".294" stop-color="#c5c5c5"/><stop offset=".349" stop-color="#cacaca"/><stop offset=".354" stop-color="#c3c3c3"/><stop offset=".364" stop-color="#a2a2a2"/><stop offset=".369" stop-color="#a1a1a1"/><stop offset=".374" stop-color="#a6a6a6"/><stop offset=".384" stop-color="#c8c8c8"/><stop offset=".389" stop-color="#cfcfcf"/><stop offset=".435" stop-color="#dcdcdc"/><stop offset=".48" stop-color="#c8c8c8"/><stop offset=".525" stop-color="#9f9f9f"/><stop offset=".56" stop-color="#787878"/><stop offset=".616" stop-color="#2e2e2e"/><stop offset=".636" stop-color="#0a0a0a"/><stop offset=".646" stop-color="#010101"/><stop offset=".997" stop-color="#000"/></linearGradient>
<linearGradient id="a101" gradientUnits="userSpaceOnUse" x1="29" x2="228"><stop offset=".003" stop-color="#000"/><stop offset=".178" stop-color="#010101"/><stop offset=".183" stop-color="#040404"/><stop offset=".188" stop-color="#0a0a0a"/><stop offset=".193" stop-color="#131313"/><stop offset=".249" stop-color="#888"/><stop offset=".279" stop-color="#b8b8b8"/><stop offset=".289" stop-color="#c4c4c4"/><stop offset=".349" stop-color="#cacaca"/><stop offset=".354" stop-color="#c4c4c4"/><stop offset=".364" stop-color="#a0a0a0"/><stop offset=".369" stop-color="#9e9e9e"/><stop offset=".374" stop-color="#a9a9a9"/><stop offset=".379" stop-color="#bdbdbd"/><stop offset=".384" stop-color="#cbcbcb"/><stop offset=".389" stop-color="#d0d0d0"/><stop offset=".43" stop-color="#ddd"/><stop offset=".475" stop-color="#c9c9c9"/><stop offset=".515" stop-color="#a5a5a5"/><stop offset=".555" stop-color="#787878"/><stop offset=".611" stop-color="#2d2d2d"/><stop offset=".631" stop-color="#090909"/><stop offset=".641" stop-color="#010101"/><stop offset=".997" stop-color="#000"/></linearGradient>
<linearGradient id="a102" gradientUnits="userSpaceOnUse" x1="29" x2="228"><stop offset=".003" stop-color="#000"/><stop offset=".173" stop-color="#000"/><stop offset=".188" stop-color="#030303"/><stop offset=".193" stop-color="#0a0a0a"/><stop offset=".198" stop-color="#131313"/><stop offset=".254" stop-color="#888"/><stop offset=".279" stop-color="#b3b3b3"/><stop offset=".289" stop-color="#c1c1c1"/><stop offset=".299" stop-color="#c7c7c7"/><stop offset=".349" stop-color="#cbcbcb"/><stop offset=".354" stop-color="#c6c6c6"/><stop offset=".364" stop-color="#9e9e9e"/><stop offset=".369" stop-color="#9b9b9b"/><stop offset=".374" stop-color="#ababab"/><stop offset=".379" stop-color="#c2c2c2"/><stop offset=".384" stop-color="#cecece"/><stop offset=".425" stop-color="#dedede"/><stop offset=".435" stop-color="#dbdbdb"/><stop offset=".475" stop-color="#c7c7c7"/><stop offset=".51" stop-color="#a5a5a5"/><stop offset=".55" stop-color="#777"/><stop offset=".601" stop-color="#333"/><stop offset=".626" stop-color="#080808"/><stop offset=".636" stop-color="#010101"/><stop offset=".997" stop-color="#000"/></linearGradient>
<linearGradient id="a103" gradientUnits="userSpaceOnUse" x1="29" x2="228"><stop offset=".003" stop-color="#000"/><stop offset=".178" stop-color="#000"/><stop offset=".193" stop-color="#030303"/><stop offset=".198" stop-color="#0a0a0a"/><stop offset=".204" stop-color="#131313"/><stop offset=".259" stop-color="#8a8a8a"/><stop offset=".284" stop-color="#b5b5b5"/><stop offset=".294" stop-color="#c4c4c4"/><stop offset=".304" stop-color="#c8c8c8"/><stop offset=".349" stop-color="#ccc"/><stop offset=".354" stop-color="#c6c6c6"/><stop offset=".359" stop-color="#b2b2b2"/><stop offset=".364" stop-color="#999"/><stop offset=".369" stop-color="#969696"/><stop offset=".379" stop-color="#c5c5c5"/><stop offset=".384" stop-color="#d0d0d0"/><stop offset=".42" stop-color="#dedede"/><stop offset=".43" stop-color="#dcdcdc"/><stop offset=".47" stop-color="#c7c7c7"/><stop offset=".505" stop-color="#a5a5a5"/><stop offset=".535" stop-color="#838383"/><stop offset=".55" stop-color="#707070"/><stop offset=".595" stop-color="#323232"/><stop offset=".616" stop-color="#0e0e0e"/><stop offset=".626" stop-color="#030303"/><stop offset=".641" stop-color="#000"/><stop offset=".997" stop-color="#000"/></linearGradient>
<linearGradient id="a104" gradientUnits="userSpaceOnUse" x1="29" x2="228"><stop offset=".003" stop-color="#000"/><stop offset=".193" stop-color="#010101"/><stop offset=".198" stop-color="#040404"/><stop offset=".204" stop-color="#0a0a0a"/><stop offset=".234" stop-color="#484848"/><stop offset=".264" stop-color="#8b8b8b"/><stop offset=".289" stop-color="#b8b8b8"/><stop offset=".299" stop-color="#c6c6c6"/><stop offset=".309" stop-color="#c9c9c9"/><stop offset=".349" stop-color="#cdcdcd"/><stop offset=".354" stop-color="#c7c7c7"/><stop offset=".359" stop-color="#b0b0b0"/><stop offset=".364" stop-color="#919191"/><stop offset=".369" stop-color="#8e8e8e"/><stop offset=".379" stop-color="#c8c8c8"/><stop offset=".384" stop-color="#d1d1d1"/><stop offset=".415" stop-color="#dfdfdf"/><stop offset=".42" stop-color="#dfdfdf"/><stop offset=".465" stop-color="#c8c8c8"/><stop offset=".5" stop-color="#a5a5a5"/><stop offset=".54" stop-color="#757575"/><stop offset=".59" stop-color="#303030"/><stop offset=".611" stop-color="#0c0c0c"/><stop offset=".621" stop-color="#020202"/><stop offset=".636" stop-color="#000"/><stop offset=".997" stop-color="#000"/></linearGradient>
<linearGradient id="a105" gradientUnits="userSpaceOnUse" x1="29" x2="228"><stop offset=".003" stop-color="#000"/><stop offset=".198" stop-color="#010101"/><stop offset=".204" stop-color="#040404"/><stop offset=".209" stop-color="#0a0a0a"/><stop offset=".239" stop-color="#484848"/><stop offset=".269" stop-color="#8c8c8c"/><stop offset=".294" stop-color="#bababa"/><stop offset=".304" stop-color="#c7c7c7"/><stop offset=".314" stop-color="#cbcbcb"/><stop offset=".349" stop-color="#cecece"/><stop offset=".354" stop-color="#c6c6c6"/><stop offset=".359" stop-color="#ababab"/><stop offset=".364" stop-color="#858585"/><stop offset=".369" stop-color="#848484"/><stop offset=".374" stop-color="#ababab"/><stop offset=".379" stop-color="#c9c9c9"/><stop offset=".384" stop-color="#d3d3d3"/><stop offset=".415" stop-color="#e0e0e0"/><stop offset=".46" stop-color="#c9c9c9"/><stop offset=".49" stop-color="#ababab"/><stop offset=".535" stop-color="#747474"/><stop offset=".585" stop-color="#2e2e2e"/><stop offset=".606" stop-color="#0a0a0a"/><stop offset=".616" stop-color="#020202"/><stop offset=".997" stop-color="#000"/></linearGradient>
<linearGradient id="a106" gradientUnits="userSpaceOnUse" x1="29" x2="228"><stop offset=".003" stop-color="#000"/><stop offset=".193" stop-color="#000"/><stop offset=".209" stop-color="#040404"/><stop offset=".214" stop-color="#0a0a0a"/><stop offset=".219" stop-color="#131313"/><stop offset=".244" stop-color="#484848"/><stop offset=".269" stop-color="#828282"/><stop offset=".279" stop-color="#979797"/><stop offset=".294" stop-color="#b4b4b4"/><stop offset=".304" stop-color="#c4c4c4"/><stop offset=".314" stop-color="#cbcbcb"/><stop offset=".349" stop-color="#cecece"/><stop offset=".354" stop-color="#c6c6c6"/><stop offset=".359" stop-color="#a7a7a7"/><stop offset=".364" stop-color="#7b7b7b"/><stop offset=".369" stop-color="#7c7c7c"/><stop offset=".374" stop-color="#aaa"/><stop offset=".379" stop-color="#cbcbcb"/><stop offset=".384" stop-color="#d5d5d5"/><stop offset=".41" stop-color="#e1e1e1"/><stop offset=".42" stop-color="#dedede"/><stop offset=".435" stop-color="#d4d4d4"/><stop offset=".455" stop-color="#cacaca"/><stop offset=".48" stop-color="#b0b0b0"/><stop offset=".52" stop-color="#7f7f7f"/><stop offset=".57" stop-color="#3b3b3b"/><stop offset=".58" stop-color="#2c2c2c"/><stop offset=".601" stop-color="#090909"/><stop offset=".611" stop-color="#010101"/><stop offset=".997" stop-color="#000"/></linearGradient>
<linearGradient id="a107" gradientUnits="userSpaceOnUse" x1="29" x2="228"><stop offset=".003" stop-color="#000"/><stop offset=".198" stop-color="#000"/><stop offset=".214" stop-color="#030303"/><stop offset=".219" stop-color="#090909"/><stop offset=".229" stop-color="#1d1d1d"/><stop offset=".249" stop-color="#484848"/><stop offset=".274" stop-color="#838383"/><stop offset=".289" stop-color="#a3a3a3"/><stop offset=".304" stop-color="#bfbfbf"/><stop offset=".309" stop-color="#c6c6c6"/><stop offset=".319" stop-color="#cdcdcd"/><stop offset=".349" stop-color="#cfcfcf"/><stop offset=".354" stop-color="#c6c6c6"/><stop offset=".359" stop-color="#a6a6a6"/><stop offset=".364" stop-color="#7b7b7b"/><stop offset=".369" stop-color="#7e7e7e"/><stop offset=".374" stop-color="#adadad"/><stop offset=".379" stop-color="#cdcdcd"/><stop offset=".384" stop-color="#d7d7d7"/><stop offset=".399" stop-color="#dfdfdf"/><stop offset=".41" stop-color="#e2e2e2"/><stop offset=".45" stop-color="#cacaca"/><stop offset=".475" stop-color="#b0b0b0"/><stop offset=".515" stop-color="#7e7e7e"/><stop offset=".565" stop-color="#393939"/><stop offset=".595" stop-color="#070707"/><stop offset=".606" stop-color="#010101"/><stop offset=".997" stop-color="#000"/></linearGradient>
<linearGradient id="a108" gradientUnits="userSpaceOnUse" x1="29" x2="228"><stop offset=".003" stop-color="#000"/><stop offset=".204" stop-color="#000"/><stop offset=".219" stop-color="#030303"/><stop offset=".224" stop-color="#090909"/><stop offset=".234" stop-color="#1b1b1b"/><stop offset=".254" stop-color="#484848"/><stop offset=".289" stop-color="#9b9b9b"/><stop offset=".304" stop-color="#b9b9b9"/><stop offset=".314" stop-color="#c9c9c9"/><stop offset=".324" stop-color="#cfcfcf"/><stop offset=".349" stop-color="#d0d0d0"/><stop offset=".354" stop-color="#c8c8c8"/><stop offset=".359" stop-color="#ababab"/><stop offset=".364" stop-color="#848484"/><stop offset=".369" stop-color="#888"/><stop offset=".374" stop-color="#b4b4b4"/><stop offset=".379" stop-color="#d1d1d1"/><stop offset=".384" stop-color="#d9d9d9"/><stop offset=".394" stop-color="#e0e0e0"/><stop offset=".405" stop-color="#e3e3e3"/><stop offset=".415" stop-color="#dedede"/><stop offset=".445" stop-color="#cacaca"/><stop offset=".47" stop-color="#b0b0b0"/><stop offset=".505" stop-color="#838383"/><stop offset=".56" stop-color="#363636"/><stop offset=".57" stop-color="#272727"/><stop offset=".585" stop-color="#0c0c0c"/><stop offset=".595" stop-color="#020202"/><stop offset=".611" stop-color="#000"/><stop offset=".997" stop-color="#000"/></linearGradient>
<linearGradient id="a109" gradientUnits="userSpaceOnUse" x1="29" x2="228"><stop offset=".003" stop-color="#000"/><stop offset=".209" stop-color="#000"/><stop offset=".224" stop-color="#030303"/><stop offset=".229" stop-color="#080808"/><stop offset=".239" stop-color="#1a1a1a"/><stop offset=".259" stop-color="#474747"/><stop offset=".294" stop-color="#9d9d9d"/><stop offset=".314" stop-color="#c5c5c5"/><stop offset=".319" stop-color="#cbcbcb"/><stop offset=".329" stop-color="#d1d1d1"/><stop offset=".349" stop-color="#d2d2d2"/><stop offset=".354" stop-color="#ccc"/><stop offset=".359" stop-color="#b5b5b5"/><stop offset=".364" stop-color="#989898"/><stop offset=".369" stop-color="#9d9d9d"/><stop offset=".374" stop-color="#bebebe"/><stop offset=".379" stop-color="#d5d5d5"/><stop offset=".384" stop-color="#ddd"/><stop offset=".399" stop-color="#e3e3e3"/><stop offset=".41" stop-color="#e0e0e0"/><stop offset=".44" stop-color="#cacaca"/><stop offset=".46" stop-color="#b5b5b5"/><stop offset=".49" stop-color="#8e8e8e"/><stop offset=".555" stop-color="#333"/><stop offset=".58" stop-color="#090909"/><stop offset=".59" stop-color="#010101"/><stop offset=".997" stop-color="#000"/></linearGradient>
<linearGradient id="a110" gradientUnits="userSpaceOnUse" x1="29" x2="228"><stop offset=".003" stop-color="#000"/><stop offset=".214" stop-color="#000"/><stop offset=".229" stop-color="#020202"/><stop offset=".234" stop-color="#070707"/><stop offset=".244" stop-color="#181818"/><stop offset=".264" stop-color="#474747"/><stop offset=".299" stop-color="#9f9f9f"/><stop offset=".309" stop-color="#b5b5b5"/><stop offset=".319" stop-color="#c8c8c8"/><stop offset=".324" stop-color="#cdcdcd"/><stop offset=".334" stop-color="#d3d3d3"/><stop offset=".349" stop-color="#d4d4d4"/><stop offset=".354" stop-color="#d1d1d1"/><stop offset=".359" stop-color="#c4c4c4"/><stop offset=".364" stop-color="#b3b3b3"/><stop offset=".369" stop-color="#b7b7b7"/><stop offset=".374" stop-color="#ccc"/><stop offset=".379" stop-color="#dbdbdb"/><stop offset=".384" stop-color="#e0e0e0"/><stop offset=".394" stop-color="#e4e4e4"/><stop offset=".399" stop-color="#e3e3e3"/><stop offset=".41" stop-color="#ddd"/><stop offset=".435" stop-color="#cacaca"/><stop offset=".45" stop-color="#bababa"/><stop offset=".475" stop-color="#9a9a9a"/><stop offset=".55" stop-color="#303030"/><stop offset=".57" stop-color="#0e0e0e"/><stop offset=".575" stop-color="#070707"/><stop offset=".585" stop-color="#010101"/><stop offset=".997" stop-color="#000"/></linearGradient>
<linearGradient id="a111" gradientUnits="userSpaceOnUse" x1="29" x2="228"><stop offset=".003" stop-color="#000"/><stop offset=".219" stop-color="#000"/><stop offset=".234" stop-color="#020202"/><stop offset=".244" stop-color="#0c0c0c"/><stop offset=".249" stop-color="#161616"/><stop offset=".269" stop-color="#464646"/><stop offset=".309" stop-color="#adadad"/><stop offset=".319" stop-color="#c3c3c3"/><stop offset=".324" stop-color="#cbcbcb"/><stop offset=".334" stop-color="#d4d4d4"/><stop offset=".344" stop-color="#d7d7d7"/><stop offset=".354" stop-color="#d5d5d5"/><stop offset=".364" stop-color="#cacaca"/><stop offset=".369" stop-color="#cdcdcd"/><stop offset=".379" stop-color="#e0e0e0"/><stop offset=".389" stop-color="#e4e4e4"/><stop offset=".405" stop-color="#dedede"/><stop offset=".43" stop-color="#cacaca"/><stop offset=".445" stop-color="#b9b9b9"/><stop offset=".465" stop-color="#9f9f9f"/><stop offset=".545" stop-color="#2d2d2d"/><stop offset=".565" stop-color="#0b0b0b"/><stop offset=".575" stop-color="#020202"/><stop offset=".59" stop-color="#000"/><stop offset=".997" stop-color="#000"/></linearGradient>
<linearGradient id="a112" gradientUnits="userSpaceOnUse" x1="29" x2="228"><stop offset=".003" stop-color="#000"/><stop offset=".229" stop-color="#000"/><stop offset=".244" stop-color="#040404"/><stop offset=".249" stop-color="#0a0a0a"/><stop offset=".259" stop-color="#1e1e1e"/><stop offset=".279" stop-color="#515151"/><stop offset=".314" stop-color="#b0b0b0"/><stop offset=".324" stop-color="#c6c6c6"/><stop offset=".329" stop-color="#cecece"/><stop offset=".339" stop-color="#d7d7d7"/><stop offset=".349" stop-color="#d9d9d9"/><stop offset=".364" stop-color="#d7d7d7"/><stop offset=".379" stop-color="#e4e4e4"/><stop offset=".384" stop-color="#e5e5e5"/><stop offset=".399" stop-color="#e0e0e0"/><stop offset=".425" stop-color="#cacaca"/><stop offset=".435" stop-color="#bfbfbf"/><stop offset=".455" stop-color="#a4a4a4"/><stop offset=".505" stop-color="#5a5a5a"/><stop offset=".535" stop-color="#303030"/><stop offset=".555" stop-color="#0f0f0f"/><stop offset=".565" stop-color="#040404"/><stop offset=".57" stop-color="#010101"/><stop offset=".997" stop-color="#000"/></linearGradient>
<linearGradient id="a113" gradientUnits="userSpaceOnUse" x1="29" x2="228"><stop offset=".003" stop-color="#000"/><stop offset=".234" stop-color="#000"/><stop offset=".249" stop-color="#030303"/><stop offset=".254" stop-color="#080808"/><stop offset=".264" stop-color="#1a1a1a"/><stop offset=".284" stop-color="#4f4f4f"/><stop offset=".319" stop-color="#b4b4b4"/><stop offset=".329" stop-color="#c9c9c9"/><stop offset=".339" stop-color="#d6d6d6"/><stop offset=".344" stop-color="#dadada"/><stop offset=".364" stop-color="#dedede"/><stop offset=".379" stop-color="#e7e7e7"/><stop offset=".394" stop-color="#e1e1e1"/><stop offset=".42" stop-color="#cacaca"/><stop offset=".43" stop-color="#bebebe"/><stop offset=".45" stop-color="#a3a3a3"/><stop offset=".5" stop-color="#565656"/><stop offset=".525" stop-color="#333"/><stop offset=".55" stop-color="#0b0b0b"/><stop offset=".56" stop-color="#020202"/><stop offset=".58" stop-color="#000"/><stop offset=".997" stop-color="#000"/></linearGradient>
<linearGradient id="a114" gradientUnits="userSpaceOnUse" x1="29" x2="228"><stop offset=".003" stop-color="#000"/><stop offset=".239" stop-color="#000"/><stop offset=".254" stop-color="#030303"/><stop offset=".264" stop-color="#0d0d0d"/><stop offset=".274" stop-color="#222"/><stop offset=".294" stop-color="#5b5b5b"/><stop offset=".319" stop-color="#a9a9a9"/><stop offset=".329" stop-color="#c3c3c3"/><stop offset=".334" stop-color="#ccc"/><stop offset=".344" stop-color="#dadada"/><stop offset=".374" stop-color="#e8e8e8"/><stop offset=".389" stop-color="#e3e3e3"/><stop offset=".42" stop-color="#c4c4c4"/><stop offset=".44" stop-color="#a8a8a8"/><stop offset=".49" stop-color="#5a5a5a"/><stop offset=".525" stop-color="#272727"/><stop offset=".54" stop-color="#0d0d0d"/><stop offset=".55" stop-color="#040404"/><stop offset=".555" stop-color="#010101"/><stop offset=".997" stop-color="#000"/></linearGradient>
<linearGradient id="a115" gradientUnits="userSpaceOnUse" x1="29" x2="228"><stop offset=".003" stop-color="#000"/><stop offset=".244" stop-color="#000"/><stop offset=".254" stop-color="#000"/><stop offset=".264" stop-color="#040404"/><stop offset=".274" stop-color="#121212"/><stop offset=".284" stop-color="#2a2a2a"/><stop offset=".299" stop-color="#585858"/><stop offset=".324" stop-color="#acacac"/><stop offset=".334" stop-color="#c6c6c6"/><stop offset=".344" stop-color="#d7d7d7"/><stop offset=".349" stop-color="#ddd"/><stop offset=".369" stop-color="#eaeaea"/><stop offset=".374" stop-color="#ebebeb"/><stop offset=".389" stop-color="#e1e1e1"/><stop offset=".415" stop-color="#c4c4c4"/><stop offset=".435" stop-color="#a7a7a7"/><stop offset=".475" stop-color="#656565"/><stop offset=".515" stop-color="#292929"/><stop offset=".53" stop-color="#101010"/><stop offset=".54" stop-color="#050505"/><stop offset=".545" stop-color="#020202"/><stop offset=".565" stop-color="#000"/><stop offset=".997" stop-color="#000"/></linearGradient>
<linearGradient id="a116" gradientUnits="userSpaceOnUse" x1="29" x2="228"><stop offset=".003" stop-color="#000"/><stop offset=".254" stop-color="#000"/><stop offset=".269" stop-color="#030303"/><stop offset=".279" stop-color="#0d0d0d"/><stop offset=".289" stop-color="#252525"/><stop offset=".304" stop-color="#555"/><stop offset=".329" stop-color="#afafaf"/><stop offset=".339" stop-color="#c9c9c9"/><stop offset=".349" stop-color="#dcdcdc"/><stop offset=".354" stop-color="#e2e2e2"/><stop offset=".369" stop-color="#ededed"/><stop offset=".374" stop-color="#ededed"/><stop offset=".384" stop-color="#e5e5e5"/><stop offset=".405" stop-color="#cbcbcb"/><stop offset=".43" stop-color="#a5a5a5"/><stop offset=".47" stop-color="#616161"/><stop offset=".52" stop-color="#121212"/><stop offset=".53" stop-color="#060606"/><stop offset=".535" stop-color="#030303"/><stop offset=".555" stop-color="#000"/><stop offset=".997" stop-color="#000"/></linearGradient>
<linearGradient id="a117" gradientUnits="userSpaceOnUse" x1="29" x2="228"><stop offset=".003" stop-color="#000"/><stop offset=".259" stop-color="#000"/><stop offset=".279" stop-color="#040404"/><stop offset=".289" stop-color="#131313"/><stop offset=".294" stop-color="#1f1f1f"/><stop offset=".299" stop-color="#2e2e2e"/><stop offset=".309" stop-color="#515151"/><stop offset=".329" stop-color="#a0a0a0"/><stop offset=".339" stop-color="#c1c1c1"/><stop offset=".349" stop-color="#d9d9d9"/><stop offset=".354" stop-color="#e2e2e2"/><stop offset=".364" stop-color="#eee"/><stop offset=".369" stop-color="#f1f1f1"/><stop offset=".379" stop-color="#e9e9e9"/><stop offset=".399" stop-color="#cdcdcd"/><stop offset=".46" stop-color="#646464"/><stop offset=".51" stop-color="#131313"/><stop offset=".52" stop-color="#070707"/><stop offset=".53" stop-color="#010101"/><stop offset=".997" stop-color="#000"/></linearGradient>
<linearGradient id="a118" gradientUnits="userSpaceOnUse" x1="29" x2="228"><stop offset=".003" stop-color="#000"/><stop offset=".264" stop-color="#000"/><stop offset=".284" stop-color="#030303"/><stop offset=".294" stop-color="#0e0e0e"/><stop offset=".304" stop-color="#292929"/><stop offset=".314" stop-color="#4d4d4d"/><stop offset=".334" stop-color="#a2a2a2"/><stop offset=".344" stop-color="#c6c6c6"/><stop offset=".354" stop-color="#e1e1e1"/><stop offset=".359" stop-color="#eaeaea"/><stop offset=".364" stop-color="#f1f1f1"/><stop offset=".369" stop-color="#f3f3f3"/><stop offset=".374" stop-color="#efefef"/><stop offset=".389" stop-color="#d9d9d9"/><stop offset=".45" stop-color="#676767"/><stop offset=".5" stop-color="#141414"/><stop offset=".51" stop-color="#070707"/><stop offset=".52" stop-color="#020202"/><stop offset=".54" stop-color="#000"/><stop offset=".997" stop-color="#000"/></linearGradient>
<linearGradient id="a119" gradientUnits="userSpaceOnUse" x1="29" x2="228"><stop offset=".003" stop-color="#000"/><stop offset=".274" stop-color="#000"/><stop offset=".284" stop-color="#010101"/><stop offset=".294" stop-color="#050505"/><stop offset=".299" stop-color="#0b0b0b"/><stop offset=".304" stop-color="#151515"/><stop offset=".309" stop-color="#232323"/><stop offset=".314" stop-color="#353535"/><stop offset=".324" stop-color="#5f5f5f"/><stop offset=".339" stop-color="#a6a6a6"/><stop offset=".349" stop-color="#cdcdcd"/><stop offset=".359" stop-color="#eaeaea"/><stop offset=".364" stop-color="#f3f3f3"/><stop offset=".369" stop-color="#f5f5f5"/><stop offset=".374" stop-color="#f0f0f0"/><stop offset=".384" stop-color="#dedede"/><stop offset=".435" stop-color="#757575"/><stop offset=".48" stop-color="#242424"/><stop offset=".495" stop-color="#0d0d0d"/><stop offset=".51" stop-color="#020202"/><stop offset=".53" stop-color="#000"/><stop offset=".997" stop-color="#000"/></linearGradient>
<linearGradient id="a120" gradientUnits="userSpaceOnUse" x1="29" x2="228"><stop offset=".003" stop-color="#000"/><stop offset=".284" stop-color="#000"/><stop offset=".299" stop-color="#030303"/><stop offset=".304" stop-color="#080808"/><stop offset=".309" stop-color="#111"/><stop offset=".314" stop-color="#1f1f1f"/><stop offset=".324" stop-color="#484848"/><stop offset=".334" stop-color="#797979"/><stop offset=".344" stop-color="#adadad"/><stop offset=".349" stop-color="#c5c5c5"/><stop offset=".354" stop-color="#d9d9d9"/><stop offset=".359" stop-color="#e9e9e9"/><stop offset=".364" stop-color="#f3f3f3"/><stop offset=".369" stop-color="#f6f6f6"/><stop offset=".374" stop-color="#efefef"/><stop offset=".384" stop-color="#dbdbdb"/><stop offset=".43" stop-color="#727272"/><stop offset=".46" stop-color="#3a3a3a"/><stop offset=".47" stop-color="#242424"/><stop offset=".485" stop-color="#0d0d0d"/><stop offset=".5" stop-color="#020202"/><stop offset=".52" stop-color="#000"/><stop offset=".997" stop-color="#000"/></linearGradient>
<linearGradient id="a121" gradientUnits="userSpaceOnUse" x1="29" x2="228"><stop offset=".003" stop-color="#000"/><stop offset=".289" stop-color="#000"/><stop offset=".304" stop-color="#020202"/><stop offset=".309" stop-color="#070707"/><stop offset=".314" stop-color="#111"/><stop offset=".319" stop-color="#222"/><stop offset=".329" stop-color="#505050"/><stop offset=".334" stop-color="#6a6a6a"/><stop offset=".349" stop-color="#bebebe"/><stop offset=".354" stop-color="#d5d5d5"/><stop offset=".359" stop-color="#e7e7e7"/><stop offset=".364" stop-color="#f3f3f3"/><stop offset=".369" stop-color="#f5f5f5"/><stop offset=".374" stop-color="#eee"/><stop offset=".379" stop-color="#e4e4e4"/><stop offset=".425" stop-color="#737373"/><stop offset=".445" stop-color="#4b4b4b"/><stop offset=".46" stop-color="#303030"/><stop offset=".47" stop-color="#171717"/><stop offset=".48" stop-color="#080808"/><stop offset=".49" stop-color="#020202"/><stop offset=".51" stop-color="#000"/><stop offset=".997" stop-color="#000"/></linearGradient>
<clipPath id="cl"><rect x="29.20" y="4.60" width="198.10" height="298.20"/></clipPath>
<linearGradient id="p10" gradientUnits="userSpaceOnUse" x1="338" x2="356"><stop offset=".028" stop-color="#000"/><stop offset=".083" stop-color="#020202"/><stop offset=".194" stop-color="#0e0e0e"/><stop offset=".306" stop-color="#161616"/><stop offset=".472" stop-color="#1c1c1c"/><stop offset=".583" stop-color="#1b1b1b"/><stop offset=".694" stop-color="#161616"/><stop offset=".806" stop-color="#0e0e0e"/><stop offset=".917" stop-color="#010101"/><stop offset=".972" stop-color="#000"/></linearGradient>
<linearGradient id="p11" gradientUnits="userSpaceOnUse" x1="335" x2="359"><stop offset=".021" stop-color="#000"/><stop offset=".146" stop-color="#1c1c1c"/><stop offset=".271" stop-color="#313131"/><stop offset=".354" stop-color="#393939"/><stop offset=".479" stop-color="#3e3e3e"/><stop offset=".604" stop-color="#3b3b3b"/><stop offset=".729" stop-color="#303030"/><stop offset=".854" stop-color="#1b1b1b"/><stop offset=".979" stop-color="#000"/></linearGradient>
<linearGradient id="p12" gradientUnits="userSpaceOnUse" x1="332" x2="362"><stop offset=".017" stop-color="#000"/><stop offset=".05" stop-color="#070707"/><stop offset=".183" stop-color="#313131"/><stop offset=".283" stop-color="#484848"/><stop offset=".383" stop-color="#565656"/><stop offset=".483" stop-color="#5a5a5a"/><stop offset=".583" stop-color="#565656"/><stop offset=".683" stop-color="#4a4a4a"/><stop offset=".75" stop-color="#3d3d3d"/><stop offset=".817" stop-color="#2d2d2d"/><stop offset=".883" stop-color="#191919"/><stop offset=".95" stop-color="#010101"/><stop offset=".983" stop-color="#000"/></linearGradient>
<linearGradient id="p13" gradientUnits="userSpaceOnUse" x1="330" x2="363"><stop offset=".015" stop-color="#000"/><stop offset=".076" stop-color="#1b1b1b"/><stop offset=".136" stop-color="#313131"/><stop offset=".227" stop-color="#4c4c4c"/><stop offset=".288" stop-color="#5c5c5c"/><stop offset=".379" stop-color="#6c6c6c"/><stop offset=".5" stop-color="#707070"/><stop offset=".561" stop-color="#6f6f6f"/><stop offset=".621" stop-color="#696969"/><stop offset=".712" stop-color="#595959"/><stop offset=".833" stop-color="#363636"/><stop offset=".894" stop-color="#202020"/><stop offset=".955" stop-color="#060606"/><stop offset=".985" stop-color="#000"/></linearGradient>
<linearGradient id="p14" gradientUnits="userSpaceOnUse" x1="327" x2="364"><stop offset=".014" stop-color="#000"/><stop offset=".041" stop-color="#010101"/><stop offset=".095" stop-color="#252525"/><stop offset=".122" stop-color="#343434"/><stop offset=".149" stop-color="#404040"/><stop offset=".203" stop-color="#525252"/><stop offset=".365" stop-color="#7c7c7c"/><stop offset=".419" stop-color="#858585"/><stop offset=".473" stop-color="#878787"/><stop offset=".608" stop-color="#818181"/><stop offset=".635" stop-color="#7e7e7e"/><stop offset=".689" stop-color="#727272"/><stop offset=".77" stop-color="#585858"/><stop offset=".824" stop-color="#434343"/><stop offset=".878" stop-color="#2c2c2c"/><stop offset=".959" stop-color="#030303"/><stop offset=".986" stop-color="#000"/></linearGradient>
<linearGradient id="p15" gradientUnits="userSpaceOnUse" x1="325" x2="364"><stop offset=".013" stop-color="#000"/><stop offset=".038" stop-color="#070707"/><stop offset=".141" stop-color="#4a4a4a"/><stop offset=".192" stop-color="#646464"/><stop offset=".244" stop-color="#737373"/><stop offset=".397" stop-color="#979797"/><stop offset=".449" stop-color="#9e9e9e"/><stop offset=".474" stop-color="#9f9f9f"/><stop offset=".603" stop-color="#9a9a9a"/><stop offset=".654" stop-color="#949494"/><stop offset=".679" stop-color="#8e8e8e"/><stop offset=".731" stop-color="#7c7c7c"/><stop offset=".808" stop-color="#5d5d5d"/><stop offset=".859" stop-color="#444"/><stop offset=".987" stop-color="#000"/></linearGradient>
<linearGradient id="p16" gradientUnits="userSpaceOnUse" x1="322" x2="366"><stop offset=".011" stop-color="#000"/><stop offset=".034" stop-color="#030303"/><stop offset=".193" stop-color="#6a6a6a"/><stop offset=".239" stop-color="#828282"/><stop offset=".284" stop-color="#909090"/><stop offset=".42" stop-color="#aeaeae"/><stop offset=".466" stop-color="#b5b5b5"/><stop offset=".489" stop-color="#b6b6b6"/><stop offset=".625" stop-color="#aeaeae"/><stop offset=".648" stop-color="#aaa"/><stop offset=".693" stop-color="#9c9c9c"/><stop offset=".784" stop-color="#747474"/><stop offset=".898" stop-color="#303030"/><stop offset=".989" stop-color="#000"/></linearGradient>
<linearGradient id="p17" gradientUnits="userSpaceOnUse" x1="320" x2="371"><stop offset=".01" stop-color="#000"/><stop offset=".029" stop-color="#090909"/><stop offset=".069" stop-color="#2a2a2a"/><stop offset=".088" stop-color="#363636"/><stop offset=".245" stop-color="#989898"/><stop offset=".284" stop-color="#a5a5a5"/><stop offset=".402" stop-color="#c0c0c0"/><stop offset=".441" stop-color="#c7c7c7"/><stop offset=".461" stop-color="#c7c7c7"/><stop offset=".578" stop-color="#c1c1c1"/><stop offset=".598" stop-color="#bdbdbd"/><stop offset=".637" stop-color="#b0b0b0"/><stop offset=".716" stop-color="#8e8e8e"/><stop offset=".794" stop-color="#5f5f5f"/><stop offset=".912" stop-color="#252525"/><stop offset=".971" stop-color="#040404"/><stop offset=".99" stop-color="#000"/></linearGradient>
<linearGradient id="p18" gradientUnits="userSpaceOnUse" x1="318" x2="376"><stop offset=".009" stop-color="#000"/><stop offset=".026" stop-color="#050505"/><stop offset=".095" stop-color="#3f3f3f"/><stop offset=".164" stop-color="#696969"/><stop offset=".25" stop-color="#a4a4a4"/><stop offset=".284" stop-color="#b2b2b2"/><stop offset=".388" stop-color="#cbcbcb"/><stop offset=".422" stop-color="#d2d2d2"/><stop offset=".44" stop-color="#d2d2d2"/><stop offset=".543" stop-color="#cecece"/><stop offset=".578" stop-color="#c5c5c5"/><stop offset=".629" stop-color="#b2b2b2"/><stop offset=".664" stop-color="#a2a2a2"/><stop offset=".733" stop-color="#7d7d7d"/><stop offset=".853" stop-color="#484848"/><stop offset=".974" stop-color="#060606"/><stop offset=".991" stop-color="#000"/></linearGradient>
<linearGradient id="p19" gradientUnits="userSpaceOnUse" x1="318" x2="381"><stop offset=".008" stop-color="#000"/><stop offset=".024" stop-color="#060606"/><stop offset=".087" stop-color="#404040"/><stop offset=".151" stop-color="#6c6c6c"/><stop offset=".23" stop-color="#a7a7a7"/><stop offset=".262" stop-color="#b5b5b5"/><stop offset=".341" stop-color="#cbcbcb"/><stop offset=".373" stop-color="#d3d3d3"/><stop offset=".405" stop-color="#d7d7d7"/><stop offset=".5" stop-color="#d3d3d3"/><stop offset=".516" stop-color="#d0d0d0"/><stop offset=".579" stop-color="#bababa"/><stop offset=".675" stop-color="#8d8d8d"/><stop offset=".77" stop-color="#666"/><stop offset=".833" stop-color="#4a4a4a"/><stop offset=".976" stop-color="#030303"/><stop offset=".992" stop-color="#000"/></linearGradient>
<linearGradient id="p110" gradientUnits="userSpaceOnUse" x1="320" x2="382"><stop offset=".008" stop-color="#000"/><stop offset=".024" stop-color="#0d0d0d"/><stop offset=".056" stop-color="#2e2e2e"/><stop offset=".202" stop-color="#a2a2a2"/><stop offset=".234" stop-color="#b0b0b0"/><stop offset=".315" stop-color="#c7c7c7"/><stop offset=".347" stop-color="#d0d0d0"/><stop offset=".379" stop-color="#d4d4d4"/><stop offset=".476" stop-color="#d1d1d1"/><stop offset=".524" stop-color="#c3c3c3"/><stop offset=".573" stop-color="#b1b1b1"/><stop offset=".653" stop-color="#8b8b8b"/><stop offset=".782" stop-color="#595959"/><stop offset=".976" stop-color="#040404"/><stop offset=".992" stop-color="#000"/></linearGradient>
<linearGradient id="p111" gradientUnits="userSpaceOnUse" x1="322" x2="377"><stop offset=".009" stop-color="#000"/><stop offset=".027" stop-color="#0b0b0b"/><stop offset=".155" stop-color="#787878"/><stop offset=".191" stop-color="#939393"/><stop offset=".227" stop-color="#a2a2a2"/><stop offset=".318" stop-color="#bdbdbd"/><stop offset=".355" stop-color="#c6c6c6"/><stop offset=".391" stop-color="#cacaca"/><stop offset=".5" stop-color="#c7c7c7"/><stop offset=".518" stop-color="#c4c4c4"/><stop offset=".555" stop-color="#b8b8b8"/><stop offset=".609" stop-color="#a5a5a5"/><stop offset=".7" stop-color="#797979"/><stop offset=".827" stop-color="#494949"/><stop offset=".991" stop-color="#000"/></linearGradient>
<linearGradient id="p112" gradientUnits="userSpaceOnUse" x1="324" x2="371"><stop offset=".011" stop-color="#000"/><stop offset=".032" stop-color="#040404"/><stop offset=".138" stop-color="#5f5f5f"/><stop offset=".181" stop-color="#7b7b7b"/><stop offset=".223" stop-color="#8c8c8c"/><stop offset=".33" stop-color="#ababab"/><stop offset=".372" stop-color="#b6b6b6"/><stop offset=".415" stop-color="#bababa"/><stop offset=".543" stop-color="#b6b6b6"/><stop offset=".585" stop-color="#adadad"/><stop offset=".67" stop-color="#8e8e8e"/><stop offset=".713" stop-color="#7a7a7a"/><stop offset=".777" stop-color="#575757"/><stop offset=".989" stop-color="#000"/></linearGradient>
<linearGradient id="p113" gradientUnits="userSpaceOnUse" x1="326" x2="366"><stop offset=".013" stop-color="#000"/><stop offset=".037" stop-color="#060606"/><stop offset=".113" stop-color="#404040"/><stop offset=".138" stop-color="#505050"/><stop offset=".188" stop-color="#676767"/><stop offset=".263" stop-color="#808080"/><stop offset=".362" stop-color="#9b9b9b"/><stop offset=".412" stop-color="#a4a4a4"/><stop offset=".438" stop-color="#a5a5a5"/><stop offset=".588" stop-color="#a0a0a0"/><stop offset=".637" stop-color="#979797"/><stop offset=".713" stop-color="#7c7c7c"/><stop offset=".762" stop-color="#676767"/><stop offset=".887" stop-color="#242424"/><stop offset=".963" stop-color="#010101"/><stop offset=".988" stop-color="#000"/></linearGradient>
<linearGradient id="p114" gradientUnits="userSpaceOnUse" x1="328" x2="363"><stop offset=".014" stop-color="#000"/><stop offset=".1" stop-color="#323232"/><stop offset=".157" stop-color="#4a4a4a"/><stop offset=".214" stop-color="#5d5d5d"/><stop offset=".3" stop-color="#767676"/><stop offset=".357" stop-color="#848484"/><stop offset=".414" stop-color="#8c8c8c"/><stop offset=".471" stop-color="#8e8e8e"/><stop offset=".586" stop-color="#8a8a8a"/><stop offset=".643" stop-color="#848484"/><stop offset=".671" stop-color="#7e7e7e"/><stop offset=".729" stop-color="#6d6d6d"/><stop offset=".786" stop-color="#595959"/><stop offset=".871" stop-color="#333"/><stop offset=".957" stop-color="#060606"/><stop offset=".986" stop-color="#000"/></linearGradient>
<linearGradient id="p115" gradientUnits="userSpaceOnUse" x1="329" x2="362"><stop offset=".015" stop-color="#000"/><stop offset=".045" stop-color="#0b0b0b"/><stop offset=".136" stop-color="#323232"/><stop offset=".197" stop-color="#474747"/><stop offset=".258" stop-color="#595959"/><stop offset=".318" stop-color="#686868"/><stop offset=".379" stop-color="#737373"/><stop offset=".47" stop-color="#797979"/><stop offset=".591" stop-color="#757575"/><stop offset=".682" stop-color="#686868"/><stop offset=".742" stop-color="#595959"/><stop offset=".803" stop-color="#454545"/><stop offset=".864" stop-color="#2f2f2f"/><stop offset=".955" stop-color="#060606"/><stop offset=".985" stop-color="#000"/></linearGradient>
<linearGradient id="p116" gradientUnits="userSpaceOnUse" x1="330" x2="361"><stop offset=".016" stop-color="#000"/><stop offset=".048" stop-color="#060606"/><stop offset=".145" stop-color="#2a2a2a"/><stop offset=".21" stop-color="#3d3d3d"/><stop offset=".274" stop-color="#4d4d4d"/><stop offset=".371" stop-color="#5e5e5e"/><stop offset=".435" stop-color="#636363"/><stop offset=".5" stop-color="#656565"/><stop offset=".565" stop-color="#636363"/><stop offset=".629" stop-color="#5d5d5d"/><stop offset=".726" stop-color="#4d4d4d"/><stop offset=".79" stop-color="#3d3d3d"/><stop offset=".855" stop-color="#292929"/><stop offset=".952" stop-color="#050505"/><stop offset=".984" stop-color="#000"/></linearGradient>
<linearGradient id="p117" gradientUnits="userSpaceOnUse" x1="332" x2="359"><stop offset=".019" stop-color="#000"/><stop offset=".167" stop-color="#272727"/><stop offset=".278" stop-color="#3c3c3c"/><stop offset=".389" stop-color="#4a4a4a"/><stop offset=".5" stop-color="#4e4e4e"/><stop offset=".611" stop-color="#494949"/><stop offset=".722" stop-color="#3c3c3c"/><stop offset=".833" stop-color="#272727"/><stop offset=".981" stop-color="#000"/></linearGradient>
<linearGradient id="p118" gradientUnits="userSpaceOnUse" x1="334" x2="357"><stop offset=".022" stop-color="#000"/><stop offset=".065" stop-color="#010101"/><stop offset=".196" stop-color="#191919"/><stop offset=".283" stop-color="#252525"/><stop offset=".37" stop-color="#2d2d2d"/><stop offset=".5" stop-color="#313131"/><stop offset=".63" stop-color="#2c2c2c"/><stop offset=".717" stop-color="#252525"/><stop offset=".804" stop-color="#191919"/><stop offset=".935" stop-color="#010101"/><stop offset=".978" stop-color="#000"/></linearGradient>
<linearGradient id="p119" gradientUnits="userSpaceOnUse" x1="339" x2="352"><stop offset=".038" stop-color="#000"/><stop offset=".346" stop-color="#0c0c0c"/><stop offset=".5" stop-color="#0d0d0d"/><stop offset=".654" stop-color="#0c0c0c"/><stop offset=".962" stop-color="#000"/></linearGradient>
<linearGradient id="p20" gradientUnits="userSpaceOnUse" x1="539" x2="552"><stop offset=".038" stop-color="#000"/><stop offset=".269" stop-color="#0b0b0b"/><stop offset=".5" stop-color="#0f0f0f"/><stop offset=".731" stop-color="#0b0b0b"/><stop offset=".962" stop-color="#000"/></linearGradient>
<linearGradient id="p21" gradientUnits="userSpaceOnUse" x1="534" x2="557"><stop offset=".022" stop-color="#000"/><stop offset=".152" stop-color="#191919"/><stop offset=".283" stop-color="#2b2b2b"/><stop offset=".413" stop-color="#343434"/><stop offset=".5" stop-color="#363636"/><stop offset=".587" stop-color="#343434"/><stop offset=".717" stop-color="#2b2b2b"/><stop offset=".848" stop-color="#191919"/><stop offset=".978" stop-color="#000"/></linearGradient>
<linearGradient id="p22" gradientUnits="userSpaceOnUse" x1="531" x2="560"><stop offset=".017" stop-color="#000"/><stop offset=".052" stop-color="#050505"/><stop offset=".121" stop-color="#1a1a1a"/><stop offset=".19" stop-color="#2c2c2c"/><stop offset=".293" stop-color="#414141"/><stop offset=".397" stop-color="#4d4d4d"/><stop offset=".5" stop-color="#515151"/><stop offset=".603" stop-color="#4d4d4d"/><stop offset=".707" stop-color="#414141"/><stop offset=".81" stop-color="#2c2c2c"/><stop offset=".879" stop-color="#1a1a1a"/><stop offset=".948" stop-color="#050505"/><stop offset=".983" stop-color="#000"/></linearGradient>
<linearGradient id="p23" gradientUnits="userSpaceOnUse" x1="530" x2="561"><stop offset=".016" stop-color="#010101"/><stop offset=".145" stop-color="#2a2a2a"/><stop offset=".21" stop-color="#3c3c3c"/><stop offset=".274" stop-color="#4a4a4a"/><stop offset=".339" stop-color="#555"/><stop offset=".403" stop-color="#5c5c5c"/><stop offset=".5" stop-color="#606060"/><stop offset=".565" stop-color="#5e5e5e"/><stop offset=".629" stop-color="#595959"/><stop offset=".726" stop-color="#4a4a4a"/><stop offset=".823" stop-color="#333"/><stop offset=".887" stop-color="#1f1f1f"/><stop offset=".952" stop-color="#070707"/><stop offset=".984" stop-color="#000"/></linearGradient>
<linearGradient id="p24" gradientUnits="userSpaceOnUse" x1="511" x2="561"><stop offset=".01" stop-color="#000"/><stop offset=".15" stop-color="#272727"/><stop offset=".17" stop-color="#2a2a2a"/><stop offset=".29" stop-color="#1d1d1d"/><stop offset=".33" stop-color="#1c1c1c"/><stop offset=".37" stop-color="#202020"/><stop offset=".41" stop-color="#282828"/><stop offset=".51" stop-color="#474747"/><stop offset=".57" stop-color="#565656"/><stop offset=".63" stop-color="#616161"/><stop offset=".69" stop-color="#636363"/><stop offset=".73" stop-color="#616161"/><stop offset=".77" stop-color="#5c5c5c"/><stop offset=".83" stop-color="#4d4d4d"/><stop offset=".87" stop-color="#3e3e3e"/><stop offset=".91" stop-color="#2c2c2c"/><stop offset=".99" stop-color="#000"/></linearGradient>
<linearGradient id="p25" gradientUnits="userSpaceOnUse" x1="495" x2="561"><stop offset=".008" stop-color="#000"/><stop offset=".22" stop-color="#323232"/><stop offset=".341" stop-color="#686868"/><stop offset=".371" stop-color="#717171"/><stop offset=".508" stop-color="#626262"/><stop offset=".553" stop-color="#5f5f5f"/><stop offset=".614" stop-color="#616161"/><stop offset=".72" stop-color="#6a6a6a"/><stop offset=".75" stop-color="#696969"/><stop offset=".795" stop-color="#636363"/><stop offset=".841" stop-color="#575757"/><stop offset=".886" stop-color="#454545"/><stop offset=".932" stop-color="#2c2c2c"/><stop offset=".992" stop-color="#000"/></linearGradient>
<linearGradient id="p26" gradientUnits="userSpaceOnUse" x1="495" x2="565"><stop offset=".007" stop-color="#000"/><stop offset=".021" stop-color="#050505"/><stop offset=".064" stop-color="#1d1d1d"/><stop offset=".107" stop-color="#313131"/><stop offset=".207" stop-color="#585858"/><stop offset=".336" stop-color="#9a9a9a"/><stop offset=".35" stop-color="#9e9e9e"/><stop offset=".364" stop-color="#9f9f9f"/><stop offset=".679" stop-color="#8c8c8c"/><stop offset=".707" stop-color="#878787"/><stop offset=".779" stop-color="#717171"/><stop offset=".836" stop-color="#595959"/><stop offset=".907" stop-color="#323232"/><stop offset=".979" stop-color="#010101"/><stop offset=".993" stop-color="#000"/></linearGradient>
<linearGradient id="p27" gradientUnits="userSpaceOnUse" x1="500" x2="573"><stop offset=".007" stop-color="#000"/><stop offset=".13" stop-color="#535353"/><stop offset=".212" stop-color="#8e8e8e"/><stop offset=".253" stop-color="#a8a8a8"/><stop offset=".267" stop-color="#aeaeae"/><stop offset=".336" stop-color="#b5b5b5"/><stop offset=".445" stop-color="#b8b8b8"/><stop offset=".555" stop-color="#b6b6b6"/><stop offset=".596" stop-color="#b3b3b3"/><stop offset=".705" stop-color="#949494"/><stop offset=".774" stop-color="#7a7a7a"/><stop offset=".856" stop-color="#545454"/><stop offset=".911" stop-color="#363636"/><stop offset=".993" stop-color="#000"/></linearGradient>
<linearGradient id="p28" gradientUnits="userSpaceOnUse" x1="505" x2="582"><stop offset=".006" stop-color="#000"/><stop offset=".019" stop-color="#030303"/><stop offset=".045" stop-color="#171717"/><stop offset=".097" stop-color="#505050"/><stop offset=".136" stop-color="#787878"/><stop offset=".175" stop-color="#9a9a9a"/><stop offset=".188" stop-color="#a2a2a2"/><stop offset=".24" stop-color="#b0b0b0"/><stop offset=".331" stop-color="#bfbfbf"/><stop offset=".409" stop-color="#c7c7c7"/><stop offset=".487" stop-color="#ccc"/><stop offset=".552" stop-color="#c4c4c4"/><stop offset=".643" stop-color="#b1b1b1"/><stop offset=".708" stop-color="#a0a0a0"/><stop offset=".786" stop-color="#848484"/><stop offset=".812" stop-color="#777"/><stop offset=".851" stop-color="#5e5e5e"/><stop offset=".916" stop-color="#2e2e2e"/><stop offset=".981" stop-color="#010101"/><stop offset=".994" stop-color="#000"/></linearGradient>
<linearGradient id="p29" gradientUnits="userSpaceOnUse" x1="510" x2="590"><stop offset=".006" stop-color="#000"/><stop offset=".019" stop-color="#020202"/><stop offset=".044" stop-color="#202020"/><stop offset=".094" stop-color="#626262"/><stop offset=".106" stop-color="#707070"/><stop offset=".119" stop-color="#7a7a7a"/><stop offset=".131" stop-color="#818181"/><stop offset=".194" stop-color="#999"/><stop offset=".269" stop-color="#b1b1b1"/><stop offset=".356" stop-color="#c5c5c5"/><stop offset=".419" stop-color="#cecece"/><stop offset=".494" stop-color="#ccc"/><stop offset=".569" stop-color="#c5c5c5"/><stop offset=".644" stop-color="#bababa"/><stop offset=".706" stop-color="#adadad"/><stop offset=".769" stop-color="#919191"/><stop offset=".831" stop-color="#6e6e6e"/><stop offset=".881" stop-color="#4d4d4d"/><stop offset=".981" stop-color="#040404"/><stop offset=".994" stop-color="#000"/></linearGradient>
<linearGradient id="p210" gradientUnits="userSpaceOnUse" x1="515" x2="597"><stop offset=".006" stop-color="#000"/><stop offset=".043" stop-color="#2b2b2b"/><stop offset=".055" stop-color="#373737"/><stop offset=".079" stop-color="#484848"/><stop offset=".165" stop-color="#777"/><stop offset=".262" stop-color="#a1a1a1"/><stop offset=".323" stop-color="#b5b5b5"/><stop offset=".348" stop-color="#bbb"/><stop offset=".433" stop-color="#c1c1c1"/><stop offset=".53" stop-color="#c4c4c4"/><stop offset=".628" stop-color="#bfbfbf"/><stop offset=".701" stop-color="#aaa"/><stop offset=".774" stop-color="#8f8f8f"/><stop offset=".823" stop-color="#797979"/><stop offset=".872" stop-color="#5e5e5e"/><stop offset=".896" stop-color="#4c4c4c"/><stop offset=".933" stop-color="#2a2a2a"/><stop offset=".982" stop-color="#020202"/><stop offset=".994" stop-color="#000"/></linearGradient>
<linearGradient id="p211" gradientUnits="userSpaceOnUse" x1="521" x2="603"><stop offset=".006" stop-color="#000"/><stop offset=".018" stop-color="#050505"/><stop offset=".079" stop-color="#333"/><stop offset=".128" stop-color="#515151"/><stop offset=".189" stop-color="#717171"/><stop offset=".262" stop-color="#8f8f8f"/><stop offset=".409" stop-color="#a6a6a6"/><stop offset=".543" stop-color="#b4b4b4"/><stop offset=".591" stop-color="#b0b0b0"/><stop offset=".689" stop-color="#9f9f9f"/><stop offset=".75" stop-color="#919191"/><stop offset=".811" stop-color="#7e7e7e"/><stop offset=".848" stop-color="#6a6a6a"/><stop offset=".884" stop-color="#535353"/><stop offset=".994" stop-color="#000"/></linearGradient>
<linearGradient id="p212" gradientUnits="userSpaceOnUse" x1="525" x2="608"><stop offset=".006" stop-color="#000"/><stop offset=".018" stop-color="#040404"/><stop offset=".054" stop-color="#202020"/><stop offset=".102" stop-color="#3c3c3c"/><stop offset=".139" stop-color="#4c4c4c"/><stop offset=".199" stop-color="#606060"/><stop offset=".223" stop-color="#656565"/><stop offset=".343" stop-color="#707070"/><stop offset=".5" stop-color="#8d8d8d"/><stop offset=".669" stop-color="#848484"/><stop offset=".741" stop-color="#7d7d7d"/><stop offset=".765" stop-color="#777"/><stop offset=".837" stop-color="#5e5e5e"/><stop offset=".898" stop-color="#434343"/><stop offset=".922" stop-color="#343434"/><stop offset=".982" stop-color="#020202"/><stop offset=".994" stop-color="#000"/></linearGradient>
<linearGradient id="p213" gradientUnits="userSpaceOnUse" x1="525" x2="608"><stop offset=".006" stop-color="#000"/><stop offset=".054" stop-color="#272727"/><stop offset=".102" stop-color="#424242"/><stop offset=".151" stop-color="#525252"/><stop offset=".199" stop-color="#575757"/><stop offset=".247" stop-color="#515151"/><stop offset=".331" stop-color="#3a3a3a"/><stop offset=".38" stop-color="#353535"/><stop offset=".428" stop-color="#393939"/><stop offset=".5" stop-color="#4a4a4a"/><stop offset=".753" stop-color="#4c4c4c"/><stop offset=".898" stop-color="#2e2e2e"/><stop offset=".922" stop-color="#242424"/><stop offset=".97" stop-color="#0a0a0a"/><stop offset=".994" stop-color="#000"/></linearGradient>
<linearGradient id="p214" gradientUnits="userSpaceOnUse" x1="523" x2="590"><stop offset=".007" stop-color="#000"/><stop offset=".022" stop-color="#010101"/><stop offset=".082" stop-color="#2c2c2c"/><stop offset=".142" stop-color="#4a4a4a"/><stop offset=".201" stop-color="#5b5b5b"/><stop offset=".261" stop-color="#606060"/><stop offset=".306" stop-color="#5b5b5b"/><stop offset=".366" stop-color="#4b4b4b"/><stop offset=".41" stop-color="#373737"/><stop offset=".515" stop-color="#000"/><stop offset=".858" stop-color="#000"/><stop offset=".963" stop-color="#020202"/><stop offset=".993" stop-color="#000"/></linearGradient>
<linearGradient id="p215" gradientUnits="userSpaceOnUse" x1="523" x2="557"><stop offset=".015" stop-color="#000"/><stop offset=".044" stop-color="#040404"/><stop offset=".162" stop-color="#2e2e2e"/><stop offset=".279" stop-color="#4c4c4c"/><stop offset=".397" stop-color="#5d5d5d"/><stop offset=".515" stop-color="#626262"/><stop offset=".603" stop-color="#5d5d5d"/><stop offset=".721" stop-color="#4c4c4c"/><stop offset=".809" stop-color="#373737"/><stop offset=".868" stop-color="#252525"/><stop offset=".956" stop-color="#040404"/><stop offset=".985" stop-color="#000"/></linearGradient>
<linearGradient id="p216" gradientUnits="userSpaceOnUse" x1="524" x2="556"><stop offset=".016" stop-color="#000"/><stop offset=".047" stop-color="#060606"/><stop offset=".172" stop-color="#2d2d2d"/><stop offset=".266" stop-color="#424242"/><stop offset=".391" stop-color="#545454"/><stop offset=".516" stop-color="#585858"/><stop offset=".609" stop-color="#545454"/><stop offset=".734" stop-color="#424242"/><stop offset=".828" stop-color="#2d2d2d"/><stop offset=".953" stop-color="#060606"/><stop offset=".984" stop-color="#000"/></linearGradient>
<linearGradient id="p217" gradientUnits="userSpaceOnUse" x1="526" x2="554"><stop offset=".018" stop-color="#000"/><stop offset=".054" stop-color="#050505"/><stop offset=".161" stop-color="#1f1f1f"/><stop offset=".268" stop-color="#323232"/><stop offset=".375" stop-color="#3e3e3e"/><stop offset=".518" stop-color="#424242"/><stop offset=".625" stop-color="#3e3e3e"/><stop offset=".732" stop-color="#323232"/><stop offset=".839" stop-color="#1f1f1f"/><stop offset=".946" stop-color="#050505"/><stop offset=".982" stop-color="#000"/></linearGradient>
<linearGradient id="p218" gradientUnits="userSpaceOnUse" x1="530" x2="550"><stop offset=".025" stop-color="#000"/><stop offset=".275" stop-color="#181818"/><stop offset=".375" stop-color="#1e1e1e"/><stop offset=".525" stop-color="#202020"/><stop offset=".725" stop-color="#181818"/><stop offset=".975" stop-color="#000"/></linearGradient>
<linearGradient id="p30" gradientUnits="userSpaceOnUse" x1="295" x2="305"><stop offset=".05" stop-color="#000"/><stop offset=".15" stop-color="#010101"/><stop offset=".25" stop-color="#0d0d0d"/><stop offset=".35" stop-color="#141414"/><stop offset=".45" stop-color="#181818"/><stop offset=".65" stop-color="#131313"/><stop offset=".95" stop-color="#000"/></linearGradient>
<linearGradient id="p31" gradientUnits="userSpaceOnUse" x1="294" x2="311"><stop offset=".029" stop-color="#000"/><stop offset=".147" stop-color="#282828"/><stop offset=".206" stop-color="#363636"/><stop offset=".265" stop-color="#404040"/><stop offset=".324" stop-color="#454545"/><stop offset=".382" stop-color="#464646"/><stop offset=".5" stop-color="#414141"/><stop offset=".676" stop-color="#303030"/><stop offset=".971" stop-color="#000"/></linearGradient>
<linearGradient id="p32" gradientUnits="userSpaceOnUse" x1="293" x2="316"><stop offset=".022" stop-color="#000"/><stop offset=".065" stop-color="#131313"/><stop offset=".109" stop-color="#2b2b2b"/><stop offset=".152" stop-color="#404040"/><stop offset=".196" stop-color="#505050"/><stop offset=".239" stop-color="#5c5c5c"/><stop offset=".283" stop-color="#636363"/><stop offset=".37" stop-color="#666"/><stop offset=".5" stop-color="#616161"/><stop offset=".63" stop-color="#525252"/><stop offset=".761" stop-color="#383838"/><stop offset=".935" stop-color="#060606"/><stop offset=".978" stop-color="#000"/></linearGradient>
<linearGradient id="p33" gradientUnits="userSpaceOnUse" x1="293" x2="321"><stop offset=".018" stop-color="#000"/><stop offset=".054" stop-color="#161616"/><stop offset=".089" stop-color="#303030"/><stop offset=".125" stop-color="#464646"/><stop offset=".161" stop-color="#585858"/><stop offset=".196" stop-color="#666"/><stop offset=".232" stop-color="#6f6f6f"/><stop offset=".268" stop-color="#747474"/><stop offset=".339" stop-color="#797979"/><stop offset=".411" stop-color="#7b7b7b"/><stop offset=".482" stop-color="#797979"/><stop offset=".554" stop-color="#727272"/><stop offset=".661" stop-color="#5f5f5f"/><stop offset=".768" stop-color="#414141"/><stop offset=".946" stop-color="#010101"/><stop offset=".982" stop-color="#000"/></linearGradient>
<linearGradient id="p34" gradientUnits="userSpaceOnUse" x1="293" x2="350"><stop offset=".009" stop-color="#000"/><stop offset=".026" stop-color="#070707"/><stop offset=".044" stop-color="#232323"/><stop offset=".061" stop-color="#3c3c3c"/><stop offset=".079" stop-color="#505050"/><stop offset=".096" stop-color="#5f5f5f"/><stop offset=".114" stop-color="#6b6b6b"/><stop offset=".132" stop-color="#727272"/><stop offset=".184" stop-color="#818181"/><stop offset=".219" stop-color="#888"/><stop offset=".254" stop-color="#8b8b8b"/><stop offset=".289" stop-color="#8a8a8a"/><stop offset=".325" stop-color="#848484"/><stop offset=".377" stop-color="#727272"/><stop offset=".412" stop-color="#606060"/><stop offset=".447" stop-color="#4b4b4b"/><stop offset=".553" stop-color="#040404"/><stop offset=".57" stop-color="#000"/><stop offset=".658" stop-color="#020202"/><stop offset=".675" stop-color="#0f0f0f"/><stop offset=".693" stop-color="#141414"/><stop offset=".763" stop-color="#1e1e1e"/><stop offset=".833" stop-color="#252525"/><stop offset=".851" stop-color="#232323"/><stop offset=".991" stop-color="#000"/></linearGradient>
<linearGradient id="p35" gradientUnits="userSpaceOnUse" x1="294" x2="353"><stop offset=".008" stop-color="#000"/><stop offset=".025" stop-color="#060606"/><stop offset=".042" stop-color="#202020"/><stop offset=".059" stop-color="#363636"/><stop offset=".076" stop-color="#484848"/><stop offset=".093" stop-color="#555"/><stop offset=".11" stop-color="#5f5f5f"/><stop offset=".161" stop-color="#777"/><stop offset=".212" stop-color="#8b8b8b"/><stop offset=".263" stop-color="#979797"/><stop offset=".297" stop-color="#999"/><stop offset=".347" stop-color="#939393"/><stop offset=".381" stop-color="#8a8a8a"/><stop offset=".415" stop-color="#7d7d7d"/><stop offset=".483" stop-color="#5a5a5a"/><stop offset=".517" stop-color="#444"/><stop offset=".568" stop-color="#1d1d1d"/><stop offset=".585" stop-color="#151515"/><stop offset=".602" stop-color="#222"/><stop offset=".619" stop-color="#404040"/><stop offset=".636" stop-color="#4d4d4d"/><stop offset=".686" stop-color="#525252"/><stop offset=".771" stop-color="#525252"/><stop offset=".805" stop-color="#4d4d4d"/><stop offset=".924" stop-color="#242424"/><stop offset=".975" stop-color="#0f0f0f"/><stop offset=".992" stop-color="#000"/></linearGradient>
<linearGradient id="p36" gradientUnits="userSpaceOnUse" x1="296" x2="351"><stop offset=".009" stop-color="#000"/><stop offset=".027" stop-color="#0d0d0d"/><stop offset=".045" stop-color="#202020"/><stop offset=".064" stop-color="#2f2f2f"/><stop offset=".136" stop-color="#5d5d5d"/><stop offset=".191" stop-color="#7c7c7c"/><stop offset=".227" stop-color="#8d8d8d"/><stop offset=".264" stop-color="#9a9a9a"/><stop offset=".3" stop-color="#a3a3a3"/><stop offset=".336" stop-color="#a6a6a6"/><stop offset=".391" stop-color="#a3a3a3"/><stop offset=".464" stop-color="#929292"/><stop offset=".5" stop-color="#848484"/><stop offset=".591" stop-color="#535353"/><stop offset=".609" stop-color="#555"/><stop offset=".627" stop-color="#646464"/><stop offset=".645" stop-color="#6a6a6a"/><stop offset=".682" stop-color="#656565"/><stop offset=".809" stop-color="#4a4a4a"/><stop offset=".845" stop-color="#3d3d3d"/><stop offset=".936" stop-color="#111"/><stop offset=".973" stop-color="#030303"/><stop offset=".991" stop-color="#000"/></linearGradient>
<linearGradient id="p37" gradientUnits="userSpaceOnUse" x1="299" x2="346"><stop offset=".011" stop-color="#000"/><stop offset=".032" stop-color="#080808"/><stop offset=".16" stop-color="#5e5e5e"/><stop offset=".202" stop-color="#787878"/><stop offset=".245" stop-color="#8d8d8d"/><stop offset=".287" stop-color="#9e9e9e"/><stop offset=".33" stop-color="#aaa"/><stop offset=".372" stop-color="#b1b1b1"/><stop offset=".415" stop-color="#b4b4b4"/><stop offset=".457" stop-color="#b3b3b3"/><stop offset=".5" stop-color="#aeaeae"/><stop offset=".543" stop-color="#a3a3a3"/><stop offset=".628" stop-color="#848484"/><stop offset=".649" stop-color="#7f7f7f"/><stop offset=".691" stop-color="#787878"/><stop offset=".883" stop-color="#323232"/><stop offset=".926" stop-color="#1f1f1f"/><stop offset=".968" stop-color="#080808"/><stop offset=".989" stop-color="#000"/></linearGradient>
<linearGradient id="p38" gradientUnits="userSpaceOnUse" x1="303" x2="348"><stop offset=".011" stop-color="#000"/><stop offset=".033" stop-color="#0d0d0d"/><stop offset=".1" stop-color="#424242"/><stop offset=".144" stop-color="#626262"/><stop offset=".189" stop-color="#7f7f7f"/><stop offset=".233" stop-color="#969696"/><stop offset=".278" stop-color="#a8a8a8"/><stop offset=".322" stop-color="#b5b5b5"/><stop offset=".389" stop-color="#c0c0c0"/><stop offset=".433" stop-color="#c2c2c2"/><stop offset=".478" stop-color="#bdbdbd"/><stop offset=".522" stop-color="#b5b5b5"/><stop offset=".611" stop-color="#9e9e9e"/><stop offset=".656" stop-color="#909090"/><stop offset=".722" stop-color="#787878"/><stop offset=".833" stop-color="#4b4b4b"/><stop offset=".989" stop-color="#000"/></linearGradient>
<linearGradient id="p39" gradientUnits="userSpaceOnUse" x1="306" x2="354"><stop offset=".01" stop-color="#000"/><stop offset=".031" stop-color="#0b0b0b"/><stop offset=".094" stop-color="#464646"/><stop offset=".135" stop-color="#696969"/><stop offset=".198" stop-color="#939393"/><stop offset=".24" stop-color="#a8a8a8"/><stop offset=".281" stop-color="#b8b8b8"/><stop offset=".323" stop-color="#c4c4c4"/><stop offset=".365" stop-color="#c9c9c9"/><stop offset=".427" stop-color="#c6c6c6"/><stop offset=".49" stop-color="#bebebe"/><stop offset=".552" stop-color="#b1b1b1"/><stop offset=".635" stop-color="#999"/><stop offset=".719" stop-color="#7b7b7b"/><stop offset=".802" stop-color="#595959"/><stop offset=".844" stop-color="#464646"/><stop offset=".948" stop-color="#0e0e0e"/><stop offset=".969" stop-color="#050505"/><stop offset=".99" stop-color="#000"/></linearGradient>
<linearGradient id="p310" gradientUnits="userSpaceOnUse" x1="309" x2="360"><stop offset=".01" stop-color="#000"/><stop offset=".029" stop-color="#0e0e0e"/><stop offset=".088" stop-color="#4c4c4c"/><stop offset=".127" stop-color="#6f6f6f"/><stop offset=".167" stop-color="#8d8d8d"/><stop offset=".206" stop-color="#a5a5a5"/><stop offset=".245" stop-color="#b7b7b7"/><stop offset=".284" stop-color="#c2c2c2"/><stop offset=".324" stop-color="#c8c8c8"/><stop offset=".382" stop-color="#cbcbcb"/><stop offset=".441" stop-color="#c8c8c8"/><stop offset=".52" stop-color="#bdbdbd"/><stop offset=".598" stop-color="#aaa"/><stop offset=".676" stop-color="#929292"/><stop offset=".716" stop-color="#848484"/><stop offset=".775" stop-color="#6b6b6b"/><stop offset=".853" stop-color="#454545"/><stop offset=".951" stop-color="#111"/><stop offset=".99" stop-color="#000"/></linearGradient>
<linearGradient id="p311" gradientUnits="userSpaceOnUse" x1="312" x2="368"><stop offset=".009" stop-color="#000"/><stop offset=".027" stop-color="#121212"/><stop offset=".062" stop-color="#3d3d3d"/><stop offset=".098" stop-color="#636363"/><stop offset=".134" stop-color="#838383"/><stop offset=".17" stop-color="#9c9c9c"/><stop offset=".223" stop-color="#b4b4b4"/><stop offset=".277" stop-color="#c3c3c3"/><stop offset=".33" stop-color="#cbcbcb"/><stop offset=".384" stop-color="#cdcdcd"/><stop offset=".438" stop-color="#cacaca"/><stop offset=".491" stop-color="#c3c3c3"/><stop offset=".562" stop-color="#b5b5b5"/><stop offset=".616" stop-color="#a5a5a5"/><stop offset=".688" stop-color="#8b8b8b"/><stop offset=".759" stop-color="#6b6b6b"/><stop offset=".938" stop-color="#101010"/><stop offset=".973" stop-color="#010101"/><stop offset=".991" stop-color="#000"/></linearGradient>
<linearGradient id="p312" gradientUnits="userSpaceOnUse" x1="314" x2="374"><stop offset=".008" stop-color="#000"/><stop offset=".025" stop-color="#020202"/><stop offset=".092" stop-color="#535353"/><stop offset=".125" stop-color="#737373"/><stop offset=".158" stop-color="#8a8a8a"/><stop offset=".192" stop-color="#9d9d9d"/><stop offset=".242" stop-color="#b3b3b3"/><stop offset=".292" stop-color="#c2c2c2"/><stop offset=".342" stop-color="#ccc"/><stop offset=".408" stop-color="#d0d0d0"/><stop offset=".475" stop-color="#ccc"/><stop offset=".525" stop-color="#c5c5c5"/><stop offset=".592" stop-color="#b5b5b5"/><stop offset=".658" stop-color="#9f9f9f"/><stop offset=".742" stop-color="#7f7f7f"/><stop offset=".842" stop-color="#515151"/><stop offset=".892" stop-color="#393939"/><stop offset=".958" stop-color="#111"/><stop offset=".992" stop-color="#000"/></linearGradient>
<linearGradient id="p313" gradientUnits="userSpaceOnUse" x1="317" x2="382"><stop offset=".008" stop-color="#000"/><stop offset=".023" stop-color="#020202"/><stop offset=".069" stop-color="#3b3b3b"/><stop offset=".115" stop-color="#666"/><stop offset=".162" stop-color="#888"/><stop offset=".208" stop-color="#a3a3a3"/><stop offset=".254" stop-color="#b7b7b7"/><stop offset=".3" stop-color="#c5c5c5"/><stop offset=".346" stop-color="#cecece"/><stop offset=".408" stop-color="#d2d2d2"/><stop offset=".469" stop-color="#cfcfcf"/><stop offset=".531" stop-color="#c5c5c5"/><stop offset=".608" stop-color="#b1b1b1"/><stop offset=".685" stop-color="#989898"/><stop offset=".777" stop-color="#737373"/><stop offset=".854" stop-color="#494949"/><stop offset=".946" stop-color="#111"/><stop offset=".977" stop-color="#020202"/><stop offset=".992" stop-color="#000"/></linearGradient>
<linearGradient id="p314" gradientUnits="userSpaceOnUse" x1="321" x2="390"><stop offset=".007" stop-color="#000"/><stop offset=".022" stop-color="#0a0a0a"/><stop offset=".065" stop-color="#393939"/><stop offset=".109" stop-color="#636363"/><stop offset=".152" stop-color="#858585"/><stop offset=".196" stop-color="#a0a0a0"/><stop offset=".239" stop-color="#b4b4b4"/><stop offset=".297" stop-color="#c7c7c7"/><stop offset=".341" stop-color="#cfcfcf"/><stop offset=".399" stop-color="#d2d2d2"/><stop offset=".457" stop-color="#d0d0d0"/><stop offset=".529" stop-color="#c5c5c5"/><stop offset=".601" stop-color="#b5b5b5"/><stop offset=".674" stop-color="#9f9f9f"/><stop offset=".775" stop-color="#727272"/><stop offset=".935" stop-color="#1a1a1a"/><stop offset=".993" stop-color="#000"/></linearGradient>
<linearGradient id="p315" gradientUnits="userSpaceOnUse" x1="325" x2="399"><stop offset=".007" stop-color="#000"/><stop offset=".02" stop-color="#080808"/><stop offset=".074" stop-color="#444"/><stop offset=".115" stop-color="#6a6a6a"/><stop offset=".155" stop-color="#898989"/><stop offset=".196" stop-color="#a2a2a2"/><stop offset=".25" stop-color="#bababa"/><stop offset=".291" stop-color="#c5c5c5"/><stop offset=".345" stop-color="#cecece"/><stop offset=".412" stop-color="#d1d1d1"/><stop offset=".466" stop-color="#cfcfcf"/><stop offset=".534" stop-color="#c5c5c5"/><stop offset=".574" stop-color="#bdbdbd"/><stop offset=".642" stop-color="#a8a8a8"/><stop offset=".723" stop-color="#878787"/><stop offset=".858" stop-color="#494949"/><stop offset=".953" stop-color="#101010"/><stop offset=".98" stop-color="#020202"/><stop offset=".993" stop-color="#000"/></linearGradient>
<linearGradient id="p316" gradientUnits="userSpaceOnUse" x1="329" x2="408"><stop offset=".006" stop-color="#000"/><stop offset=".019" stop-color="#040404"/><stop offset=".07" stop-color="#3d3d3d"/><stop offset=".12" stop-color="#6d6d6d"/><stop offset=".158" stop-color="#8a8a8a"/><stop offset=".196" stop-color="#a1a1a1"/><stop offset=".247" stop-color="#b5b5b5"/><stop offset=".31" stop-color="#c6c6c6"/><stop offset=".361" stop-color="#cecece"/><stop offset=".424" stop-color="#d1d1d1"/><stop offset=".487" stop-color="#cdcdcd"/><stop offset=".563" stop-color="#bebebe"/><stop offset=".639" stop-color="#a8a8a8"/><stop offset=".741" stop-color="#848484"/><stop offset=".791" stop-color="#6c6c6c"/><stop offset=".943" stop-color="#151515"/><stop offset=".981" stop-color="#030303"/><stop offset=".994" stop-color="#000"/></linearGradient>
<linearGradient id="p317" gradientUnits="userSpaceOnUse" x1="334" x2="417"><stop offset=".006" stop-color="#000"/><stop offset=".018" stop-color="#0b0b0b"/><stop offset=".066" stop-color="#424242"/><stop offset=".102" stop-color="#646464"/><stop offset=".127" stop-color="#777"/><stop offset=".175" stop-color="#939393"/><stop offset=".223" stop-color="#a9a9a9"/><stop offset=".283" stop-color="#bdbdbd"/><stop offset=".343" stop-color="#c9c9c9"/><stop offset=".404" stop-color="#cecece"/><stop offset=".464" stop-color="#cbcbcb"/><stop offset=".524" stop-color="#c3c3c3"/><stop offset=".596" stop-color="#b4b4b4"/><stop offset=".669" stop-color="#a1a1a1"/><stop offset=".765" stop-color="#757575"/><stop offset=".91" stop-color="#2e2e2e"/><stop offset=".934" stop-color="#212121"/><stop offset=".982" stop-color="#020202"/><stop offset=".994" stop-color="#000"/></linearGradient>
<linearGradient id="p318" gradientUnits="userSpaceOnUse" x1="337" x2="424"><stop offset=".006" stop-color="#000"/><stop offset=".017" stop-color="#090909"/><stop offset=".063" stop-color="#383838"/><stop offset=".086" stop-color="#4c4c4c"/><stop offset=".155" stop-color="#777"/><stop offset=".224" stop-color="#9b9b9b"/><stop offset=".282" stop-color="#b0b0b0"/><stop offset=".339" stop-color="#c0c0c0"/><stop offset=".385" stop-color="#c5c5c5"/><stop offset=".443" stop-color="#c7c7c7"/><stop offset=".511" stop-color="#c3c3c3"/><stop offset=".58" stop-color="#bbb"/><stop offset=".603" stop-color="#b6b6b6"/><stop offset=".661" stop-color="#a3a3a3"/><stop offset=".856" stop-color="#565656"/><stop offset=".914" stop-color="#333"/><stop offset=".971" stop-color="#0d0d0d"/><stop offset=".994" stop-color="#000"/></linearGradient>
<linearGradient id="p319" gradientUnits="userSpaceOnUse" x1="334" x2="433"><stop offset=".005" stop-color="#000"/><stop offset=".015" stop-color="#010101"/><stop offset=".096" stop-color="#3c3c3c"/><stop offset=".157" stop-color="#545454"/><stop offset=".237" stop-color="#7f7f7f"/><stop offset=".268" stop-color="#878787"/><stop offset=".328" stop-color="#a3a3a3"/><stop offset=".369" stop-color="#aeaeae"/><stop offset=".419" stop-color="#b8b8b8"/><stop offset=".46" stop-color="#bcbcbc"/><stop offset=".51" stop-color="#bebebe"/><stop offset=".551" stop-color="#bdbdbd"/><stop offset=".581" stop-color="#b6b6b6"/><stop offset=".662" stop-color="#9e9e9e"/><stop offset=".773" stop-color="#787878"/><stop offset=".843" stop-color="#545454"/><stop offset=".975" stop-color="#060606"/><stop offset=".985" stop-color="#010101"/><stop offset=".995" stop-color="#000"/></linearGradient>
<linearGradient id="p320" gradientUnits="userSpaceOnUse" x1="330" x2="437"><stop offset=".005" stop-color="#000"/><stop offset=".014" stop-color="#0f0f0f"/><stop offset=".023" stop-color="#191919"/><stop offset=".117" stop-color="#4e4e4e"/><stop offset=".136" stop-color="#565656"/><stop offset=".192" stop-color="#606060"/><stop offset=".257" stop-color="#717171"/><stop offset=".266" stop-color="#6f6f6f"/><stop offset=".285" stop-color="#5a5a5a"/><stop offset=".294" stop-color="#5a5a5a"/><stop offset=".341" stop-color="#787878"/><stop offset=".416" stop-color="#969696"/><stop offset=".481" stop-color="#a7a7a7"/><stop offset=".547" stop-color="#afafaf"/><stop offset=".64" stop-color="#9d9d9d"/><stop offset=".762" stop-color="#7b7b7b"/><stop offset=".949" stop-color="#212121"/><stop offset=".967" stop-color="#151515"/><stop offset=".986" stop-color="#040404"/><stop offset=".995" stop-color="#000"/></linearGradient>
<linearGradient id="p321" gradientUnits="userSpaceOnUse" x1="330" x2="436"><stop offset=".005" stop-color="#000"/><stop offset=".024" stop-color="#1b1b1b"/><stop offset=".09" stop-color="#454545"/><stop offset=".127" stop-color="#5b5b5b"/><stop offset=".137" stop-color="#5e5e5e"/><stop offset=".259" stop-color="#727272"/><stop offset=".269" stop-color="#6b6b6b"/><stop offset=".278" stop-color="#525252"/><stop offset=".288" stop-color="#303030"/><stop offset=".297" stop-color="#1f1f1f"/><stop offset=".307" stop-color="#212121"/><stop offset=".335" stop-color="#383838"/><stop offset=".363" stop-color="#4a4a4a"/><stop offset=".439" stop-color="#707070"/><stop offset=".505" stop-color="#868686"/><stop offset=".542" stop-color="#8e8e8e"/><stop offset=".561" stop-color="#909090"/><stop offset=".665" stop-color="#838383"/><stop offset=".769" stop-color="#6c6c6c"/><stop offset=".929" stop-color="#272727"/><stop offset=".967" stop-color="#131313"/><stop offset=".986" stop-color="#030303"/><stop offset=".995" stop-color="#000"/></linearGradient>
<linearGradient id="p322" gradientUnits="userSpaceOnUse" x1="333" x2="429"><stop offset=".005" stop-color="#000"/><stop offset=".016" stop-color="#030303"/><stop offset=".099" stop-color="#3f3f3f"/><stop offset=".12" stop-color="#494949"/><stop offset=".255" stop-color="#616161"/><stop offset=".266" stop-color="#595959"/><stop offset=".276" stop-color="#3b3b3b"/><stop offset=".286" stop-color="#0b0b0b"/><stop offset=".297" stop-color="#000"/><stop offset=".349" stop-color="#000"/><stop offset=".391" stop-color="#121212"/><stop offset=".453" stop-color="#343434"/><stop offset=".495" stop-color="#464646"/><stop offset=".547" stop-color="#585858"/><stop offset=".589" stop-color="#606060"/><stop offset=".693" stop-color="#5a5a5a"/><stop offset=".807" stop-color="#494949"/><stop offset=".88" stop-color="#2d2d2d"/><stop offset=".964" stop-color="#090909"/><stop offset=".995" stop-color="#000"/></linearGradient>
<linearGradient id="p323" gradientUnits="userSpaceOnUse" x1="340" x2="416"><stop offset=".007" stop-color="#000"/><stop offset=".02" stop-color="#030303"/><stop offset=".059" stop-color="#161616"/><stop offset=".164" stop-color="#2a2a2a"/><stop offset=".23" stop-color="#343434"/><stop offset=".243" stop-color="#2c2c2c"/><stop offset=".257" stop-color="#0f0f0f"/><stop offset=".27" stop-color="#000"/><stop offset=".52" stop-color="#010101"/><stop offset=".625" stop-color="#1c1c1c"/><stop offset=".651" stop-color="#202020"/><stop offset=".678" stop-color="#212121"/><stop offset=".77" stop-color="#1e1e1e"/><stop offset=".849" stop-color="#181818"/><stop offset=".928" stop-color="#0e0e0e"/><stop offset=".98" stop-color="#010101"/><stop offset=".993" stop-color="#000"/></linearGradient>
<linearGradient id="p40" gradientUnits="userSpaceOnUse" x1="494" x2="498"><stop offset=".125" stop-color="#000"/><stop offset=".375" stop-color="#040404"/><stop offset=".625" stop-color="#040404"/><stop offset=".875" stop-color="#000"/></linearGradient>
<linearGradient id="p41" gradientUnits="userSpaceOnUse" x1="491" x2="501"><stop offset=".05" stop-color="#000"/><stop offset=".15" stop-color="#030303"/><stop offset=".35" stop-color="#272727"/><stop offset=".45" stop-color="#313131"/><stop offset=".55" stop-color="#333"/><stop offset=".65" stop-color="#2d2d2d"/><stop offset=".75" stop-color="#212121"/><stop offset=".85" stop-color="#0e0e0e"/><stop offset=".95" stop-color="#000"/></linearGradient>
<linearGradient id="p42" gradientUnits="userSpaceOnUse" x1="490" x2="503"><stop offset=".038" stop-color="#000"/><stop offset=".115" stop-color="#080808"/><stop offset=".346" stop-color="#434343"/><stop offset=".423" stop-color="#4f4f4f"/><stop offset=".5" stop-color="#545454"/><stop offset=".577" stop-color="#515151"/><stop offset=".654" stop-color="#484848"/><stop offset=".731" stop-color="#3a3a3a"/><stop offset=".808" stop-color="#252525"/><stop offset=".885" stop-color="#0b0b0b"/><stop offset=".962" stop-color="#000"/></linearGradient>
<linearGradient id="p43" gradientUnits="userSpaceOnUse" x1="490" x2="504"><stop offset=".036" stop-color="#000"/><stop offset=".107" stop-color="#0c0c0c"/><stop offset=".321" stop-color="#4f4f4f"/><stop offset=".393" stop-color="#5e5e5e"/><stop offset=".464" stop-color="#666"/><stop offset=".536" stop-color="#676767"/><stop offset=".607" stop-color="#636363"/><stop offset=".679" stop-color="#595959"/><stop offset=".75" stop-color="#4a4a4a"/><stop offset=".821" stop-color="#343434"/><stop offset=".893" stop-color="#181818"/><stop offset=".964" stop-color="#000"/></linearGradient>
<linearGradient id="p44" gradientUnits="userSpaceOnUse" x1="491" x2="505"><stop offset=".036" stop-color="#000"/><stop offset=".179" stop-color="#393939"/><stop offset=".25" stop-color="#515151"/><stop offset=".321" stop-color="#616161"/><stop offset=".393" stop-color="#6b6b6b"/><stop offset=".464" stop-color="#717171"/><stop offset=".536" stop-color="#727272"/><stop offset=".607" stop-color="#6e6e6e"/><stop offset=".679" stop-color="#646464"/><stop offset=".75" stop-color="#545454"/><stop offset=".821" stop-color="#3d3d3d"/><stop offset=".893" stop-color="#202020"/><stop offset=".964" stop-color="#000"/></linearGradient>
<linearGradient id="p45" gradientUnits="userSpaceOnUse" x1="491" x2="507"><stop offset=".031" stop-color="#000"/><stop offset=".094" stop-color="#111"/><stop offset=".156" stop-color="#313131"/><stop offset=".219" stop-color="#4a4a4a"/><stop offset=".281" stop-color="#5b5b5b"/><stop offset=".344" stop-color="#686868"/><stop offset=".406" stop-color="#717171"/><stop offset=".469" stop-color="#777"/><stop offset=".531" stop-color="#787878"/><stop offset=".594" stop-color="#757575"/><stop offset=".656" stop-color="#6b6b6b"/><stop offset=".719" stop-color="#5a5a5a"/><stop offset=".781" stop-color="#434343"/><stop offset=".844" stop-color="#262626"/><stop offset=".906" stop-color="#050505"/><stop offset=".969" stop-color="#000"/></linearGradient>
<linearGradient id="p46" gradientUnits="userSpaceOnUse" x1="492" x2="508"><stop offset=".031" stop-color="#000"/><stop offset=".094" stop-color="#212121"/><stop offset=".156" stop-color="#3b3b3b"/><stop offset=".219" stop-color="#4f4f4f"/><stop offset=".281" stop-color="#5f5f5f"/><stop offset=".406" stop-color="#767676"/><stop offset=".469" stop-color="#7c7c7c"/><stop offset=".531" stop-color="#7e7e7e"/><stop offset=".594" stop-color="#7a7a7a"/><stop offset=".656" stop-color="#707070"/><stop offset=".719" stop-color="#5f5f5f"/><stop offset=".781" stop-color="#474747"/><stop offset=".844" stop-color="#2b2b2b"/><stop offset=".906" stop-color="#0a0a0a"/><stop offset=".969" stop-color="#000"/></linearGradient>
<linearGradient id="p47" gradientUnits="userSpaceOnUse" x1="492" x2="509"><stop offset=".029" stop-color="#000"/><stop offset=".088" stop-color="#0a0a0a"/><stop offset=".147" stop-color="#262626"/><stop offset=".206" stop-color="#3d3d3d"/><stop offset=".324" stop-color="#636363"/><stop offset=".382" stop-color="#717171"/><stop offset=".441" stop-color="#7c7c7c"/><stop offset=".5" stop-color="#828282"/><stop offset=".559" stop-color="#838383"/><stop offset=".618" stop-color="#7f7f7f"/><stop offset=".676" stop-color="#747474"/><stop offset=".735" stop-color="#626262"/><stop offset=".794" stop-color="#4b4b4b"/><stop offset=".853" stop-color="#2f2f2f"/><stop offset=".912" stop-color="#0d0d0d"/><stop offset=".971" stop-color="#000"/></linearGradient>
<linearGradient id="p48" gradientUnits="userSpaceOnUse" x1="493" x2="510"><stop offset=".029" stop-color="#000"/><stop offset=".088" stop-color="#0d0d0d"/><stop offset=".206" stop-color="#434343"/><stop offset=".265" stop-color="#595959"/><stop offset=".324" stop-color="#6b6b6b"/><stop offset=".382" stop-color="#787878"/><stop offset=".441" stop-color="#828282"/><stop offset=".5" stop-color="#878787"/><stop offset=".559" stop-color="#888"/><stop offset=".618" stop-color="#838383"/><stop offset=".676" stop-color="#777"/><stop offset=".735" stop-color="#666"/><stop offset=".794" stop-color="#4e4e4e"/><stop offset=".853" stop-color="#313131"/><stop offset=".912" stop-color="#0d0d0d"/><stop offset=".971" stop-color="#000"/></linearGradient>
<linearGradient id="p49" gradientUnits="userSpaceOnUse" x1="494" x2="511"><stop offset=".029" stop-color="#000"/><stop offset=".088" stop-color="#161616"/><stop offset=".147" stop-color="#343434"/><stop offset=".206" stop-color="#4d4d4d"/><stop offset=".265" stop-color="#626262"/><stop offset=".324" stop-color="#737373"/><stop offset=".382" stop-color="#7f7f7f"/><stop offset=".441" stop-color="#888"/><stop offset=".5" stop-color="#8d8d8d"/><stop offset=".559" stop-color="#8d8d8d"/><stop offset=".618" stop-color="#878787"/><stop offset=".676" stop-color="#7a7a7a"/><stop offset=".735" stop-color="#686868"/><stop offset=".794" stop-color="#4f4f4f"/><stop offset=".853" stop-color="#2f2f2f"/><stop offset=".912" stop-color="#0b0b0b"/><stop offset=".971" stop-color="#000"/></linearGradient>
<linearGradient id="p410" gradientUnits="userSpaceOnUse" x1="494" x2="512"><stop offset=".028" stop-color="#000"/><stop offset=".083" stop-color="#020202"/><stop offset=".139" stop-color="#232323"/><stop offset=".194" stop-color="#404040"/><stop offset=".25" stop-color="#585858"/><stop offset=".306" stop-color="#6c6c6c"/><stop offset=".361" stop-color="#7b7b7b"/><stop offset=".417" stop-color="#868686"/><stop offset=".472" stop-color="#8e8e8e"/><stop offset=".528" stop-color="#929292"/><stop offset=".583" stop-color="#909090"/><stop offset=".639" stop-color="#898989"/><stop offset=".694" stop-color="#7b7b7b"/><stop offset=".75" stop-color="#676767"/><stop offset=".806" stop-color="#4d4d4d"/><stop offset=".861" stop-color="#2c2c2c"/><stop offset=".917" stop-color="#070707"/><stop offset=".972" stop-color="#000"/></linearGradient>
<linearGradient id="p411" gradientUnits="userSpaceOnUse" x1="495" x2="513"><stop offset=".028" stop-color="#000"/><stop offset=".083" stop-color="#131313"/><stop offset=".139" stop-color="#323232"/><stop offset=".194" stop-color="#4d4d4d"/><stop offset=".25" stop-color="#636363"/><stop offset=".306" stop-color="#757575"/><stop offset=".361" stop-color="#838383"/><stop offset=".417" stop-color="#8d8d8d"/><stop offset=".472" stop-color="#939393"/><stop offset=".528" stop-color="#959595"/><stop offset=".583" stop-color="#929292"/><stop offset=".639" stop-color="#8a8a8a"/><stop offset=".694" stop-color="#7b7b7b"/><stop offset=".75" stop-color="#656565"/><stop offset=".806" stop-color="#4a4a4a"/><stop offset=".861" stop-color="#282828"/><stop offset=".917" stop-color="#020202"/><stop offset=".972" stop-color="#000"/></linearGradient>
<linearGradient id="p412" gradientUnits="userSpaceOnUse" x1="495" x2="513"><stop offset=".028" stop-color="#000"/><stop offset=".083" stop-color="#010101"/><stop offset=".139" stop-color="#232323"/><stop offset=".194" stop-color="#404040"/><stop offset=".25" stop-color="#595959"/><stop offset=".306" stop-color="#6d6d6d"/><stop offset=".361" stop-color="#7d7d7d"/><stop offset=".417" stop-color="#898989"/><stop offset=".472" stop-color="#919191"/><stop offset=".528" stop-color="#969696"/><stop offset=".583" stop-color="#989898"/><stop offset=".639" stop-color="#949494"/><stop offset=".694" stop-color="#898989"/><stop offset=".75" stop-color="#797979"/><stop offset=".806" stop-color="#626262"/><stop offset=".861" stop-color="#454545"/><stop offset=".972" stop-color="#000"/></linearGradient>
<linearGradient id="p413" gradientUnits="userSpaceOnUse" x1="496" x2="514"><stop offset=".028" stop-color="#000"/><stop offset=".083" stop-color="#131313"/><stop offset=".139" stop-color="#323232"/><stop offset=".194" stop-color="#4c4c4c"/><stop offset=".25" stop-color="#626262"/><stop offset=".306" stop-color="#757575"/><stop offset=".361" stop-color="#838383"/><stop offset=".417" stop-color="#8e8e8e"/><stop offset=".472" stop-color="#959595"/><stop offset=".528" stop-color="#999"/><stop offset=".583" stop-color="#999"/><stop offset=".639" stop-color="#949494"/><stop offset=".694" stop-color="#888"/><stop offset=".75" stop-color="#767676"/><stop offset=".806" stop-color="#5e5e5e"/><stop offset=".861" stop-color="#404040"/><stop offset=".917" stop-color="#1c1c1c"/><stop offset=".972" stop-color="#000"/></linearGradient>
<linearGradient id="p414" gradientUnits="userSpaceOnUse" x1="496" x2="515"><stop offset=".026" stop-color="#000"/><stop offset=".079" stop-color="#020202"/><stop offset=".132" stop-color="#222"/><stop offset=".184" stop-color="#3e3e3e"/><stop offset=".237" stop-color="#565656"/><stop offset=".289" stop-color="#6a6a6a"/><stop offset=".342" stop-color="#7b7b7b"/><stop offset=".395" stop-color="#888"/><stop offset=".447" stop-color="#929292"/><stop offset=".5" stop-color="#999"/><stop offset=".553" stop-color="#9c9c9c"/><stop offset=".605" stop-color="#9b9b9b"/><stop offset=".658" stop-color="#949494"/><stop offset=".711" stop-color="#878787"/><stop offset=".763" stop-color="#737373"/><stop offset=".816" stop-color="#5a5a5a"/><stop offset=".868" stop-color="#3a3a3a"/><stop offset=".921" stop-color="#151515"/><stop offset=".974" stop-color="#000"/></linearGradient>
<linearGradient id="p415" gradientUnits="userSpaceOnUse" x1="497" x2="516"><stop offset=".026" stop-color="#000"/><stop offset=".079" stop-color="#101010"/><stop offset=".132" stop-color="#2e2e2e"/><stop offset=".184" stop-color="#484848"/><stop offset=".237" stop-color="#5f5f5f"/><stop offset=".289" stop-color="#727272"/><stop offset=".342" stop-color="#818181"/><stop offset=".395" stop-color="#8d8d8d"/><stop offset=".447" stop-color="#969696"/><stop offset=".5" stop-color="#9c9c9c"/><stop offset=".553" stop-color="#9e9e9e"/><stop offset=".605" stop-color="#9c9c9c"/><stop offset=".658" stop-color="#939393"/><stop offset=".711" stop-color="#848484"/><stop offset=".763" stop-color="#707070"/><stop offset=".816" stop-color="#555"/><stop offset=".868" stop-color="#343434"/><stop offset=".921" stop-color="#0f0f0f"/><stop offset=".974" stop-color="#000"/></linearGradient>
<linearGradient id="p416" gradientUnits="userSpaceOnUse" x1="498" x2="517"><stop offset=".026" stop-color="#000"/><stop offset=".132" stop-color="#393939"/><stop offset=".184" stop-color="#525252"/><stop offset=".237" stop-color="#686868"/><stop offset=".289" stop-color="#797979"/><stop offset=".342" stop-color="#888"/><stop offset=".395" stop-color="#939393"/><stop offset=".447" stop-color="#9b9b9b"/><stop offset=".5" stop-color="#9f9f9f"/><stop offset=".553" stop-color="#a0a0a0"/><stop offset=".605" stop-color="#9c9c9c"/><stop offset=".658" stop-color="#929292"/><stop offset=".711" stop-color="#828282"/><stop offset=".763" stop-color="#6c6c6c"/><stop offset=".816" stop-color="#505050"/><stop offset=".868" stop-color="#2f2f2f"/><stop offset=".921" stop-color="#0a0a0a"/><stop offset=".974" stop-color="#000"/></linearGradient>
<linearGradient id="p417" gradientUnits="userSpaceOnUse" x1="498" x2="518"><stop offset=".025" stop-color="#000"/><stop offset=".075" stop-color="#0b0b0b"/><stop offset=".125" stop-color="#2a2a2a"/><stop offset=".175" stop-color="#454545"/><stop offset=".225" stop-color="#5c5c5c"/><stop offset=".275" stop-color="#707070"/><stop offset=".325" stop-color="#818181"/><stop offset=".375" stop-color="#8e8e8e"/><stop offset=".425" stop-color="#989898"/><stop offset=".525" stop-color="#a2a2a2"/><stop offset=".575" stop-color="#a2a2a2"/><stop offset=".625" stop-color="#9c9c9c"/><stop offset=".675" stop-color="#919191"/><stop offset=".725" stop-color="#7f7f7f"/><stop offset=".775" stop-color="#686868"/><stop offset=".825" stop-color="#4c4c4c"/><stop offset=".875" stop-color="#2a2a2a"/><stop offset=".925" stop-color="#030303"/><stop offset=".975" stop-color="#000"/></linearGradient>
<linearGradient id="p418" gradientUnits="userSpaceOnUse" x1="499" x2="518"><stop offset=".026" stop-color="#000"/><stop offset=".184" stop-color="#515151"/><stop offset=".237" stop-color="#666"/><stop offset=".289" stop-color="#797979"/><stop offset=".342" stop-color="#888"/><stop offset=".395" stop-color="#949494"/><stop offset=".5" stop-color="#a2a2a2"/><stop offset=".553" stop-color="#a5a5a5"/><stop offset=".605" stop-color="#a3a3a3"/><stop offset=".658" stop-color="#9c9c9c"/><stop offset=".711" stop-color="#8f8f8f"/><stop offset=".763" stop-color="#7d7d7d"/><stop offset=".816" stop-color="#646464"/><stop offset=".868" stop-color="#464646"/><stop offset=".974" stop-color="#000"/></linearGradient>
<linearGradient id="p419" gradientUnits="userSpaceOnUse" x1="499" x2="519"><stop offset=".025" stop-color="#000"/><stop offset=".075" stop-color="#0a0a0a"/><stop offset=".125" stop-color="#292929"/><stop offset=".175" stop-color="#444"/><stop offset=".225" stop-color="#5c5c5c"/><stop offset=".275" stop-color="#707070"/><stop offset=".325" stop-color="#818181"/><stop offset=".375" stop-color="#8e8e8e"/><stop offset=".475" stop-color="#a1a1a1"/><stop offset=".525" stop-color="#a5a5a5"/><stop offset=".575" stop-color="#a7a7a7"/><stop offset=".625" stop-color="#a4a4a4"/><stop offset=".675" stop-color="#9b9b9b"/><stop offset=".725" stop-color="#8d8d8d"/><stop offset=".775" stop-color="#797979"/><stop offset=".825" stop-color="#5f5f5f"/><stop offset=".875" stop-color="#404040"/><stop offset=".925" stop-color="#1b1b1b"/><stop offset=".975" stop-color="#000"/></linearGradient>
<linearGradient id="p420" gradientUnits="userSpaceOnUse" x1="500" x2="520"><stop offset=".025" stop-color="#000"/><stop offset=".175" stop-color="#505050"/><stop offset=".225" stop-color="#666"/><stop offset=".325" stop-color="#888"/><stop offset=".375" stop-color="#949494"/><stop offset=".475" stop-color="#a4a4a4"/><stop offset=".525" stop-color="#a8a8a8"/><stop offset=".575" stop-color="#a8a8a8"/><stop offset=".625" stop-color="#a4a4a4"/><stop offset=".675" stop-color="#9a9a9a"/><stop offset=".725" stop-color="#8a8a8a"/><stop offset=".775" stop-color="#747474"/><stop offset=".825" stop-color="#595959"/><stop offset=".875" stop-color="#383838"/><stop offset=".925" stop-color="#121212"/><stop offset=".975" stop-color="#000"/></linearGradient>
<linearGradient id="p421" gradientUnits="userSpaceOnUse" x1="500" x2="521"><stop offset=".024" stop-color="#000"/><stop offset=".071" stop-color="#0a0a0a"/><stop offset=".119" stop-color="#292929"/><stop offset=".167" stop-color="#434343"/><stop offset=".214" stop-color="#5b5b5b"/><stop offset=".31" stop-color="#808080"/><stop offset=".405" stop-color="#9a9a9a"/><stop offset=".5" stop-color="#a7a7a7"/><stop offset=".548" stop-color="#aaa"/><stop offset=".595" stop-color="#a9a9a9"/><stop offset=".643" stop-color="#a3a3a3"/><stop offset=".69" stop-color="#979797"/><stop offset=".738" stop-color="#868686"/><stop offset=".786" stop-color="#6f6f6f"/><stop offset=".833" stop-color="#535353"/><stop offset=".881" stop-color="#313131"/><stop offset=".929" stop-color="#0a0a0a"/><stop offset=".976" stop-color="#000"/></linearGradient>
<linearGradient id="p422" gradientUnits="userSpaceOnUse" x1="501" x2="522"><stop offset=".024" stop-color="#000"/><stop offset=".167" stop-color="#4f4f4f"/><stop offset=".214" stop-color="#656565"/><stop offset=".31" stop-color="#878787"/><stop offset=".405" stop-color="#9e9e9e"/><stop offset=".5" stop-color="#a9a9a9"/><stop offset=".548" stop-color="#ababab"/><stop offset=".595" stop-color="#a8a8a8"/><stop offset=".643" stop-color="#a1a1a1"/><stop offset=".69" stop-color="#949494"/><stop offset=".738" stop-color="#828282"/><stop offset=".786" stop-color="#696969"/><stop offset=".833" stop-color="#4c4c4c"/><stop offset=".881" stop-color="#292929"/><stop offset=".929" stop-color="#020202"/><stop offset=".976" stop-color="#000"/></linearGradient>
<linearGradient id="p423" gradientUnits="userSpaceOnUse" x1="501" x2="522"><stop offset=".024" stop-color="#000"/><stop offset=".071" stop-color="#0a0a0a"/><stop offset=".119" stop-color="#282828"/><stop offset=".167" stop-color="#424242"/><stop offset=".214" stop-color="#595959"/><stop offset=".31" stop-color="#7f7f7f"/><stop offset=".357" stop-color="#8d8d8d"/><stop offset=".452" stop-color="#a1a1a1"/><stop offset=".548" stop-color="#aaa"/><stop offset=".595" stop-color="#ababab"/><stop offset=".643" stop-color="#a8a8a8"/><stop offset=".69" stop-color="#9f9f9f"/><stop offset=".738" stop-color="#919191"/><stop offset=".786" stop-color="#7d7d7d"/><stop offset=".833" stop-color="#646464"/><stop offset=".881" stop-color="#454545"/><stop offset=".976" stop-color="#000"/></linearGradient>
<linearGradient id="p424" gradientUnits="userSpaceOnUse" x1="502" x2="523"><stop offset=".024" stop-color="#000"/><stop offset=".167" stop-color="#4d4d4d"/><stop offset=".214" stop-color="#626262"/><stop offset=".31" stop-color="#848484"/><stop offset=".405" stop-color="#9c9c9c"/><stop offset=".5" stop-color="#a9a9a9"/><stop offset=".548" stop-color="#acacac"/><stop offset=".595" stop-color="#ababab"/><stop offset=".643" stop-color="#a7a7a7"/><stop offset=".69" stop-color="#9d9d9d"/><stop offset=".738" stop-color="#8d8d8d"/><stop offset=".786" stop-color="#787878"/><stop offset=".833" stop-color="#5e5e5e"/><stop offset=".881" stop-color="#3f3f3f"/><stop offset=".929" stop-color="#1b1b1b"/><stop offset=".976" stop-color="#000"/></linearGradient>
<linearGradient id="p425" gradientUnits="userSpaceOnUse" x1="502" x2="524"><stop offset=".023" stop-color="#000"/><stop offset=".068" stop-color="#080808"/><stop offset=".114" stop-color="#252525"/><stop offset=".205" stop-color="#555"/><stop offset=".25" stop-color="#6a6a6a"/><stop offset=".341" stop-color="#898989"/><stop offset=".432" stop-color="#9f9f9f"/><stop offset=".523" stop-color="#ababab"/><stop offset=".568" stop-color="#adadad"/><stop offset=".614" stop-color="#ababab"/><stop offset=".659" stop-color="#a6a6a6"/><stop offset=".705" stop-color="#9a9a9a"/><stop offset=".75" stop-color="#8a8a8a"/><stop offset=".795" stop-color="#747474"/><stop offset=".841" stop-color="#595959"/><stop offset=".886" stop-color="#393939"/><stop offset=".932" stop-color="#151515"/><stop offset=".977" stop-color="#000"/></linearGradient>
<linearGradient id="p426" gradientUnits="userSpaceOnUse" x1="503" x2="525"><stop offset=".023" stop-color="#000"/><stop offset=".068" stop-color="#141414"/><stop offset=".114" stop-color="#303030"/><stop offset=".205" stop-color="#5e5e5e"/><stop offset=".295" stop-color="#818181"/><stop offset=".341" stop-color="#8e8e8e"/><stop offset=".432" stop-color="#a2a2a2"/><stop offset=".523" stop-color="#acacac"/><stop offset=".568" stop-color="#adadad"/><stop offset=".614" stop-color="#ababab"/><stop offset=".659" stop-color="#a4a4a4"/><stop offset=".705" stop-color="#989898"/><stop offset=".75" stop-color="#868686"/><stop offset=".795" stop-color="#707070"/><stop offset=".841" stop-color="#555"/><stop offset=".886" stop-color="#353535"/><stop offset=".932" stop-color="#111"/><stop offset=".977" stop-color="#000"/></linearGradient>
<linearGradient id="p427" gradientUnits="userSpaceOnUse" x1="503" x2="526"><stop offset=".022" stop-color="#000"/><stop offset=".065" stop-color="#030303"/><stop offset=".109" stop-color="#202020"/><stop offset=".196" stop-color="#515151"/><stop offset=".239" stop-color="#656565"/><stop offset=".326" stop-color="#868686"/><stop offset=".37" stop-color="#939393"/><stop offset=".457" stop-color="#a5a5a5"/><stop offset=".543" stop-color="#adadad"/><stop offset=".587" stop-color="#aeaeae"/><stop offset=".63" stop-color="#ababab"/><stop offset=".674" stop-color="#a3a3a3"/><stop offset=".717" stop-color="#969696"/><stop offset=".761" stop-color="#848484"/><stop offset=".804" stop-color="#6d6d6d"/><stop offset=".848" stop-color="#525252"/><stop offset=".891" stop-color="#323232"/><stop offset=".935" stop-color="#101010"/><stop offset=".978" stop-color="#000"/></linearGradient>
<linearGradient id="p428" gradientUnits="userSpaceOnUse" x1="504" x2="527"><stop offset=".022" stop-color="#000"/><stop offset=".065" stop-color="#101010"/><stop offset=".109" stop-color="#2b2b2b"/><stop offset=".196" stop-color="#5a5a5a"/><stop offset=".283" stop-color="#7d7d7d"/><stop offset=".326" stop-color="#8b8b8b"/><stop offset=".413" stop-color="#a0a0a0"/><stop offset=".5" stop-color="#acacac"/><stop offset=".543" stop-color="#afafaf"/><stop offset=".587" stop-color="#aeaeae"/><stop offset=".63" stop-color="#aaa"/><stop offset=".674" stop-color="#a2a2a2"/><stop offset=".717" stop-color="#949494"/><stop offset=".761" stop-color="#828282"/><stop offset=".804" stop-color="#6b6b6b"/><stop offset=".848" stop-color="#505050"/><stop offset=".935" stop-color="#111"/><stop offset=".978" stop-color="#000"/></linearGradient>
<linearGradient id="p429" gradientUnits="userSpaceOnUse" x1="505" x2="528"><stop offset=".022" stop-color="#000"/><stop offset=".109" stop-color="#363636"/><stop offset=".152" stop-color="#4d4d4d"/><stop offset=".196" stop-color="#616161"/><stop offset=".283" stop-color="#838383"/><stop offset=".326" stop-color="#909090"/><stop offset=".413" stop-color="#a3a3a3"/><stop offset=".5" stop-color="#aeaeae"/><stop offset=".543" stop-color="#b0b0b0"/><stop offset=".587" stop-color="#afafaf"/><stop offset=".63" stop-color="#aaa"/><stop offset=".674" stop-color="#a1a1a1"/><stop offset=".717" stop-color="#939393"/><stop offset=".761" stop-color="#818181"/><stop offset=".804" stop-color="#6b6b6b"/><stop offset=".848" stop-color="#515151"/><stop offset=".935" stop-color="#161616"/><stop offset=".978" stop-color="#000"/></linearGradient>
<linearGradient id="p430" gradientUnits="userSpaceOnUse" x1="505" x2="529"><stop offset=".021" stop-color="#000"/><stop offset=".062" stop-color="#0c0c0c"/><stop offset=".104" stop-color="#272727"/><stop offset=".188" stop-color="#555"/><stop offset=".229" stop-color="#696969"/><stop offset=".312" stop-color="#888"/><stop offset=".354" stop-color="#949494"/><stop offset=".438" stop-color="#a5a5a5"/><stop offset=".521" stop-color="#afafaf"/><stop offset=".562" stop-color="#b0b0b0"/><stop offset=".604" stop-color="#afafaf"/><stop offset=".646" stop-color="#aaa"/><stop offset=".688" stop-color="#a1a1a1"/><stop offset=".729" stop-color="#939393"/><stop offset=".771" stop-color="#828282"/><stop offset=".854" stop-color="#545454"/><stop offset=".979" stop-color="#000"/></linearGradient>
<linearGradient id="p431" gradientUnits="userSpaceOnUse" x1="506" x2="531"><stop offset=".02" stop-color="#000"/><stop offset=".14" stop-color="#484848"/><stop offset=".18" stop-color="#5d5d5d"/><stop offset=".26" stop-color="#7f7f7f"/><stop offset=".3" stop-color="#8c8c8c"/><stop offset=".38" stop-color="#a0a0a0"/><stop offset=".46" stop-color="#adadad"/><stop offset=".54" stop-color="#b1b1b1"/><stop offset=".58" stop-color="#b0b0b0"/><stop offset=".62" stop-color="#aaa"/><stop offset=".66" stop-color="#a1a1a1"/><stop offset=".7" stop-color="#949494"/><stop offset=".74" stop-color="#838383"/><stop offset=".82" stop-color="#595959"/><stop offset=".86" stop-color="#404040"/><stop offset=".94" stop-color="#070707"/><stop offset=".98" stop-color="#000"/></linearGradient>
<linearGradient id="p432" gradientUnits="userSpaceOnUse" x1="506" x2="532"><stop offset=".019" stop-color="#000"/><stop offset=".058" stop-color="#070707"/><stop offset=".096" stop-color="#222"/><stop offset=".173" stop-color="#505050"/><stop offset=".212" stop-color="#646464"/><stop offset=".288" stop-color="#838383"/><stop offset=".327" stop-color="#909090"/><stop offset=".404" stop-color="#a3a3a3"/><stop offset=".481" stop-color="#aeaeae"/><stop offset=".558" stop-color="#b2b2b2"/><stop offset=".596" stop-color="#b0b0b0"/><stop offset=".635" stop-color="#ababab"/><stop offset=".673" stop-color="#a2a2a2"/><stop offset=".712" stop-color="#969696"/><stop offset=".75" stop-color="#868686"/><stop offset=".827" stop-color="#5f5f5f"/><stop offset=".865" stop-color="#474747"/><stop offset=".942" stop-color="#111"/><stop offset=".981" stop-color="#000"/></linearGradient>
<linearGradient id="p433" gradientUnits="userSpaceOnUse" x1="507" x2="534"><stop offset=".019" stop-color="#000"/><stop offset=".056" stop-color="#121212"/><stop offset=".093" stop-color="#2c2c2c"/><stop offset=".167" stop-color="#575757"/><stop offset=".204" stop-color="#6a6a6a"/><stop offset=".278" stop-color="#878787"/><stop offset=".315" stop-color="#939393"/><stop offset=".389" stop-color="#a5a5a5"/><stop offset=".463" stop-color="#afafaf"/><stop offset=".537" stop-color="#b2b2b2"/><stop offset=".611" stop-color="#acacac"/><stop offset=".648" stop-color="#a4a4a4"/><stop offset=".722" stop-color="#8a8a8a"/><stop offset=".759" stop-color="#797979"/><stop offset=".833" stop-color="#4f4f4f"/><stop offset=".87" stop-color="#373737"/><stop offset=".944" stop-color="#010101"/><stop offset=".981" stop-color="#000"/></linearGradient>
<linearGradient id="p434" gradientUnits="userSpaceOnUse" x1="507" x2="535"><stop offset=".018" stop-color="#000"/><stop offset=".054" stop-color="#020202"/><stop offset=".089" stop-color="#1c1c1c"/><stop offset=".161" stop-color="#4a4a4a"/><stop offset=".232" stop-color="#6f6f6f"/><stop offset=".304" stop-color="#8b8b8b"/><stop offset=".339" stop-color="#969696"/><stop offset=".411" stop-color="#a6a6a6"/><stop offset=".482" stop-color="#b0b0b0"/><stop offset=".554" stop-color="#b3b3b3"/><stop offset=".625" stop-color="#adadad"/><stop offset=".661" stop-color="#a6a6a6"/><stop offset=".732" stop-color="#8e8e8e"/><stop offset=".768" stop-color="#7e7e7e"/><stop offset=".839" stop-color="#575757"/><stop offset=".875" stop-color="#414141"/><stop offset=".946" stop-color="#0e0e0e"/><stop offset=".982" stop-color="#000"/></linearGradient>
<linearGradient id="p435" gradientUnits="userSpaceOnUse" x1="508" x2="537"><stop offset=".017" stop-color="#000"/><stop offset=".052" stop-color="#0c0c0c"/><stop offset=".121" stop-color="#3c3c3c"/><stop offset=".19" stop-color="#636363"/><stop offset=".224" stop-color="#737373"/><stop offset=".293" stop-color="#8d8d8d"/><stop offset=".328" stop-color="#989898"/><stop offset=".397" stop-color="#a7a7a7"/><stop offset=".466" stop-color="#b0b0b0"/><stop offset=".534" stop-color="#b3b3b3"/><stop offset=".603" stop-color="#afafaf"/><stop offset=".638" stop-color="#a8a8a8"/><stop offset=".707" stop-color="#939393"/><stop offset=".741" stop-color="#848484"/><stop offset=".81" stop-color="#606060"/><stop offset=".879" stop-color="#343434"/><stop offset=".948" stop-color="#010101"/><stop offset=".983" stop-color="#000"/></linearGradient>
<linearGradient id="p436" gradientUnits="userSpaceOnUse" x1="509" x2="538"><stop offset=".017" stop-color="#000"/><stop offset=".121" stop-color="#424242"/><stop offset=".155" stop-color="#565656"/><stop offset=".19" stop-color="#676767"/><stop offset=".259" stop-color="#848484"/><stop offset=".328" stop-color="#999"/><stop offset=".397" stop-color="#a7a7a7"/><stop offset=".466" stop-color="#b0b0b0"/><stop offset=".534" stop-color="#b3b3b3"/><stop offset=".603" stop-color="#b0b0b0"/><stop offset=".638" stop-color="#aaa"/><stop offset=".672" stop-color="#a2a2a2"/><stop offset=".741" stop-color="#8a8a8a"/><stop offset=".776" stop-color="#7b7b7b"/><stop offset=".845" stop-color="#555"/><stop offset=".948" stop-color="#111"/><stop offset=".983" stop-color="#000"/></linearGradient>
<linearGradient id="p437" gradientUnits="userSpaceOnUse" x1="509" x2="540"><stop offset=".016" stop-color="#000"/><stop offset=".048" stop-color="#030303"/><stop offset=".081" stop-color="#1c1c1c"/><stop offset=".145" stop-color="#474747"/><stop offset=".21" stop-color="#6a6a6a"/><stop offset=".274" stop-color="#858585"/><stop offset=".339" stop-color="#999"/><stop offset=".403" stop-color="#a7a7a7"/><stop offset=".468" stop-color="#b0b0b0"/><stop offset=".532" stop-color="#b4b4b4"/><stop offset=".597" stop-color="#b1b1b1"/><stop offset=".629" stop-color="#adadad"/><stop offset=".661" stop-color="#a6a6a6"/><stop offset=".726" stop-color="#909090"/><stop offset=".758" stop-color="#828282"/><stop offset=".823" stop-color="#5f5f5f"/><stop offset=".952" stop-color="#0b0b0b"/><stop offset=".984" stop-color="#000"/></linearGradient>
<linearGradient id="p438" gradientUnits="userSpaceOnUse" x1="510" x2="542"><stop offset=".016" stop-color="#000"/><stop offset=".047" stop-color="#0b0b0b"/><stop offset=".109" stop-color="#383838"/><stop offset=".172" stop-color="#5d5d5d"/><stop offset=".203" stop-color="#6c6c6c"/><stop offset=".266" stop-color="#868686"/><stop offset=".328" stop-color="#999"/><stop offset=".391" stop-color="#a7a7a7"/><stop offset=".484" stop-color="#b2b2b2"/><stop offset=".547" stop-color="#b4b4b4"/><stop offset=".609" stop-color="#afafaf"/><stop offset=".641" stop-color="#a9a9a9"/><stop offset=".703" stop-color="#969696"/><stop offset=".734" stop-color="#898989"/><stop offset=".797" stop-color="#696969"/><stop offset=".859" stop-color="#454545"/><stop offset=".953" stop-color="#080808"/><stop offset=".984" stop-color="#000"/></linearGradient>
<linearGradient id="p439" gradientUnits="userSpaceOnUse" x1="511" x2="544"><stop offset=".015" stop-color="#000"/><stop offset=".045" stop-color="#101010"/><stop offset=".076" stop-color="#272727"/><stop offset=".136" stop-color="#4e4e4e"/><stop offset=".197" stop-color="#6d6d6d"/><stop offset=".258" stop-color="#868686"/><stop offset=".318" stop-color="#999"/><stop offset=".379" stop-color="#a6a6a6"/><stop offset=".439" stop-color="#afafaf"/><stop offset=".53" stop-color="#b5b5b5"/><stop offset=".591" stop-color="#b1b1b1"/><stop offset=".621" stop-color="#acacac"/><stop offset=".652" stop-color="#a5a5a5"/><stop offset=".712" stop-color="#909090"/><stop offset=".773" stop-color="#737373"/><stop offset=".833" stop-color="#535353"/><stop offset=".955" stop-color="#070707"/><stop offset=".985" stop-color="#000"/></linearGradient>
<linearGradient id="p440" gradientUnits="userSpaceOnUse" x1="512" x2="546"><stop offset=".015" stop-color="#000"/><stop offset=".074" stop-color="#2a2a2a"/><stop offset=".132" stop-color="#505050"/><stop offset=".191" stop-color="#6e6e6e"/><stop offset=".25" stop-color="#868686"/><stop offset=".309" stop-color="#989898"/><stop offset=".368" stop-color="#a6a6a6"/><stop offset=".426" stop-color="#afafaf"/><stop offset=".515" stop-color="#b5b5b5"/><stop offset=".574" stop-color="#b3b3b3"/><stop offset=".603" stop-color="#afafaf"/><stop offset=".632" stop-color="#a9a9a9"/><stop offset=".691" stop-color="#969696"/><stop offset=".75" stop-color="#7d7d7d"/><stop offset=".809" stop-color="#606060"/><stop offset=".868" stop-color="#3e3e3e"/><stop offset=".956" stop-color="#080808"/><stop offset=".985" stop-color="#000"/></linearGradient>
<linearGradient id="p441" gradientUnits="userSpaceOnUse" x1="512" x2="548"><stop offset=".014" stop-color="#000"/><stop offset=".042" stop-color="#020202"/><stop offset=".097" stop-color="#2d2d2d"/><stop offset=".153" stop-color="#515151"/><stop offset=".208" stop-color="#6e6e6e"/><stop offset=".292" stop-color="#8f8f8f"/><stop offset=".347" stop-color="#9f9f9f"/><stop offset=".403" stop-color="#aaa"/><stop offset=".486" stop-color="#b3b3b3"/><stop offset=".542" stop-color="#b5b5b5"/><stop offset=".597" stop-color="#b1b1b1"/><stop offset=".625" stop-color="#acacac"/><stop offset=".653" stop-color="#a5a5a5"/><stop offset=".708" stop-color="#929292"/><stop offset=".764" stop-color="#7a7a7a"/><stop offset=".819" stop-color="#5d5d5d"/><stop offset=".875" stop-color="#3d3d3d"/><stop offset=".958" stop-color="#090909"/><stop offset=".986" stop-color="#000"/></linearGradient>
<linearGradient id="p442" gradientUnits="userSpaceOnUse" x1="513" x2="550"><stop offset=".014" stop-color="#000"/><stop offset=".041" stop-color="#050505"/><stop offset=".095" stop-color="#2e2e2e"/><stop offset=".149" stop-color="#515151"/><stop offset=".203" stop-color="#6e6e6e"/><stop offset=".257" stop-color="#858585"/><stop offset=".311" stop-color="#969696"/><stop offset=".392" stop-color="#a9a9a9"/><stop offset=".473" stop-color="#b3b3b3"/><stop offset=".527" stop-color="#b6b6b6"/><stop offset=".581" stop-color="#b3b3b3"/><stop offset=".608" stop-color="#afafaf"/><stop offset=".662" stop-color="#a2a2a2"/><stop offset=".716" stop-color="#8f8f8f"/><stop offset=".77" stop-color="#777"/><stop offset=".824" stop-color="#5c5c5c"/><stop offset=".878" stop-color="#3d3d3d"/><stop offset=".959" stop-color="#090909"/><stop offset=".986" stop-color="#000"/></linearGradient>
<linearGradient id="p443" gradientUnits="userSpaceOnUse" x1="514" x2="552"><stop offset=".013" stop-color="#000"/><stop offset=".039" stop-color="#070707"/><stop offset=".092" stop-color="#2f2f2f"/><stop offset=".171" stop-color="#606060"/><stop offset=".25" stop-color="#838383"/><stop offset=".303" stop-color="#959595"/><stop offset=".382" stop-color="#a8a8a8"/><stop offset=".461" stop-color="#b3b3b3"/><stop offset=".513" stop-color="#b5b5b5"/><stop offset=".566" stop-color="#b4b4b4"/><stop offset=".618" stop-color="#adadad"/><stop offset=".671" stop-color="#9f9f9f"/><stop offset=".724" stop-color="#8d8d8d"/><stop offset=".776" stop-color="#767676"/><stop offset=".829" stop-color="#5b5b5b"/><stop offset=".882" stop-color="#3d3d3d"/><stop offset=".961" stop-color="#0a0a0a"/><stop offset=".987" stop-color="#000"/></linearGradient>
<linearGradient id="p444" gradientUnits="userSpaceOnUse" x1="515" x2="554"><stop offset=".013" stop-color="#000"/><stop offset=".038" stop-color="#080808"/><stop offset=".09" stop-color="#2f2f2f"/><stop offset=".167" stop-color="#5f5f5f"/><stop offset=".218" stop-color="#777"/><stop offset=".269" stop-color="#8b8b8b"/><stop offset=".321" stop-color="#9b9b9b"/><stop offset=".397" stop-color="#ababab"/><stop offset=".449" stop-color="#b2b2b2"/><stop offset=".526" stop-color="#b5b5b5"/><stop offset=".577" stop-color="#b3b3b3"/><stop offset=".628" stop-color="#ababab"/><stop offset=".679" stop-color="#9d9d9d"/><stop offset=".731" stop-color="#8b8b8b"/><stop offset=".782" stop-color="#747474"/><stop offset=".833" stop-color="#5a5a5a"/><stop offset=".962" stop-color="#0c0c0c"/><stop offset=".987" stop-color="#000"/></linearGradient>
<linearGradient id="p445" gradientUnits="userSpaceOnUse" x1="516" x2="556"><stop offset=".013" stop-color="#000"/><stop offset=".037" stop-color="#090909"/><stop offset=".087" stop-color="#2f2f2f"/><stop offset=".163" stop-color="#5d5d5d"/><stop offset=".212" stop-color="#767676"/><stop offset=".263" stop-color="#8a8a8a"/><stop offset=".312" stop-color="#999"/><stop offset=".388" stop-color="#aaa"/><stop offset=".463" stop-color="#b3b3b3"/><stop offset=".537" stop-color="#b5b5b5"/><stop offset=".588" stop-color="#b2b2b2"/><stop offset=".637" stop-color="#a9a9a9"/><stop offset=".688" stop-color="#9b9b9b"/><stop offset=".738" stop-color="#898989"/><stop offset=".787" stop-color="#737373"/><stop offset=".838" stop-color="#595959"/><stop offset=".988" stop-color="#000"/></linearGradient>
<linearGradient id="p446" gradientUnits="userSpaceOnUse" x1="517" x2="559"><stop offset=".012" stop-color="#000"/><stop offset=".036" stop-color="#090909"/><stop offset=".083" stop-color="#2e2e2e"/><stop offset=".155" stop-color="#5b5b5b"/><stop offset=".202" stop-color="#747474"/><stop offset=".25" stop-color="#888"/><stop offset=".298" stop-color="#989898"/><stop offset=".369" stop-color="#a8a8a8"/><stop offset=".44" stop-color="#b2b2b2"/><stop offset=".512" stop-color="#b5b5b5"/><stop offset=".56" stop-color="#b3b3b3"/><stop offset=".607" stop-color="#adadad"/><stop offset=".655" stop-color="#a1a1a1"/><stop offset=".702" stop-color="#919191"/><stop offset=".75" stop-color="#7d7d7d"/><stop offset=".821" stop-color="#595959"/><stop offset=".893" stop-color="#2f2f2f"/><stop offset=".964" stop-color="#020202"/><stop offset=".988" stop-color="#000"/></linearGradient>
<linearGradient id="p447" gradientUnits="userSpaceOnUse" x1="518" x2="561"><stop offset=".012" stop-color="#000"/><stop offset=".035" stop-color="#080808"/><stop offset=".081" stop-color="#2d2d2d"/><stop offset=".151" stop-color="#5a5a5a"/><stop offset=".198" stop-color="#727272"/><stop offset=".267" stop-color="#8e8e8e"/><stop offset=".314" stop-color="#9c9c9c"/><stop offset=".384" stop-color="#aaa"/><stop offset=".453" stop-color="#b2b2b2"/><stop offset=".523" stop-color="#b5b5b5"/><stop offset=".57" stop-color="#b3b3b3"/><stop offset=".616" stop-color="#acacac"/><stop offset=".663" stop-color="#a0a0a0"/><stop offset=".709" stop-color="#909090"/><stop offset=".756" stop-color="#7c7c7c"/><stop offset=".826" stop-color="#595959"/><stop offset=".895" stop-color="#313131"/><stop offset=".965" stop-color="#040404"/><stop offset=".988" stop-color="#000"/></linearGradient>
<linearGradient id="p448" gradientUnits="userSpaceOnUse" x1="519" x2="563"><stop offset=".011" stop-color="#000"/><stop offset=".034" stop-color="#070707"/><stop offset=".08" stop-color="#2b2b2b"/><stop offset=".148" stop-color="#575757"/><stop offset=".193" stop-color="#707070"/><stop offset=".261" stop-color="#8c8c8c"/><stop offset=".307" stop-color="#9a9a9a"/><stop offset=".375" stop-color="#a8a8a8"/><stop offset=".443" stop-color="#b1b1b1"/><stop offset=".511" stop-color="#b5b5b5"/><stop offset=".557" stop-color="#b4b4b4"/><stop offset=".602" stop-color="#afafaf"/><stop offset=".648" stop-color="#a5a5a5"/><stop offset=".716" stop-color="#8e8e8e"/><stop offset=".807" stop-color="#656565"/><stop offset=".898" stop-color="#323232"/><stop offset=".966" stop-color="#060606"/><stop offset=".989" stop-color="#000"/></linearGradient>
<linearGradient id="p449" gradientUnits="userSpaceOnUse" x1="520" x2="565"><stop offset=".011" stop-color="#000"/><stop offset=".033" stop-color="#060606"/><stop offset=".1" stop-color="#393939"/><stop offset=".167" stop-color="#626262"/><stop offset=".211" stop-color="#777"/><stop offset=".256" stop-color="#898989"/><stop offset=".322" stop-color="#9d9d9d"/><stop offset=".389" stop-color="#aaa"/><stop offset=".456" stop-color="#b2b2b2"/><stop offset=".522" stop-color="#b4b4b4"/><stop offset=".567" stop-color="#b3b3b3"/><stop offset=".611" stop-color="#adadad"/><stop offset=".656" stop-color="#a3a3a3"/><stop offset=".722" stop-color="#8d8d8d"/><stop offset=".767" stop-color="#7a7a7a"/><stop offset=".833" stop-color="#595959"/><stop offset=".9" stop-color="#333"/><stop offset=".967" stop-color="#080808"/><stop offset=".989" stop-color="#000"/></linearGradient>
<linearGradient id="p450" gradientUnits="userSpaceOnUse" x1="521" x2="567"><stop offset=".011" stop-color="#000"/><stop offset=".033" stop-color="#040404"/><stop offset=".098" stop-color="#373737"/><stop offset=".163" stop-color="#5f5f5f"/><stop offset=".207" stop-color="#757575"/><stop offset=".25" stop-color="#868686"/><stop offset=".315" stop-color="#9a9a9a"/><stop offset=".38" stop-color="#a8a8a8"/><stop offset=".446" stop-color="#b0b0b0"/><stop offset=".533" stop-color="#b4b4b4"/><stop offset=".576" stop-color="#b2b2b2"/><stop offset=".62" stop-color="#acacac"/><stop offset=".663" stop-color="#a2a2a2"/><stop offset=".728" stop-color="#8c8c8c"/><stop offset=".793" stop-color="#707070"/><stop offset=".837" stop-color="#5a5a5a"/><stop offset=".902" stop-color="#343434"/><stop offset=".967" stop-color="#090909"/><stop offset=".989" stop-color="#000"/></linearGradient>
<linearGradient id="p451" gradientUnits="userSpaceOnUse" x1="522" x2="569"><stop offset=".011" stop-color="#000"/><stop offset=".032" stop-color="#020202"/><stop offset=".096" stop-color="#343434"/><stop offset=".16" stop-color="#5c5c5c"/><stop offset=".202" stop-color="#727272"/><stop offset=".266" stop-color="#8b8b8b"/><stop offset=".33" stop-color="#9d9d9d"/><stop offset=".394" stop-color="#a9a9a9"/><stop offset=".457" stop-color="#b1b1b1"/><stop offset=".521" stop-color="#b3b3b3"/><stop offset=".585" stop-color="#b1b1b1"/><stop offset=".628" stop-color="#ababab"/><stop offset=".67" stop-color="#a1a1a1"/><stop offset=".734" stop-color="#8b8b8b"/><stop offset=".777" stop-color="#797979"/><stop offset=".84" stop-color="#595959"/><stop offset=".904" stop-color="#343434"/><stop offset=".968" stop-color="#0b0b0b"/><stop offset=".989" stop-color="#000"/></linearGradient>
<linearGradient id="p452" gradientUnits="userSpaceOnUse" x1="524" x2="571"><stop offset=".011" stop-color="#000"/><stop offset=".053" stop-color="#222"/><stop offset=".117" stop-color="#4d4d4d"/><stop offset=".181" stop-color="#6e6e6e"/><stop offset=".245" stop-color="#888"/><stop offset=".309" stop-color="#9a9a9a"/><stop offset=".372" stop-color="#a7a7a7"/><stop offset=".436" stop-color="#afafaf"/><stop offset=".521" stop-color="#b3b3b3"/><stop offset=".585" stop-color="#b0b0b0"/><stop offset=".628" stop-color="#a9a9a9"/><stop offset=".67" stop-color="#9f9f9f"/><stop offset=".734" stop-color="#8a8a8a"/><stop offset=".777" stop-color="#787878"/><stop offset=".84" stop-color="#595959"/><stop offset=".904" stop-color="#343434"/><stop offset=".989" stop-color="#000"/></linearGradient>
<linearGradient id="p453" gradientUnits="userSpaceOnUse" x1="525" x2="574"><stop offset=".01" stop-color="#000"/><stop offset=".071" stop-color="#2f2f2f"/><stop offset=".112" stop-color="#4a4a4a"/><stop offset=".173" stop-color="#6b6b6b"/><stop offset=".235" stop-color="#848484"/><stop offset=".296" stop-color="#979797"/><stop offset=".378" stop-color="#a8a8a8"/><stop offset=".439" stop-color="#afafaf"/><stop offset=".52" stop-color="#b2b2b2"/><stop offset=".582" stop-color="#afafaf"/><stop offset=".622" stop-color="#a8a8a8"/><stop offset=".663" stop-color="#9e9e9e"/><stop offset=".704" stop-color="#919191"/><stop offset=".765" stop-color="#777"/><stop offset=".827" stop-color="#585858"/><stop offset=".888" stop-color="#353535"/><stop offset=".969" stop-color="#010101"/><stop offset=".99" stop-color="#000"/></linearGradient>
<linearGradient id="p454" gradientUnits="userSpaceOnUse" x1="526" x2="576"><stop offset=".01" stop-color="#000"/><stop offset=".09" stop-color="#393939"/><stop offset=".13" stop-color="#525252"/><stop offset=".19" stop-color="#707070"/><stop offset=".25" stop-color="#888"/><stop offset=".31" stop-color="#9a9a9a"/><stop offset=".37" stop-color="#a6a6a6"/><stop offset=".43" stop-color="#adadad"/><stop offset=".51" stop-color="#b1b1b1"/><stop offset=".57" stop-color="#b0b0b0"/><stop offset=".61" stop-color="#ababab"/><stop offset=".65" stop-color="#a2a2a2"/><stop offset=".71" stop-color="#8f8f8f"/><stop offset=".77" stop-color="#767676"/><stop offset=".83" stop-color="#575757"/><stop offset=".91" stop-color="#292929"/><stop offset=".97" stop-color="#010101"/><stop offset=".99" stop-color="#000"/></linearGradient>
<linearGradient id="p455" gradientUnits="userSpaceOnUse" x1="527" x2="578"><stop offset=".01" stop-color="#000"/><stop offset=".029" stop-color="#0a0a0a"/><stop offset=".069" stop-color="#282828"/><stop offset=".127" stop-color="#4e4e4e"/><stop offset=".186" stop-color="#6d6d6d"/><stop offset=".245" stop-color="#858585"/><stop offset=".304" stop-color="#979797"/><stop offset=".363" stop-color="#a4a4a4"/><stop offset=".441" stop-color="#adadad"/><stop offset=".52" stop-color="#b1b1b1"/><stop offset=".578" stop-color="#afafaf"/><stop offset=".618" stop-color="#a9a9a9"/><stop offset=".657" stop-color="#a0a0a0"/><stop offset=".716" stop-color="#8d8d8d"/><stop offset=".775" stop-color="#757575"/><stop offset=".853" stop-color="#4d4d4d"/><stop offset=".912" stop-color="#2a2a2a"/><stop offset=".971" stop-color="#020202"/><stop offset=".99" stop-color="#000"/></linearGradient>
<linearGradient id="p456" gradientUnits="userSpaceOnUse" x1="528" x2="580"><stop offset=".01" stop-color="#000"/><stop offset=".029" stop-color="#060606"/><stop offset=".087" stop-color="#323232"/><stop offset=".144" stop-color="#555"/><stop offset=".202" stop-color="#727272"/><stop offset=".26" stop-color="#888"/><stop offset=".317" stop-color="#999"/><stop offset=".375" stop-color="#a4a4a4"/><stop offset=".452" stop-color="#adadad"/><stop offset=".529" stop-color="#b0b0b0"/><stop offset=".587" stop-color="#adadad"/><stop offset=".625" stop-color="#a7a7a7"/><stop offset=".663" stop-color="#9e9e9e"/><stop offset=".721" stop-color="#8c8c8c"/><stop offset=".779" stop-color="#747474"/><stop offset=".837" stop-color="#575757"/><stop offset=".894" stop-color="#363636"/><stop offset=".971" stop-color="#030303"/><stop offset=".99" stop-color="#000"/></linearGradient>
<linearGradient id="p457" gradientUnits="userSpaceOnUse" x1="529" x2="582"><stop offset=".009" stop-color="#000"/><stop offset=".028" stop-color="#020202"/><stop offset=".085" stop-color="#2e2e2e"/><stop offset=".16" stop-color="#5c5c5c"/><stop offset=".217" stop-color="#767676"/><stop offset=".255" stop-color="#858585"/><stop offset=".311" stop-color="#969696"/><stop offset=".368" stop-color="#a2a2a2"/><stop offset=".443" stop-color="#ababab"/><stop offset=".519" stop-color="#afafaf"/><stop offset=".575" stop-color="#adadad"/><stop offset=".613" stop-color="#a9a9a9"/><stop offset=".67" stop-color="#9c9c9c"/><stop offset=".726" stop-color="#8a8a8a"/><stop offset=".821" stop-color="#616161"/><stop offset=".896" stop-color="#363636"/><stop offset=".972" stop-color="#050505"/><stop offset=".991" stop-color="#000"/></linearGradient>
<linearGradient id="p458" gradientUnits="userSpaceOnUse" x1="531" x2="584"><stop offset=".009" stop-color="#000"/><stop offset=".066" stop-color="#2a2a2a"/><stop offset=".123" stop-color="#4d4d4d"/><stop offset=".179" stop-color="#6b6b6b"/><stop offset=".236" stop-color="#828282"/><stop offset=".292" stop-color="#939393"/><stop offset=".368" stop-color="#a3a3a3"/><stop offset=".443" stop-color="#ababab"/><stop offset=".519" stop-color="#aeaeae"/><stop offset=".575" stop-color="#ababab"/><stop offset=".613" stop-color="#a7a7a7"/><stop offset=".67" stop-color="#9b9b9b"/><stop offset=".726" stop-color="#898989"/><stop offset=".783" stop-color="#727272"/><stop offset=".84" stop-color="#565656"/><stop offset=".896" stop-color="#363636"/><stop offset=".972" stop-color="#060606"/><stop offset=".991" stop-color="#000"/></linearGradient>
<linearGradient id="p459" gradientUnits="userSpaceOnUse" x1="532" x2="586"><stop offset=".009" stop-color="#000"/><stop offset=".028" stop-color="#0a0a0a"/><stop offset=".083" stop-color="#323232"/><stop offset=".139" stop-color="#555"/><stop offset=".194" stop-color="#707070"/><stop offset=".25" stop-color="#858585"/><stop offset=".306" stop-color="#959595"/><stop offset=".38" stop-color="#a3a3a3"/><stop offset=".435" stop-color="#a9a9a9"/><stop offset=".509" stop-color="#acacac"/><stop offset=".565" stop-color="#ababab"/><stop offset=".62" stop-color="#a5a5a5"/><stop offset=".676" stop-color="#999"/><stop offset=".731" stop-color="#878787"/><stop offset=".787" stop-color="#717171"/><stop offset=".843" stop-color="#565656"/><stop offset=".917" stop-color="#2b2b2b"/><stop offset=".972" stop-color="#070707"/><stop offset=".991" stop-color="#000"/></linearGradient>
<linearGradient id="p460" gradientUnits="userSpaceOnUse" x1="533" x2="588"><stop offset=".009" stop-color="#000"/><stop offset=".027" stop-color="#060606"/><stop offset=".082" stop-color="#2f2f2f"/><stop offset=".136" stop-color="#515151"/><stop offset=".191" stop-color="#6d6d6d"/><stop offset=".245" stop-color="#828282"/><stop offset=".3" stop-color="#929292"/><stop offset=".373" stop-color="#a1a1a1"/><stop offset=".445" stop-color="#a8a8a8"/><stop offset=".518" stop-color="#ababab"/><stop offset=".573" stop-color="#a9a9a9"/><stop offset=".627" stop-color="#a3a3a3"/><stop offset=".682" stop-color="#979797"/><stop offset=".736" stop-color="#868686"/><stop offset=".791" stop-color="#707070"/><stop offset=".845" stop-color="#565656"/><stop offset=".918" stop-color="#2c2c2c"/><stop offset=".973" stop-color="#070707"/><stop offset=".991" stop-color="#000"/></linearGradient>
<linearGradient id="p461" gradientUnits="userSpaceOnUse" x1="534" x2="590"><stop offset=".009" stop-color="#000"/><stop offset=".027" stop-color="#020202"/><stop offset=".08" stop-color="#2c2c2c"/><stop offset=".116" stop-color="#444"/><stop offset=".152" stop-color="#585858"/><stop offset=".205" stop-color="#717171"/><stop offset=".259" stop-color="#858585"/><stop offset=".33" stop-color="#979797"/><stop offset=".384" stop-color="#a1a1a1"/><stop offset=".455" stop-color="#a7a7a7"/><stop offset=".527" stop-color="#a9a9a9"/><stop offset=".58" stop-color="#a8a8a8"/><stop offset=".634" stop-color="#a1a1a1"/><stop offset=".688" stop-color="#969696"/><stop offset=".741" stop-color="#858585"/><stop offset=".795" stop-color="#6f6f6f"/><stop offset=".848" stop-color="#555"/><stop offset=".92" stop-color="#2c2c2c"/><stop offset=".973" stop-color="#070707"/><stop offset=".991" stop-color="#000"/></linearGradient>
<linearGradient id="p462" gradientUnits="userSpaceOnUse" x1="536" x2="592"><stop offset=".009" stop-color="#000"/><stop offset=".062" stop-color="#292929"/><stop offset=".116" stop-color="#4b4b4b"/><stop offset=".17" stop-color="#666"/><stop offset=".241" stop-color="#818181"/><stop offset=".312" stop-color="#959595"/><stop offset=".366" stop-color="#9e9e9e"/><stop offset=".438" stop-color="#a5a5a5"/><stop offset=".527" stop-color="#a8a8a8"/><stop offset=".58" stop-color="#a6a6a6"/><stop offset=".634" stop-color="#a0a0a0"/><stop offset=".688" stop-color="#949494"/><stop offset=".741" stop-color="#848484"/><stop offset=".795" stop-color="#6f6f6f"/><stop offset=".848" stop-color="#555"/><stop offset=".902" stop-color="#373737"/><stop offset=".973" stop-color="#070707"/><stop offset=".991" stop-color="#000"/></linearGradient>
<linearGradient id="p463" gradientUnits="userSpaceOnUse" x1="537" x2="594"><stop offset=".009" stop-color="#000"/><stop offset=".079" stop-color="#323232"/><stop offset=".114" stop-color="#474747"/><stop offset=".167" stop-color="#626262"/><stop offset=".237" stop-color="#7e7e7e"/><stop offset=".289" stop-color="#8d8d8d"/><stop offset=".36" stop-color="#9b9b9b"/><stop offset=".43" stop-color="#a2a2a2"/><stop offset=".518" stop-color="#a6a6a6"/><stop offset=".588" stop-color="#a4a4a4"/><stop offset=".64" stop-color="#9e9e9e"/><stop offset=".693" stop-color="#939393"/><stop offset=".746" stop-color="#838383"/><stop offset=".798" stop-color="#6e6e6e"/><stop offset=".851" stop-color="#545454"/><stop offset=".904" stop-color="#353535"/><stop offset=".974" stop-color="#060606"/><stop offset=".991" stop-color="#000"/></linearGradient>
<linearGradient id="p464" gradientUnits="userSpaceOnUse" x1="538" x2="596"><stop offset=".009" stop-color="#000"/><stop offset=".026" stop-color="#090909"/><stop offset=".078" stop-color="#2f2f2f"/><stop offset=".129" stop-color="#4e4e4e"/><stop offset=".181" stop-color="#676767"/><stop offset=".233" stop-color="#7b7b7b"/><stop offset=".302" stop-color="#8e8e8e"/><stop offset=".371" stop-color="#9a9a9a"/><stop offset=".44" stop-color="#a1a1a1"/><stop offset=".526" stop-color="#a4a4a4"/><stop offset=".595" stop-color="#a2a2a2"/><stop offset=".647" stop-color="#9c9c9c"/><stop offset=".698" stop-color="#919191"/><stop offset=".75" stop-color="#828282"/><stop offset=".802" stop-color="#6d6d6d"/><stop offset=".853" stop-color="#535353"/><stop offset=".905" stop-color="#343434"/><stop offset=".974" stop-color="#070707"/><stop offset=".991" stop-color="#000"/></linearGradient>
<linearGradient id="p465" gradientUnits="userSpaceOnUse" x1="539" x2="598"><stop offset=".008" stop-color="#000"/><stop offset=".025" stop-color="#060606"/><stop offset=".076" stop-color="#2c2c2c"/><stop offset=".144" stop-color="#535353"/><stop offset=".195" stop-color="#6b6b6b"/><stop offset=".246" stop-color="#7c7c7c"/><stop offset=".314" stop-color="#8e8e8e"/><stop offset=".381" stop-color="#999"/><stop offset=".449" stop-color="#a0a0a0"/><stop offset=".534" stop-color="#a3a3a3"/><stop offset=".602" stop-color="#a1a1a1"/><stop offset=".653" stop-color="#9b9b9b"/><stop offset=".703" stop-color="#909090"/><stop offset=".754" stop-color="#808080"/><stop offset=".805" stop-color="#6b6b6b"/><stop offset=".856" stop-color="#515151"/><stop offset=".907" stop-color="#333"/><stop offset=".975" stop-color="#080808"/><stop offset=".992" stop-color="#000"/></linearGradient>
<linearGradient id="p466" gradientUnits="userSpaceOnUse" x1="540" x2="600"><stop offset=".008" stop-color="#000"/><stop offset=".025" stop-color="#030303"/><stop offset=".075" stop-color="#282828"/><stop offset=".142" stop-color="#505050"/><stop offset=".192" stop-color="#676767"/><stop offset=".242" stop-color="#787878"/><stop offset=".308" stop-color="#8a8a8a"/><stop offset=".392" stop-color="#989898"/><stop offset=".458" stop-color="#9f9f9f"/><stop offset=".542" stop-color="#a1a1a1"/><stop offset=".642" stop-color="#9c9c9c"/><stop offset=".692" stop-color="#939393"/><stop offset=".742" stop-color="#848484"/><stop offset=".792" stop-color="#717171"/><stop offset=".842" stop-color="#595959"/><stop offset=".892" stop-color="#3d3d3d"/><stop offset=".992" stop-color="#000"/></linearGradient>
<linearGradient id="p467" gradientUnits="userSpaceOnUse" x1="542" x2="603"><stop offset=".008" stop-color="#010101"/><stop offset=".057" stop-color="#252525"/><stop offset=".123" stop-color="#4c4c4c"/><stop offset=".172" stop-color="#626262"/><stop offset=".238" stop-color="#797979"/><stop offset=".303" stop-color="#8a8a8a"/><stop offset=".385" stop-color="#989898"/><stop offset=".451" stop-color="#9d9d9d"/><stop offset=".533" stop-color="#9f9f9f"/><stop offset=".631" stop-color="#9a9a9a"/><stop offset=".68" stop-color="#919191"/><stop offset=".73" stop-color="#828282"/><stop offset=".811" stop-color="#606060"/><stop offset=".877" stop-color="#3d3d3d"/><stop offset=".975" stop-color="#040404"/><stop offset=".992" stop-color="#000"/></linearGradient>
<linearGradient id="p468" gradientUnits="userSpaceOnUse" x1="543" x2="605"><stop offset=".008" stop-color="#000"/><stop offset=".073" stop-color="#2d2d2d"/><stop offset=".121" stop-color="#484848"/><stop offset=".185" stop-color="#646464"/><stop offset=".25" stop-color="#7a7a7a"/><stop offset=".315" stop-color="#8a8a8a"/><stop offset=".379" stop-color="#959595"/><stop offset=".46" stop-color="#9b9b9b"/><stop offset=".54" stop-color="#9e9e9e"/><stop offset=".637" stop-color="#989898"/><stop offset=".685" stop-color="#8f8f8f"/><stop offset=".734" stop-color="#808080"/><stop offset=".782" stop-color="#6d6d6d"/><stop offset=".831" stop-color="#575757"/><stop offset=".992" stop-color="#000"/></linearGradient>
<linearGradient id="p469" gradientUnits="userSpaceOnUse" x1="544" x2="608"><stop offset=".008" stop-color="#000"/><stop offset=".023" stop-color="#080808"/><stop offset=".07" stop-color="#292929"/><stop offset=".133" stop-color="#4b4b4b"/><stop offset=".195" stop-color="#666"/><stop offset=".258" stop-color="#7a7a7a"/><stop offset=".32" stop-color="#898989"/><stop offset=".383" stop-color="#939393"/><stop offset=".461" stop-color="#9a9a9a"/><stop offset=".539" stop-color="#9c9c9c"/><stop offset=".586" stop-color="#9b9b9b"/><stop offset=".633" stop-color="#969696"/><stop offset=".68" stop-color="#8d8d8d"/><stop offset=".727" stop-color="#7e7e7e"/><stop offset=".82" stop-color="#575757"/><stop offset=".977" stop-color="#050505"/><stop offset=".992" stop-color="#000"/></linearGradient>
<linearGradient id="p470" gradientUnits="userSpaceOnUse" x1="545" x2="611"><stop offset=".008" stop-color="#000"/><stop offset=".023" stop-color="#040404"/><stop offset=".083" stop-color="#2d2d2d"/><stop offset=".144" stop-color="#4d4d4d"/><stop offset=".189" stop-color="#616161"/><stop offset=".25" stop-color="#767676"/><stop offset=".311" stop-color="#868686"/><stop offset=".371" stop-color="#8f8f8f"/><stop offset=".462" stop-color="#989898"/><stop offset=".538" stop-color="#9a9a9a"/><stop offset=".583" stop-color="#999"/><stop offset=".629" stop-color="#949494"/><stop offset=".674" stop-color="#8b8b8b"/><stop offset=".72" stop-color="#7d7d7d"/><stop offset=".795" stop-color="#5e5e5e"/><stop offset=".871" stop-color="#3a3a3a"/><stop offset=".977" stop-color="#030303"/><stop offset=".992" stop-color="#000"/></linearGradient>
<linearGradient id="p471" gradientUnits="userSpaceOnUse" x1="547" x2="613"><stop offset=".008" stop-color="#000"/><stop offset=".053" stop-color="#1f1f1f"/><stop offset=".114" stop-color="#414141"/><stop offset=".174" stop-color="#5c5c5c"/><stop offset=".235" stop-color="#727272"/><stop offset=".295" stop-color="#818181"/><stop offset=".371" stop-color="#8d8d8d"/><stop offset=".447" stop-color="#959595"/><stop offset=".523" stop-color="#989898"/><stop offset=".583" stop-color="#979797"/><stop offset=".629" stop-color="#929292"/><stop offset=".674" stop-color="#898989"/><stop offset=".72" stop-color="#7b7b7b"/><stop offset=".78" stop-color="#656565"/><stop offset=".841" stop-color="#4a4a4a"/><stop offset=".932" stop-color="#202020"/><stop offset=".977" stop-color="#040404"/><stop offset=".992" stop-color="#000"/></linearGradient>
<linearGradient id="p472" gradientUnits="userSpaceOnUse" x1="548" x2="615"><stop offset=".007" stop-color="#000"/><stop offset=".022" stop-color="#050505"/><stop offset=".082" stop-color="#2c2c2c"/><stop offset=".142" stop-color="#4b4b4b"/><stop offset=".201" stop-color="#636363"/><stop offset=".246" stop-color="#727272"/><stop offset=".321" stop-color="#828282"/><stop offset=".396" stop-color="#8d8d8d"/><stop offset=".47" stop-color="#949494"/><stop offset=".53" stop-color="#969696"/><stop offset=".59" stop-color="#959595"/><stop offset=".634" stop-color="#909090"/><stop offset=".679" stop-color="#878787"/><stop offset=".724" stop-color="#7a7a7a"/><stop offset=".799" stop-color="#5f5f5f"/><stop offset=".888" stop-color="#393939"/><stop offset=".918" stop-color="#2a2a2a"/><stop offset=".978" stop-color="#050505"/><stop offset=".993" stop-color="#000"/></linearGradient>
<linearGradient id="p473" gradientUnits="userSpaceOnUse" x1="550" x2="617"><stop offset=".007" stop-color="#000"/><stop offset=".067" stop-color="#262626"/><stop offset=".112" stop-color="#3f3f3f"/><stop offset=".172" stop-color="#595959"/><stop offset=".216" stop-color="#696969"/><stop offset=".291" stop-color="#7a7a7a"/><stop offset=".381" stop-color="#898989"/><stop offset=".455" stop-color="#919191"/><stop offset=".53" stop-color="#949494"/><stop offset=".59" stop-color="#929292"/><stop offset=".634" stop-color="#8e8e8e"/><stop offset=".679" stop-color="#858585"/><stop offset=".739" stop-color="#747474"/><stop offset=".873" stop-color="#424242"/><stop offset=".993" stop-color="#000"/></linearGradient>
<linearGradient id="p474" gradientUnits="userSpaceOnUse" x1="551" x2="620"><stop offset=".007" stop-color="#000"/><stop offset=".022" stop-color="#050505"/><stop offset=".065" stop-color="#212121"/><stop offset=".123" stop-color="#414141"/><stop offset=".167" stop-color="#545454"/><stop offset=".21" stop-color="#636363"/><stop offset=".297" stop-color="#787878"/><stop offset=".384" stop-color="#878787"/><stop offset=".457" stop-color="#8f8f8f"/><stop offset=".529" stop-color="#929292"/><stop offset=".587" stop-color="#909090"/><stop offset=".63" stop-color="#8c8c8c"/><stop offset=".688" stop-color="#808080"/><stop offset=".746" stop-color="#6f6f6f"/><stop offset=".833" stop-color="#505050"/><stop offset=".964" stop-color="#0a0a0a"/><stop offset=".978" stop-color="#030303"/><stop offset=".993" stop-color="#000"/></linearGradient>
<linearGradient id="p475" gradientUnits="userSpaceOnUse" x1="553" x2="622"><stop offset=".007" stop-color="#000"/><stop offset=".065" stop-color="#252525"/><stop offset=".109" stop-color="#3c3c3c"/><stop offset=".152" stop-color="#4e4e4e"/><stop offset=".21" stop-color="#606060"/><stop offset=".297" stop-color="#757575"/><stop offset=".37" stop-color="#838383"/><stop offset=".457" stop-color="#8c8c8c"/><stop offset=".529" stop-color="#8f8f8f"/><stop offset=".587" stop-color="#8e8e8e"/><stop offset=".645" stop-color="#878787"/><stop offset=".703" stop-color="#7b7b7b"/><stop offset=".775" stop-color="#666"/><stop offset=".833" stop-color="#4f4f4f"/><stop offset=".993" stop-color="#000"/></linearGradient>
<linearGradient id="p476" gradientUnits="userSpaceOnUse" x1="554" x2="624"><stop offset=".007" stop-color="#000"/><stop offset=".021" stop-color="#040404"/><stop offset=".079" stop-color="#272727"/><stop offset=".121" stop-color="#3d3d3d"/><stop offset=".164" stop-color="#4c4c4c"/><stop offset=".236" stop-color="#616161"/><stop offset=".307" stop-color="#737373"/><stop offset=".379" stop-color="#808080"/><stop offset=".464" stop-color="#8a8a8a"/><stop offset=".536" stop-color="#8d8d8d"/><stop offset=".593" stop-color="#8b8b8b"/><stop offset=".65" stop-color="#858585"/><stop offset=".707" stop-color="#7a7a7a"/><stop offset=".764" stop-color="#6b6b6b"/><stop offset=".936" stop-color="#212121"/><stop offset=".95" stop-color="#191919"/><stop offset=".979" stop-color="#050505"/><stop offset=".993" stop-color="#000"/></linearGradient>
<linearGradient id="p477" gradientUnits="userSpaceOnUse" x1="556" x2="625"><stop offset=".007" stop-color="#000"/><stop offset=".065" stop-color="#222"/><stop offset=".109" stop-color="#363636"/><stop offset=".181" stop-color="#4e4e4e"/><stop offset=".254" stop-color="#626262"/><stop offset=".326" stop-color="#737373"/><stop offset=".399" stop-color="#7f7f7f"/><stop offset=".471" stop-color="#888"/><stop offset=".543" stop-color="#8b8b8b"/><stop offset=".645" stop-color="#858585"/><stop offset=".703" stop-color="#7c7c7c"/><stop offset=".746" stop-color="#727272"/><stop offset=".92" stop-color="#2f2f2f"/><stop offset=".949" stop-color="#1f1f1f"/><stop offset=".993" stop-color="#000"/></linearGradient>
<linearGradient id="p478" gradientUnits="userSpaceOnUse" x1="557" x2="627"><stop offset=".007" stop-color="#000"/><stop offset=".021" stop-color="#030303"/><stop offset=".064" stop-color="#1b1b1b"/><stop offset=".121" stop-color="#333"/><stop offset=".193" stop-color="#4b4b4b"/><stop offset=".279" stop-color="#646464"/><stop offset=".35" stop-color="#737373"/><stop offset=".421" stop-color="#7f7f7f"/><stop offset=".493" stop-color="#868686"/><stop offset=".55" stop-color="#888"/><stop offset=".607" stop-color="#868686"/><stop offset=".664" stop-color="#818181"/><stop offset=".707" stop-color="#7a7a7a"/><stop offset=".75" stop-color="#6e6e6e"/><stop offset=".893" stop-color="#3c3c3c"/><stop offset=".921" stop-color="#2d2d2d"/><stop offset=".979" stop-color="#030303"/><stop offset=".993" stop-color="#000"/></linearGradient>
<linearGradient id="p479" gradientUnits="userSpaceOnUse" x1="559" x2="628"><stop offset=".007" stop-color="#000"/><stop offset=".065" stop-color="#191919"/><stop offset=".138" stop-color="#353535"/><stop offset=".21" stop-color="#4c4c4c"/><stop offset=".283" stop-color="#606060"/><stop offset=".355" stop-color="#707070"/><stop offset=".428" stop-color="#7c7c7c"/><stop offset=".486" stop-color="#828282"/><stop offset=".558" stop-color="#848484"/><stop offset=".63" stop-color="#828282"/><stop offset=".688" stop-color="#7c7c7c"/><stop offset=".79" stop-color="#626262"/><stop offset=".862" stop-color="#4b4b4b"/><stop offset=".891" stop-color="#404040"/><stop offset=".935" stop-color="#262626"/><stop offset=".993" stop-color="#000"/></linearGradient>
<linearGradient id="p480" gradientUnits="userSpaceOnUse" x1="561" x2="630"><stop offset=".007" stop-color="#000"/><stop offset=".022" stop-color="#030303"/><stop offset=".094" stop-color="#212121"/><stop offset=".181" stop-color="#404040"/><stop offset=".239" stop-color="#525252"/><stop offset=".312" stop-color="#636363"/><stop offset=".384" stop-color="#727272"/><stop offset=".442" stop-color="#7a7a7a"/><stop offset=".5" stop-color="#7f7f7f"/><stop offset=".572" stop-color="#818181"/><stop offset=".63" stop-color="#7f7f7f"/><stop offset=".674" stop-color="#7a7a7a"/><stop offset=".732" stop-color="#6e6e6e"/><stop offset=".833" stop-color="#535353"/><stop offset=".877" stop-color="#414141"/><stop offset=".993" stop-color="#000"/></linearGradient>
<linearGradient id="p481" gradientUnits="userSpaceOnUse" x1="564" x2="631"><stop offset=".007" stop-color="#000"/><stop offset=".097" stop-color="#232323"/><stop offset=".172" stop-color="#3d3d3d"/><stop offset=".306" stop-color="#606060"/><stop offset=".366" stop-color="#6c6c6c"/><stop offset=".425" stop-color="#757575"/><stop offset=".5" stop-color="#7b7b7b"/><stop offset=".575" stop-color="#7d7d7d"/><stop offset=".619" stop-color="#7d7d7d"/><stop offset=".679" stop-color="#757575"/><stop offset=".813" stop-color="#595959"/><stop offset=".858" stop-color="#484848"/><stop offset=".948" stop-color="#1d1d1d"/><stop offset=".978" stop-color="#0c0c0c"/><stop offset=".993" stop-color="#000"/></linearGradient>
<linearGradient id="p482" gradientUnits="userSpaceOnUse" x1="566" x2="632"><stop offset=".008" stop-color="#000"/><stop offset=".023" stop-color="#020202"/><stop offset=".159" stop-color="#343434"/><stop offset=".25" stop-color="#4d4d4d"/><stop offset=".326" stop-color="#5f5f5f"/><stop offset=".386" stop-color="#6a6a6a"/><stop offset=".447" stop-color="#727272"/><stop offset=".523" stop-color="#787878"/><stop offset=".583" stop-color="#797979"/><stop offset=".689" stop-color="#6f6f6f"/><stop offset=".78" stop-color="#606060"/><stop offset=".811" stop-color="#585858"/><stop offset=".947" stop-color="#212121"/><stop offset=".962" stop-color="#181818"/><stop offset=".992" stop-color="#000"/></linearGradient>
<linearGradient id="p483" gradientUnits="userSpaceOnUse" x1="569" x2="634"><stop offset=".008" stop-color="#000"/><stop offset=".131" stop-color="#2b2b2b"/><stop offset=".223" stop-color="#454545"/><stop offset=".3" stop-color="#585858"/><stop offset=".423" stop-color="#6b6b6b"/><stop offset=".546" stop-color="#747474"/><stop offset=".654" stop-color="#6d6d6d"/><stop offset=".762" stop-color="#5d5d5d"/><stop offset=".9" stop-color="#2e2e2e"/><stop offset=".931" stop-color="#202020"/><stop offset=".977" stop-color="#020202"/><stop offset=".992" stop-color="#000"/></linearGradient>
<linearGradient id="p484" gradientUnits="userSpaceOnUse" x1="572" x2="634"><stop offset=".008" stop-color="#000"/><stop offset=".073" stop-color="#171717"/><stop offset=".153" stop-color="#2f2f2f"/><stop offset=".282" stop-color="#505050"/><stop offset=".427" stop-color="#656565"/><stop offset=".54" stop-color="#6d6d6d"/><stop offset=".653" stop-color="#686868"/><stop offset=".75" stop-color="#5c5c5c"/><stop offset=".911" stop-color="#2b2b2b"/><stop offset=".976" stop-color="#0b0b0b"/><stop offset=".992" stop-color="#000"/></linearGradient>
<linearGradient id="p485" gradientUnits="userSpaceOnUse" x1="574" x2="634"><stop offset=".008" stop-color="#000"/><stop offset=".025" stop-color="#010101"/><stop offset=".175" stop-color="#2e2e2e"/><stop offset=".275" stop-color="#474747"/><stop offset=".408" stop-color="#5b5b5b"/><stop offset=".525" stop-color="#656565"/><stop offset=".642" stop-color="#626262"/><stop offset=".742" stop-color="#585858"/><stop offset=".892" stop-color="#2f2f2f"/><stop offset=".925" stop-color="#212121"/><stop offset=".992" stop-color="#000"/></linearGradient>
<linearGradient id="p486" gradientUnits="userSpaceOnUse" x1="578" x2="633"><stop offset=".009" stop-color="#000"/><stop offset=".136" stop-color="#242424"/><stop offset=".245" stop-color="#3c3c3c"/><stop offset=".427" stop-color="#565656"/><stop offset=".482" stop-color="#5b5b5b"/><stop offset=".536" stop-color="#5b5b5b"/><stop offset=".645" stop-color="#595959"/><stop offset=".736" stop-color="#525252"/><stop offset=".827" stop-color="#3d3d3d"/><stop offset=".9" stop-color="#292929"/><stop offset=".936" stop-color="#1a1a1a"/><stop offset=".973" stop-color="#040404"/><stop offset=".991" stop-color="#000"/></linearGradient>
<linearGradient id="p487" gradientUnits="userSpaceOnUse" x1="581" x2="632"><stop offset=".01" stop-color="#000"/><stop offset=".167" stop-color="#272727"/><stop offset=".324" stop-color="#404040"/><stop offset=".461" stop-color="#4f4f4f"/><stop offset=".578" stop-color="#515151"/><stop offset=".696" stop-color="#4d4d4d"/><stop offset=".755" stop-color="#464646"/><stop offset=".892" stop-color="#242424"/><stop offset=".931" stop-color="#171717"/><stop offset=".971" stop-color="#010101"/><stop offset=".99" stop-color="#000"/></linearGradient>
<linearGradient id="p488" gradientUnits="userSpaceOnUse" x1="584" x2="630"><stop offset=".011" stop-color="#000"/><stop offset=".141" stop-color="#1a1a1a"/><stop offset=".359" stop-color="#3a3a3a"/><stop offset=".446" stop-color="#424242"/><stop offset=".598" stop-color="#454545"/><stop offset=".707" stop-color="#424242"/><stop offset=".772" stop-color="#3a3a3a"/><stop offset=".902" stop-color="#1c1c1c"/><stop offset=".989" stop-color="#000"/></linearGradient>
<linearGradient id="p489" gradientUnits="userSpaceOnUse" x1="587" x2="628"><stop offset=".012" stop-color="#000"/><stop offset=".037" stop-color="#010101"/><stop offset=".207" stop-color="#1b1b1b"/><stop offset=".378" stop-color="#2f2f2f"/><stop offset=".451" stop-color="#343434"/><stop offset=".622" stop-color="#373737"/><stop offset=".72" stop-color="#343434"/><stop offset=".768" stop-color="#303030"/><stop offset=".866" stop-color="#1d1d1d"/><stop offset=".988" stop-color="#000"/></linearGradient>
<linearGradient id="p490" gradientUnits="userSpaceOnUse" x1="592" x2="625"><stop offset=".015" stop-color="#000"/><stop offset=".348" stop-color="#212121"/><stop offset=".621" stop-color="#272727"/><stop offset=".742" stop-color="#242424"/><stop offset=".803" stop-color="#202020"/><stop offset=".985" stop-color="#000"/></linearGradient>
<linearGradient id="p491" gradientUnits="userSpaceOnUse" x1="598" x2="622"><stop offset=".021" stop-color="#010101"/><stop offset=".271" stop-color="#101010"/><stop offset=".604" stop-color="#141414"/><stop offset=".812" stop-color="#101010"/><stop offset=".979" stop-color="#000"/></linearGradient>
</defs>
<g clip-path="url(#cl)"><g filter="url(#pf)"><rect x="29" y="4" width="199" height="7" fill="url(#a0)"/>
<rect x="29" y="11" width="199" height="7" fill="url(#a1)"/>
<rect x="29" y="18" width="199" height="7" fill="url(#a2)"/>
<rect x="29" y="25" width="199" height="7" fill="url(#a3)"/>
<rect x="29" y="32" width="199" height="8" fill="url(#a4)"/>
<rect x="29" y="40" width="199" height="8" fill="url(#a5)"/>
<rect x="29" y="48" width="199" height="10" fill="url(#a6)"/>
<rect x="29" y="58" width="199" height="10" fill="url(#a7)"/>
<rect x="29" y="68" width="199" height="9" fill="url(#a8)"/>
<rect x="29" y="77" width="199" height="9" fill="url(#a9)"/>
<rect x="29" y="86" width="199" height="8" fill="url(#a10)"/>
<rect x="29" y="94" width="199" height="8" fill="url(#a11)"/>
<rect x="29" y="102" width="199" height="6" fill="url(#a12)"/>
<rect x="29" y="108" width="199" height="5" fill="url(#a13)"/>
<rect x="29" y="113" width="199" height="5" fill="url(#a14)"/>
<rect x="29" y="118" width="199" height="5" fill="url(#a15)"/>
<rect x="29" y="123" width="199" height="4" fill="url(#a16)"/>
<rect x="29" y="127" width="199" height="4" fill="url(#a17)"/>
<rect x="29" y="131" width="199" height="5" fill="url(#a18)"/>
<rect x="29" y="136" width="199" height="4" fill="url(#a19)"/>
<rect x="29" y="140" width="199" height="4" fill="url(#a20)"/>
<rect x="29" y="144" width="199" height="4" fill="url(#a21)"/>
<rect x="29" y="148" width="199" height="5" fill="url(#a22)"/>
<rect x="29" y="153" width="199" height="6" fill="url(#a23)"/>
<rect x="29" y="159" width="199" height="9" fill="url(#a24)"/>
<rect x="29" y="168" width="199" height="11" fill="url(#a25)"/>
<rect x="29" y="179" width="199" height="5" fill="url(#a26)"/>
<rect x="29" y="184" width="199" height="4" fill="url(#a27)"/>
<rect x="29" y="188" width="199" height="3" fill="url(#a28)"/>
<rect x="29" y="191" width="199" height="3" fill="url(#a29)"/>
<rect x="29" y="194" width="199" height="3" fill="url(#a30)"/>
<rect x="29" y="197" width="199" height="3" fill="url(#a31)"/>
<rect x="29" y="200" width="199" height="3" fill="url(#a32)"/>
<rect x="29" y="203" width="199" height="3" fill="url(#a33)"/>
<rect x="29" y="206" width="199" height="2" fill="url(#a34)"/>
<rect x="29" y="208" width="199" height="2" fill="url(#a35)"/>
<rect x="29" y="210" width="199" height="2" fill="url(#a36)"/>
<rect x="29" y="212" width="199" height="2" fill="url(#a37)"/>
<rect x="29" y="214" width="199" height="2" fill="url(#a38)"/>
<rect x="29" y="216" width="199" height="1" fill="url(#a39)"/>
<rect x="29" y="217" width="199" height="1" fill="url(#a40)"/>
<rect x="29" y="218" width="199" height="1" fill="url(#a41)"/>
<rect x="29" y="219" width="199" height="1" fill="url(#a42)"/>
<rect x="29" y="220" width="199" height="1" fill="url(#a43)"/>
<rect x="29" y="221" width="199" height="1" fill="url(#a44)"/>
<rect x="29" y="222" width="199" height="1" fill="url(#a45)"/>
<rect x="29" y="223" width="199" height="1" fill="url(#a46)"/>
<rect x="29" y="224" width="199" height="1" fill="url(#a47)"/>
<rect x="29" y="225" width="199" height="1" fill="url(#a48)"/>
<rect x="29" y="226" width="199" height="1" fill="url(#a49)"/>
<rect x="29" y="227" width="199" height="1" fill="url(#a50)"/>
<rect x="29" y="228" width="199" height="1" fill="url(#a51)"/>
<rect x="29" y="229" width="199" height="1" fill="url(#a52)"/>
<rect x="29" y="230" width="199" height="1" fill="url(#a53)"/>
<rect x="29" y="231" width="199" height="2" fill="url(#a54)"/>
<rect x="29" y="233" width="199" height="2" fill="url(#a55)"/>
<rect x="29" y="235" width="199" height="2" fill="url(#a56)"/>
<rect x="29" y="237" width="199" height="2" fill="url(#a57)"/>
<rect x="29" y="239" width="199" height="1" fill="url(#a58)"/>
<rect x="29" y="240" width="199" height="1" fill="url(#a59)"/>
<rect x="29" y="241" width="199" height="1" fill="url(#a60)"/>
<rect x="29" y="242" width="199" height="1" fill="url(#a61)"/>
<rect x="29" y="243" width="199" height="1" fill="url(#a62)"/>
<rect x="29" y="244" width="199" height="1" fill="url(#a63)"/>
<rect x="29" y="245" width="199" height="1" fill="url(#a64)"/>
<rect x="29" y="246" width="199" height="1" fill="url(#a65)"/>
<rect x="29" y="247" width="199" height="1" fill="url(#a66)"/>
<rect x="29" y="248" width="199" height="1" fill="url(#a67)"/>
<rect x="29" y="249" width="199" height="1" fill="url(#a68)"/>
<rect x="29" y="250" width="199" height="1" fill="url(#a69)"/>
<rect x="29" y="251" width="199" height="1" fill="url(#a70)"/>
<rect x="29" y="252" width="199" height="1" fill="url(#a71)"/>
<rect x="29" y="253" width="199" height="1" fill="url(#a72)"/>
<rect x="29" y="254" width="199" height="1" fill="url(#a73)"/>
<rect x="29" y="255" width="199" height="1" fill="url(#a74)"/>
<rect x="29" y="256" width="199" height="1" fill="url(#a75)"/>
<rect x="29" y="257" width="199" height="1" fill="url(#a76)"/>
<rect x="29" y="258" width="199" height="1" fill="url(#a77)"/>
<rect x="29" y="259" width="199" height="1" fill="url(#a78)"/>
<rect x="29" y="260" width="199" height="1" fill="url(#a79)"/>
<rect x="29" y="261" width="199" height="1" fill="url(#a80)"/>
<rect x="29" y="262" width="199" height="1" fill="url(#a81)"/>
<rect x="29" y="263" width="199" height="1" fill="url(#a82)"/>
<rect x="29" y="264" width="199" height="1" fill="url(#a83)"/>
<rect x="29" y="265" width="199" height="1" fill="url(#a84)"/>
<rect x="29" y="266" width="199" height="1" fill="url(#a85)"/>
<rect x="29" y="267" width="199" height="1" fill="url(#a86)"/>
<rect x="29" y="268" width="199" height="1" fill="url(#a87)"/>
<rect x="29" y="269" width="199" height="1" fill="url(#a88)"/>
<rect x="29" y="270" width="199" height="1" fill="url(#a89)"/>
<rect x="29" y="271" width="199" height="1" fill="url(#a90)"/>
<rect x="29" y="272" width="199" height="1" fill="url(#a91)"/>
<rect x="29" y="273" width="199" height="1" fill="url(#a92)"/>
<rect x="29" y="274" width="199" height="1" fill="url(#a93)"/>
<rect x="29" y="275" width="199" height="1" fill="url(#a94)"/>
<rect x="29" y="276" width="199" height="1" fill="url(#a95)"/>
<rect x="29" y="277" width="199" height="1" fill="url(#a96)"/>
<rect x="29" y="278" width="199" height="1" fill="url(#a97)"/>
<rect x="29" y="279" width="199" height="1" fill="url(#a98)"/>
<rect x="29" y="280" width="199" height="1" fill="url(#a99)"/>
<rect x="29" y="281" width="199" height="1" fill="url(#a100)"/>
<rect x="29" y="282" width="199" height="1" fill="url(#a101)"/>
<rect x="29" y="283" width="199" height="1" fill="url(#a102)"/>
<rect x="29" y="284" width="199" height="1" fill="url(#a103)"/>
<rect x="29" y="285" width="199" height="1" fill="url(#a104)"/>
<rect x="29" y="286" width="199" height="1" fill="url(#a105)"/>
<rect x="29" y="287" width="199" height="1" fill="url(#a106)"/>
<rect x="29" y="288" width="199" height="1" fill="url(#a107)"/>
<rect x="29" y="289" width="199" height="1" fill="url(#a108)"/>
<rect x="29" y="290" width="199" height="1" fill="url(#a109)"/>
<rect x="29" y="291" width="199" height="1" fill="url(#a110)"/>
<rect x="29" y="292" width="199" height="1" fill="url(#a111)"/>
<rect x="29" y="293" width="199" height="1" fill="url(#a112)"/>
<rect x="29" y="294" width="199" height="1" fill="url(#a113)"/>
<rect x="29" y="295" width="199" height="1" fill="url(#a114)"/>
<rect x="29" y="296" width="199" height="1" fill="url(#a115)"/>
<rect x="29" y="297" width="199" height="1" fill="url(#a116)"/>
<rect x="29" y="298" width="199" height="1" fill="url(#a117)"/>
<rect x="29" y="299" width="199" height="1" fill="url(#a118)"/>
<rect x="29" y="300" width="199" height="1" fill="url(#a119)"/>
<rect x="29" y="301" width="199" height="1" fill="url(#a120)"/>
<rect x="29" y="302" width="199" height="1" fill="url(#a121)"/></g></g>
<g filter="url(#pf)"><rect x="259.50" y="7.80" width="187.50" height="137.70" fill="#000"/>
<rect x="338" y="67" width="18" height="1" fill="url(#p10)"/>
<rect x="335" y="68" width="24" height="1" fill="url(#p11)"/>
<rect x="332" y="69" width="30" height="1" fill="url(#p12)"/>
<rect x="330" y="70" width="33" height="1" fill="url(#p13)"/>
<rect x="327" y="71" width="37" height="1" fill="url(#p14)"/>
<rect x="325" y="72" width="39" height="1" fill="url(#p15)"/>
<rect x="322" y="73" width="44" height="1" fill="url(#p16)"/>
<rect x="320" y="74" width="51" height="1" fill="url(#p17)"/>
<rect x="318" y="75" width="58" height="1" fill="url(#p18)"/>
<rect x="318" y="76" width="63" height="1" fill="url(#p19)"/>
<rect x="320" y="77" width="62" height="1" fill="url(#p110)"/>
<rect x="322" y="78" width="55" height="1" fill="url(#p111)"/>
<rect x="324" y="79" width="47" height="1" fill="url(#p112)"/>
<rect x="326" y="80" width="40" height="1" fill="url(#p113)"/>
<rect x="328" y="81" width="35" height="1" fill="url(#p114)"/>
<rect x="329" y="82" width="33" height="1" fill="url(#p115)"/>
<rect x="330" y="83" width="31" height="1" fill="url(#p116)"/>
<rect x="332" y="84" width="27" height="1" fill="url(#p117)"/>
<rect x="334" y="85" width="23" height="1" fill="url(#p118)"/>
<rect x="339" y="86" width="13" height="1" fill="url(#p119)"/>
<rect x="454.90" y="9.00" width="189.50" height="136.40" fill="#000"/>
<rect x="539" y="67" width="13" height="1" fill="url(#p20)"/>
<rect x="534" y="68" width="23" height="1" fill="url(#p21)"/>
<rect x="531" y="69" width="29" height="1" fill="url(#p22)"/>
<rect x="530" y="70" width="31" height="1" fill="url(#p23)"/>
<rect x="511" y="71" width="50" height="1" fill="url(#p24)"/>
<rect x="495" y="72" width="66" height="1" fill="url(#p25)"/>
<rect x="495" y="73" width="70" height="1" fill="url(#p26)"/>
<rect x="500" y="74" width="73" height="1" fill="url(#p27)"/>
<rect x="505" y="75" width="77" height="1" fill="url(#p28)"/>
<rect x="510" y="76" width="80" height="1" fill="url(#p29)"/>
<rect x="515" y="77" width="82" height="1" fill="url(#p210)"/>
<rect x="521" y="78" width="82" height="1" fill="url(#p211)"/>
<rect x="525" y="79" width="83" height="1" fill="url(#p212)"/>
<rect x="525" y="80" width="83" height="1" fill="url(#p213)"/>
<rect x="523" y="81" width="67" height="1" fill="url(#p214)"/>
<rect x="523" y="82" width="34" height="1" fill="url(#p215)"/>
<rect x="524" y="83" width="32" height="1" fill="url(#p216)"/>
<rect x="526" y="84" width="28" height="1" fill="url(#p217)"/>
<rect x="530" y="85" width="20" height="1" fill="url(#p218)"/>
<rect x="259.40" y="160.70" width="187.60" height="142.60" fill="#000"/>
<rect x="295" y="218" width="10" height="1" fill="url(#p30)"/>
<rect x="294" y="219" width="17" height="1" fill="url(#p31)"/>
<rect x="293" y="220" width="23" height="1" fill="url(#p32)"/>
<rect x="293" y="221" width="28" height="1" fill="url(#p33)"/>
<rect x="293" y="222" width="57" height="1" fill="url(#p34)"/>
<rect x="294" y="223" width="59" height="1" fill="url(#p35)"/>
<rect x="296" y="224" width="55" height="1" fill="url(#p36)"/>
<rect x="299" y="225" width="47" height="1" fill="url(#p37)"/>
<rect x="303" y="226" width="45" height="1" fill="url(#p38)"/>
<rect x="306" y="227" width="48" height="1" fill="url(#p39)"/>
<rect x="309" y="228" width="51" height="1" fill="url(#p310)"/>
<rect x="312" y="229" width="56" height="1" fill="url(#p311)"/>
<rect x="314" y="230" width="60" height="1" fill="url(#p312)"/>
<rect x="317" y="231" width="65" height="1" fill="url(#p313)"/>
<rect x="321" y="232" width="69" height="1" fill="url(#p314)"/>
<rect x="325" y="233" width="74" height="1" fill="url(#p315)"/>
<rect x="329" y="234" width="79" height="1" fill="url(#p316)"/>
<rect x="334" y="235" width="83" height="1" fill="url(#p317)"/>
<rect x="337" y="236" width="87" height="1" fill="url(#p318)"/>
<rect x="334" y="237" width="99" height="1" fill="url(#p319)"/>
<rect x="330" y="238" width="107" height="1" fill="url(#p320)"/>
<rect x="330" y="239" width="106" height="1" fill="url(#p321)"/>
<rect x="333" y="240" width="96" height="1" fill="url(#p322)"/>
<rect x="340" y="241" width="76" height="1" fill="url(#p323)"/>
<rect x="455.10" y="161.00" width="189.30" height="142.30" fill="#000"/>
<rect x="494" y="183" width="4" height="1" fill="url(#p40)"/>
<rect x="491" y="184" width="10" height="1" fill="url(#p41)"/>
<rect x="490" y="185" width="13" height="1" fill="url(#p42)"/>
<rect x="490" y="186" width="14" height="1" fill="url(#p43)"/>
<rect x="491" y="187" width="14" height="1" fill="url(#p44)"/>
<rect x="491" y="188" width="16" height="1" fill="url(#p45)"/>
<rect x="492" y="189" width="16" height="1" fill="url(#p46)"/>
<rect x="492" y="190" width="17" height="1" fill="url(#p47)"/>
<rect x="493" y="191" width="17" height="1" fill="url(#p48)"/>
<rect x="494" y="192" width="17" height="1" fill="url(#p49)"/>
<rect x="494" y="193" width="18" height="1" fill="url(#p410)"/>
<rect x="495" y="194" width="18" height="1" fill="url(#p411)"/>
<rect x="495" y="195" width="18" height="1" fill="url(#p412)"/>
<rect x="496" y="196" width="18" height="1" fill="url(#p413)"/>
<rect x="496" y="197" width="19" height="1" fill="url(#p414)"/>
<rect x="497" y="198" width="19" height="1" fill="url(#p415)"/>
<rect x="498" y="199" width="19" height="1" fill="url(#p416)"/>
<rect x="498" y="200" width="20" height="1" fill="url(#p417)"/>
<rect x="499" y="201" width="19" height="1" fill="url(#p418)"/>
<rect x="499" y="202" width="20" height="1" fill="url(#p419)"/>
<rect x="500" y="203" width="20" height="1" fill="url(#p420)"/>
<rect x="500" y="204" width="21" height="1" fill="url(#p421)"/>
<rect x="501" y="205" width="21" height="1" fill="url(#p422)"/>
<rect x="501" y="206" width="21" height="1" fill="url(#p423)"/>
<rect x="502" y="207" width="21" height="1" fill="url(#p424)"/>
<rect x="502" y="208" width="22" height="1" fill="url(#p425)"/>
<rect x="503" y="209" width="22" height="1" fill="url(#p426)"/>
<rect x="503" y="210" width="23" height="1" fill="url(#p427)"/>
<rect x="504" y="211" width="23" height="1" fill="url(#p428)"/>
<rect x="505" y="212" width="23" height="1" fill="url(#p429)"/>
<rect x="505" y="213" width="24" height="1" fill="url(#p430)"/>
<rect x="506" y="214" width="25" height="1" fill="url(#p431)"/>
<rect x="506" y="215" width="26" height="1" fill="url(#p432)"/>
<rect x="507" y="216" width="27" height="1" fill="url(#p433)"/>
<rect x="507" y="217" width="28" height="1" fill="url(#p434)"/>
<rect x="508" y="218" width="29" height="1" fill="url(#p435)"/>
<rect x="509" y="219" width="29" height="1" fill="url(#p436)"/>
<rect x="509" y="220" width="31" height="1" fill="url(#p437)"/>
<rect x="510" y="221" width="32" height="1" fill="url(#p438)"/>
<rect x="511" y="222" width="33" height="1" fill="url(#p439)"/>
<rect x="512" y="223" width="34" height="1" fill="url(#p440)"/>
<rect x="512" y="224" width="36" height="1" fill="url(#p441)"/>
<rect x="513" y="225" width="37" height="1" fill="url(#p442)"/>
<rect x="514" y="226" width="38" height="1" fill="url(#p443)"/>
<rect x="515" y="227" width="39" height="1" fill="url(#p444)"/>
<rect x="516" y="228" width="40" height="1" fill="url(#p445)"/>
<rect x="517" y="229" width="42" height="1" fill="url(#p446)"/>
<rect x="518" y="230" width="43" height="1" fill="url(#p447)"/>
<rect x="519" y="231" width="44" height="1" fill="url(#p448)"/>
<rect x="520" y="232" width="45" height="1" fill="url(#p449)"/>
<rect x="521" y="233" width="46" height="1" fill="url(#p450)"/>
<rect x="522" y="234" width="47" height="1" fill="url(#p451)"/>
<rect x="524" y="235" width="47" height="1" fill="url(#p452)"/>
<rect x="525" y="236" width="49" height="1" fill="url(#p453)"/>
<rect x="526" y="237" width="50" height="1" fill="url(#p454)"/>
<rect x="527" y="238" width="51" height="1" fill="url(#p455)"/>
<rect x="528" y="239" width="52" height="1" fill="url(#p456)"/>
<rect x="529" y="240" width="53" height="1" fill="url(#p457)"/>
<rect x="531" y="241" width="53" height="1" fill="url(#p458)"/>
<rect x="532" y="242" width="54" height="1" fill="url(#p459)"/>
<rect x="533" y="243" width="55" height="1" fill="url(#p460)"/>
<rect x="534" y="244" width="56" height="1" fill="url(#p461)"/>
<rect x="536" y="245" width="56" height="1" fill="url(#p462)"/>
<rect x="537" y="246" width="57" height="1" fill="url(#p463)"/>
<rect x="538" y="247" width="58" height="1" fill="url(#p464)"/>
<rect x="539" y="248" width="59" height="1" fill="url(#p465)"/>
<rect x="540" y="249" width="60" height="1" fill="url(#p466)"/>
<rect x="542" y="250" width="61" height="1" fill="url(#p467)"/>
<rect x="543" y="251" width="62" height="1" fill="url(#p468)"/>
<rect x="544" y="252" width="64" height="1" fill="url(#p469)"/>
<rect x="545" y="253" width="66" height="1" fill="url(#p470)"/>
<rect x="547" y="254" width="66" height="1" fill="url(#p471)"/>
<rect x="548" y="255" width="67" height="1" fill="url(#p472)"/>
<rect x="550" y="256" width="67" height="1" fill="url(#p473)"/>
<rect x="551" y="257" width="69" height="1" fill="url(#p474)"/>
<rect x="553" y="258" width="69" height="1" fill="url(#p475)"/>
<rect x="554" y="259" width="70" height="1" fill="url(#p476)"/>
<rect x="556" y="260" width="69" height="1" fill="url(#p477)"/>
<rect x="557" y="261" width="70" height="1" fill="url(#p478)"/>
<rect x="559" y="262" width="69" height="1" fill="url(#p479)"/>
<rect x="561" y="263" width="69" height="1" fill="url(#p480)"/>
<rect x="564" y="264" width="67" height="1" fill="url(#p481)"/>
<rect x="566" y="265" width="66" height="1" fill="url(#p482)"/>
<rect x="569" y="266" width="65" height="1" fill="url(#p483)"/>
<rect x="572" y="267" width="62" height="1" fill="url(#p484)"/>
<rect x="574" y="268" width="60" height="1" fill="url(#p485)"/>
<rect x="578" y="269" width="55" height="1" fill="url(#p486)"/>
<rect x="581" y="270" width="51" height="1" fill="url(#p487)"/>
<rect x="584" y="271" width="46" height="1" fill="url(#p488)"/>
<rect x="587" y="272" width="41" height="1" fill="url(#p489)"/>
<rect x="592" y="273" width="33" height="1" fill="url(#p490)"/>
<rect x="598" y="274" width="24" height="1" fill="url(#p491)"/></g>
<text x="25.90" y="305.50" font-size="9.50" text-anchor="end" fill="#262626">0</text>
<text x="25.90" y="275.72" font-size="9.50" text-anchor="end" fill="#262626">1</text>
<text x="25.90" y="245.94" font-size="9.50" text-anchor="end" fill="#262626">2</text>
<text x="25.90" y="216.16" font-size="9.50" text-anchor="end" fill="#262626">3</text>
<text x="25.90" y="186.38" font-size="9.50" text-anchor="end" fill="#262626">4</text>
<text x="25.90" y="156.60" font-size="9.50" text-anchor="end" fill="#262626">5</text>
<text x="25.90" y="126.82" font-size="9.50" text-anchor="end" fill="#262626">6</text>
<text x="25.90" y="97.04" font-size="9.50" text-anchor="end" fill="#262626">7</text>
<text x="25.90" y="67.26" font-size="9.50" text-anchor="end" fill="#262626">8</text>
<text x="25.90" y="37.48" font-size="9.50" text-anchor="end" fill="#262626">9</text>
<text x="25.90" y="7.70" font-size="9.50" text-anchor="end" fill="#262626">10</text>
<text x="29.20" y="315.80" font-size="9.50" text-anchor="middle" fill="#262626">1.5</text>
<text x="57.50" y="315.80" font-size="9.50" text-anchor="middle" fill="#262626">2</text>
<text x="85.80" y="315.80" font-size="9.50" text-anchor="middle" fill="#262626">2.5</text>
<text x="114.10" y="315.80" font-size="9.50" text-anchor="middle" fill="#262626">3</text>
<text x="142.40" y="315.80" font-size="9.50" text-anchor="middle" fill="#262626">3.5</text>
<text x="170.70" y="315.80" font-size="9.50" text-anchor="middle" fill="#262626">4</text>
<text x="199.00" y="315.80" font-size="9.50" text-anchor="middle" fill="#262626">4.5</text>
<text x="227.30" y="315.80" font-size="9.50" text-anchor="middle" fill="#262626">5</text>
<text x="123.80" y="329.40" font-size="10.30" text-anchor="middle" fill="#262626">Wavelength [µm]</text>
<text transform="translate(10.6,152.3) rotate(-90)" font-size="10.60" text-anchor="middle" fill="#262626">Distance / mm</text>
<line x1="29.2" y1="64.70" x2="227.3" y2="63.90" stroke="#f4f4f4" stroke-width="1.3" stroke-dasharray="4.8 4"/>
<line x1="29.2" y1="246.10" x2="227.3" y2="245.30" stroke="#f4f4f4" stroke-width="1.3" stroke-dasharray="4.8 4"/>
<line x1="29.2" y1="280.50" x2="227.3" y2="280.60" stroke="#f4f4f4" stroke-width="1.3" stroke-dasharray="4.8 4"/>
<line x1="29.2" y1="297.60" x2="227.3" y2="298.60" stroke="#f4f4f4" stroke-width="1.3" stroke-dasharray="4.8 4"/>
<text x="217.10" y="55.70" font-size="9.50" text-anchor="middle" fill="#e6e6ee" stroke="#e6e6ee" stroke-width="0.2">(4)</text>
<text x="217.10" y="236.20" font-size="9.50" text-anchor="middle" fill="#e6e6ee" stroke="#e6e6ee" stroke-width="0.2">(3)</text>
<text x="217.10" y="270.50" font-size="9.50" text-anchor="middle" fill="#e6e6ee" stroke="#e6e6ee" stroke-width="0.2">(2)</text>
<text x="217.10" y="292.50" font-size="9.50" text-anchor="middle" fill="#e6e6ee" stroke="#e6e6ee" stroke-width="0.2">(1)</text>
<text x="155.90" y="163.40" font-size="6.50" text-anchor="middle" fill="#1c3a16">µ</text>
<text x="256.60" y="11.10" font-size="9.50" text-anchor="end" fill="#262626">2</text>
<text x="256.60" y="45.90" font-size="9.50" text-anchor="end" fill="#262626">1</text>
<text x="256.60" y="80.10" font-size="9.50" text-anchor="end" fill="#262626">0</text>
<text x="256.60" y="114.70" font-size="9.50" text-anchor="end" fill="#262626">-1</text>
<text x="256.60" y="149.50" font-size="9.50" text-anchor="end" fill="#262626">-2</text>
<text x="256.60" y="164.20" font-size="9.50" text-anchor="end" fill="#262626">2</text>
<text x="256.60" y="200.00" font-size="9.50" text-anchor="end" fill="#262626">1</text>
<text x="256.60" y="236.30" font-size="9.50" text-anchor="end" fill="#262626">0</text>
<text x="256.60" y="271.10" font-size="9.50" text-anchor="end" fill="#262626">-1</text>
<text x="256.60" y="307.70" font-size="9.50" text-anchor="end" fill="#262626">-2</text>
<text transform="translate(243.9,77.0) rotate(-90)" font-size="10.30" text-anchor="middle" fill="#262626">Time [ps]</text>
<text transform="translate(243.9,232.0) rotate(-90)" font-size="10.30" text-anchor="middle" fill="#262626">Time [ps]</text>
<text x="283.00" y="316.50" font-size="9.50" text-anchor="middle" fill="#262626">1.5</text>
<text x="306.42" y="316.50" font-size="9.50" text-anchor="middle" fill="#262626">2</text>
<text x="329.84" y="316.50" font-size="9.50" text-anchor="middle" fill="#262626">2.5</text>
<text x="353.26" y="316.50" font-size="9.50" text-anchor="middle" fill="#262626">3</text>
<text x="376.68" y="316.50" font-size="9.50" text-anchor="middle" fill="#262626">3.5</text>
<text x="400.10" y="316.50" font-size="9.50" text-anchor="middle" fill="#262626">4</text>
<text x="423.52" y="316.50" font-size="9.50" text-anchor="middle" fill="#262626">4.5</text>
<text x="354.30" y="329.40" font-size="10.30" text-anchor="middle" fill="#262626">Wavelength [µm]</text>
<text x="481.20" y="316.50" font-size="9.50" text-anchor="middle" fill="#262626">1.5</text>
<text x="504.57" y="316.50" font-size="9.50" text-anchor="middle" fill="#262626">2</text>
<text x="527.94" y="316.50" font-size="9.50" text-anchor="middle" fill="#262626">2.5</text>
<text x="551.31" y="316.50" font-size="9.50" text-anchor="middle" fill="#262626">3</text>
<text x="574.68" y="316.50" font-size="9.50" text-anchor="middle" fill="#262626">3.5</text>
<text x="598.05" y="316.50" font-size="9.50" text-anchor="middle" fill="#262626">4</text>
<text x="621.42" y="316.50" font-size="9.50" text-anchor="middle" fill="#262626">4.5</text>
<text x="551.70" y="329.40" font-size="10.30" text-anchor="middle" fill="#262626">Wavelength [µm]</text>
<text x="281.50" y="29.80" font-size="11.00" text-anchor="middle" fill="#e6e6ee" stroke="#e6e6ee" stroke-width="0.25">(1)</text>
<text x="472.50" y="30.00" font-size="11.00" text-anchor="middle" fill="#e6e6ee" stroke="#e6e6ee" stroke-width="0.25">(2)</text>
<text x="276.30" y="183.00" font-size="11.00" text-anchor="middle" fill="#e6e6ee" stroke="#e6e6ee" stroke-width="0.25">(3)</text>
<text x="472.60" y="182.70" font-size="11.00" text-anchor="middle" fill="#e6e6ee" stroke="#e6e6ee" stroke-width="0.25">(4)</text>
<linearGradient id="cbg" x1="0" y1="1" x2="0" y2="0"><stop offset="0" stop-color="#352a87"/><stop offset="0.0159" stop-color="#363093"/><stop offset="0.0317" stop-color="#3637a0"/><stop offset="0.0476" stop-color="#353dad"/><stop offset="0.0635" stop-color="#3243ba"/><stop offset="0.0794" stop-color="#2c4ac7"/><stop offset="0.0952" stop-color="#2053d4"/><stop offset="0.1111" stop-color="#0f5cdd"/><stop offset="0.127" stop-color="#0363e1"/><stop offset="0.1429" stop-color="#0268e1"/><stop offset="0.1587" stop-color="#046de0"/><stop offset="0.1746" stop-color="#0871de"/><stop offset="0.1905" stop-color="#0d75dc"/><stop offset="0.2063" stop-color="#1079da"/><stop offset="0.2222" stop-color="#127dd8"/><stop offset="0.2381" stop-color="#1481d6"/><stop offset="0.254" stop-color="#1485d4"/><stop offset="0.2698" stop-color="#1389d3"/><stop offset="0.2857" stop-color="#108ed2"/><stop offset="0.3016" stop-color="#0c93d2"/><stop offset="0.3175" stop-color="#0998d1"/><stop offset="0.3333" stop-color="#079ccf"/><stop offset="0.3492" stop-color="#06a0cd"/><stop offset="0.3651" stop-color="#06a4ca"/><stop offset="0.381" stop-color="#06a7c6"/><stop offset="0.3968" stop-color="#07a9c2"/><stop offset="0.4127" stop-color="#0aacbe"/><stop offset="0.4286" stop-color="#0faeb9"/><stop offset="0.4444" stop-color="#15b1b4"/><stop offset="0.4603" stop-color="#1db3af"/><stop offset="0.4762" stop-color="#25b5a9"/><stop offset="0.4921" stop-color="#2eb7a4"/><stop offset="0.5079" stop-color="#38b99e"/><stop offset="0.5238" stop-color="#42bb98"/><stop offset="0.5397" stop-color="#4dbc92"/><stop offset="0.5556" stop-color="#59bd8c"/><stop offset="0.5714" stop-color="#65be86"/><stop offset="0.5873" stop-color="#71bf80"/><stop offset="0.6032" stop-color="#7cbf7b"/><stop offset="0.619" stop-color="#87bf77"/><stop offset="0.6349" stop-color="#92bf73"/><stop offset="0.6508" stop-color="#9cbf6f"/><stop offset="0.6667" stop-color="#a5be6b"/><stop offset="0.6825" stop-color="#aebe67"/><stop offset="0.6984" stop-color="#b7bd64"/><stop offset="0.7143" stop-color="#c0bc60"/><stop offset="0.7302" stop-color="#c8bc5d"/><stop offset="0.746" stop-color="#d1bb59"/><stop offset="0.7619" stop-color="#d9ba56"/><stop offset="0.7778" stop-color="#e1b952"/><stop offset="0.7937" stop-color="#e9b94e"/><stop offset="0.8095" stop-color="#f1b94a"/><stop offset="0.8254" stop-color="#f8bb44"/><stop offset="0.8413" stop-color="#fdbe3d"/><stop offset="0.8571" stop-color="#ffc337"/><stop offset="0.873" stop-color="#fec832"/><stop offset="0.8889" stop-color="#fcce2e"/><stop offset="0.9048" stop-color="#fad32a"/><stop offset="0.9206" stop-color="#f7d826"/><stop offset="0.9365" stop-color="#f5de21"/><stop offset="0.9524" stop-color="#f5e41d"/><stop offset="0.9683" stop-color="#f5eb18"/><stop offset="0.9841" stop-color="#f6f313"/><stop offset="1" stop-color="#f9fb0e"/></linearGradient>
<rect x="654.6" y="10.2" width="14.8" height="295.1" fill="url(#cbg)" stroke="#3a3a3a" stroke-width="0.6"/>
<line x1="667.6" y1="10.20" x2="669.4" y2="10.20" stroke="#3a3a3a" stroke-width="0.6"/>
<text x="673.20" y="13.35" font-size="7.40" text-anchor="start" fill="#262626">0</text>
<line x1="667.6" y1="39.71" x2="669.4" y2="39.71" stroke="#3a3a3a" stroke-width="0.6"/>
<text x="673.20" y="42.86" font-size="7.40" text-anchor="start" fill="#262626">-5</text>
<line x1="667.6" y1="69.22" x2="669.4" y2="69.22" stroke="#3a3a3a" stroke-width="0.6"/>
<text x="673.20" y="72.37" font-size="7.40" text-anchor="start" fill="#262626">-10</text>
<line x1="667.6" y1="98.73" x2="669.4" y2="98.73" stroke="#3a3a3a" stroke-width="0.6"/>
<text x="673.20" y="101.88" font-size="7.40" text-anchor="start" fill="#262626">-15</text>
<line x1="667.6" y1="128.24" x2="669.4" y2="128.24" stroke="#3a3a3a" stroke-width="0.6"/>
<text x="673.20" y="131.39" font-size="7.40" text-anchor="start" fill="#262626">-20</text>
<line x1="667.6" y1="157.75" x2="669.4" y2="157.75" stroke="#3a3a3a" stroke-width="0.6"/>
<text x="673.20" y="160.90" font-size="7.40" text-anchor="start" fill="#262626">-25</text>
<line x1="667.6" y1="187.26" x2="669.4" y2="187.26" stroke="#3a3a3a" stroke-width="0.6"/>
<text x="673.20" y="190.41" font-size="7.40" text-anchor="start" fill="#262626">-30</text>
<line x1="667.6" y1="216.77" x2="669.4" y2="216.77" stroke="#3a3a3a" stroke-width="0.6"/>
<text x="673.20" y="219.92" font-size="7.40" text-anchor="start" fill="#262626">-35</text>
<line x1="667.6" y1="246.28" x2="669.4" y2="246.28" stroke="#3a3a3a" stroke-width="0.6"/>
<text x="673.20" y="249.43" font-size="7.40" text-anchor="start" fill="#262626">-40</text>
<line x1="667.6" y1="275.79" x2="669.4" y2="275.79" stroke="#3a3a3a" stroke-width="0.6"/>
<text x="673.20" y="278.94" font-size="7.40" text-anchor="start" fill="#262626">-45</text>
<line x1="667.6" y1="305.30" x2="669.4" y2="305.30" stroke="#3a3a3a" stroke-width="0.6"/>
<text x="673.20" y="308.45" font-size="7.40" text-anchor="start" fill="#262626">-50</text>
</svg>
</body></html>
